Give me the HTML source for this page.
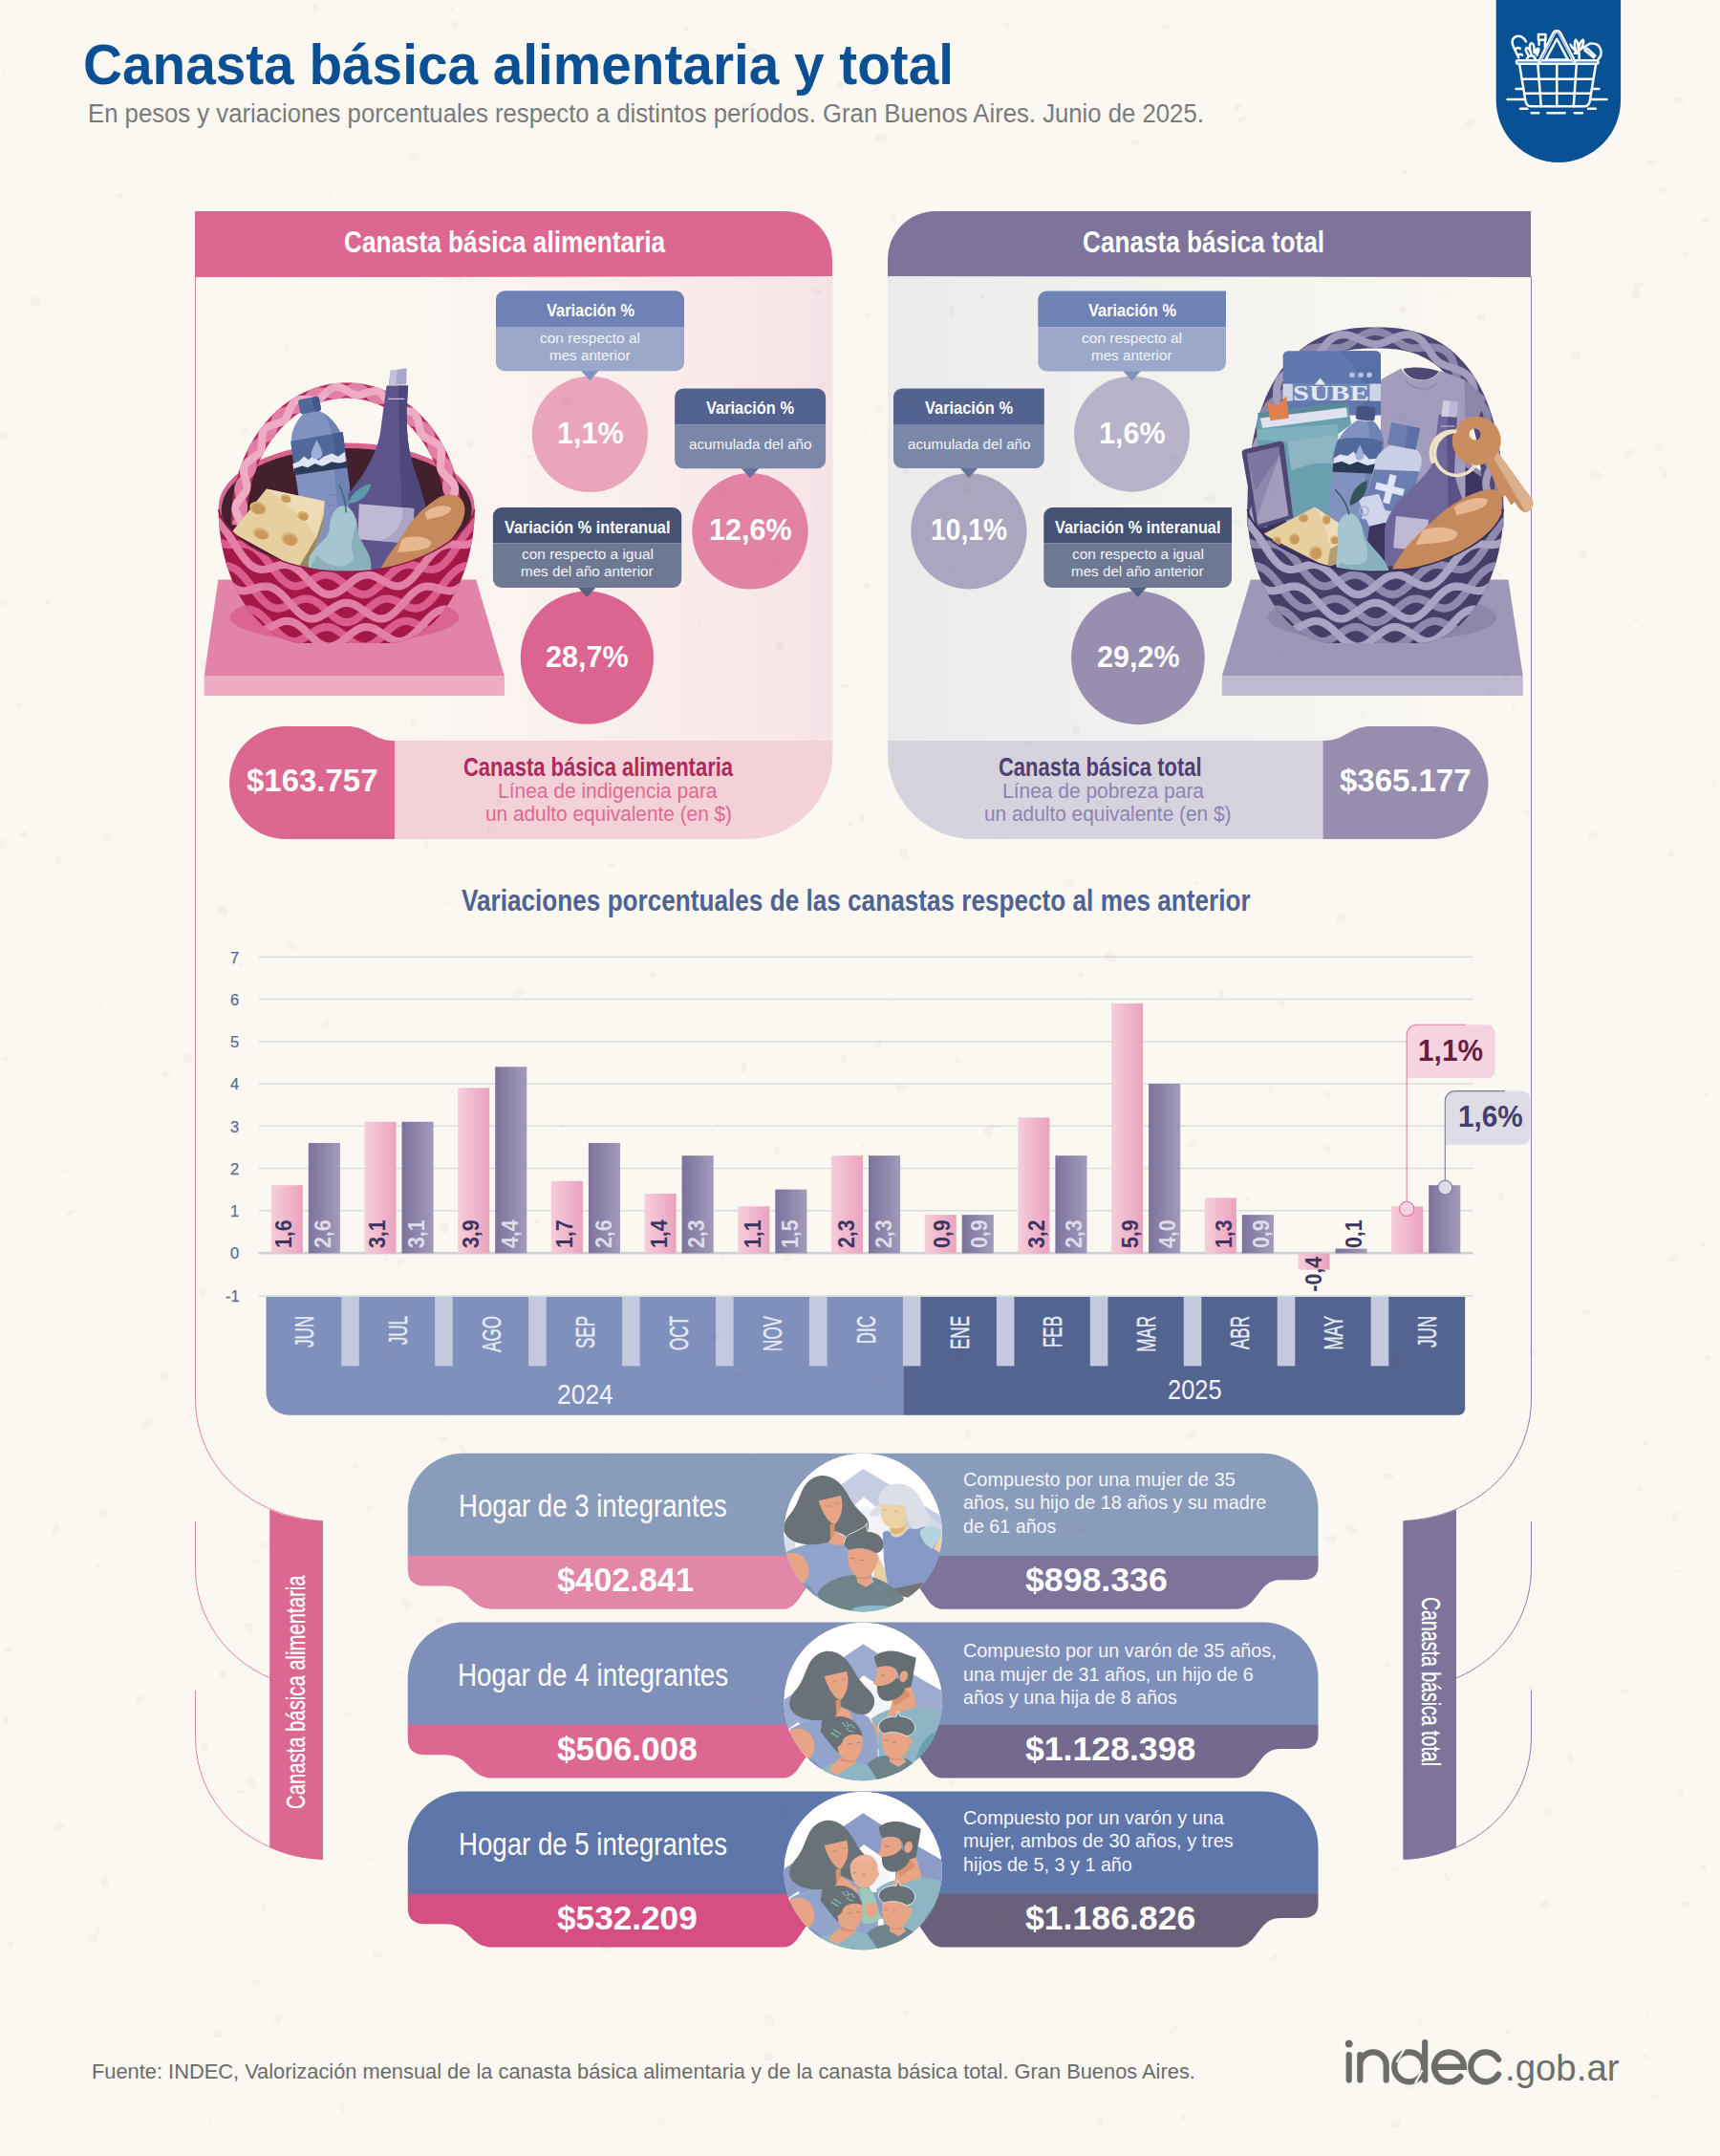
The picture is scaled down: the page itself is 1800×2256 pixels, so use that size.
<!DOCTYPE html>
<html lang="es"><head><meta charset="utf-8"><title>Canasta básica alimentaria y total</title>
<style>
html,body{margin:0;padding:0;}
body{width:1800px;height:2256px;position:relative;overflow:hidden;background:#fbf8f1;font-family:"Liberation Sans",sans-serif;}
#bg,#tex{position:absolute;left:0;top:0;}
.t{position:absolute;white-space:nowrap;line-height:1;transform-origin:0 0;margin:0;padding:0;}
</style></head><body>
<svg id="bg" width="1800" height="2256" viewBox="0 0 1800 2256">
<path d="M1565.7 0H1696.1V104.7a65.2 65.2 0 0 1-130.4 0Z" fill="#095195"/>
<g transform="translate(1560,0) scale(0.08347)" fill="none" stroke="#fff" stroke-width="30" stroke-linecap="round" stroke-linejoin="round">
<rect x="322" y="757" width="1026" height="42" rx="21"/>
<path d="M362 812L436 1262C444 1312 470 1332 505 1332H1175C1210 1332 1236 1312 1244 1262L1318 812"/>
<path d="M830 812V1332M592 812L632 1332M1076 812L1040 1332"/>
<path d="M397 990H1282M428 1170H1252"/>
<path d="M612 770L794 412Q804 394 830 394Q856 394 866 412L1050 770" stroke-width="46"/>
<path d="M622 770L800 420Q808 404 830 404Q852 404 860 420L1040 770" stroke="#095195" stroke-width="7"/>
<path d="M690 748L830 488L968 748Z"/>
<path d="M318 1115H392M1280 1115H1358M212 1246H418M1256 1246H1456M372 1363H460M1222 1363H1316M512 1418H602M712 1418H930M1052 1418H1150"/>
<path d="M350 722L278 570C232 452 392 400 442 522"/>
<path d="M318 610q30-20 50 0M345 690q30-20 52 0"/>
<path d="M598 432H688V500H598ZM606 500V560M682 500V600"/>
<path d="M470 690C440 640 430 610 450 600C480 600 500 640 510 680M500 650C480 580 490 545 515 540C545 550 550 600 545 655M560 665C570 620 590 600 600 610C612 630 595 660 580 690M455 742C470 690 540 680 560 740"/>
<path d="M1000 560C1020 600 1040 620 1068 640C1050 580 1050 530 1065 500C1090 520 1100 560 1098 610C1110 560 1130 515 1160 500C1175 540 1150 590 1110 640"/>
<path d="M1075 650L1245 545M1262 545C1400 540 1410 690 1345 745"/>
<path d="M1180 628L1292 722M1215 610L1310 700M1180 628Q1192 605 1215 610"/>
<path d="M1050 668H1110V745"/>
</g>
<defs>
<linearGradient id="gpk" x1="0" x2="1" y1="0" y2="0"><stop offset="0" stop-color="#f9e6ea" stop-opacity="0"/><stop offset="0.35" stop-color="#f9e6ea" stop-opacity="0.06"/><stop offset="0.62" stop-color="#f9e6ea" stop-opacity="0.45"/><stop offset="1" stop-color="#f7e3e7" stop-opacity="1"/></linearGradient>
<linearGradient id="gpu" x1="0" x2="1" y1="0" y2="0"><stop offset="0" stop-color="#ebebec" stop-opacity="1"/><stop offset="0.55" stop-color="#efeeed" stop-opacity="0.5"/><stop offset="1" stop-color="#f3f1ee" stop-opacity="0"/></linearGradient>
<linearGradient id="bpk" x1="0" x2="1" y1="0" y2="0"><stop offset="0" stop-color="#f6cedb"/><stop offset="1" stop-color="#eaa2bf"/></linearGradient>
<linearGradient id="bpu" x1="0" x2="1" y1="0" y2="0"><stop offset="0" stop-color="#7c729c"/><stop offset="1" stop-color="#a39bbb"/></linearGradient>
</defs>
<path d="M204.5 289V1463C204.5 1535 262.5 1587.5 337.5 1591.5" fill="none" stroke="#e27fa2" stroke-width="1"/>
<path d="M204.5 1592V1640C204.5 1712 262.5 1764.5 337.5 1768.5" fill="none" stroke="#e27fa2" stroke-width="1"/>
<path d="M204.5 1769V1817C204.5 1889 262.5 1941.5 337.5 1945.5" fill="none" stroke="#e27fa2" stroke-width="1"/>
<path d="M1602.5 289V1463C1602.5 1535 1544.5 1587.5 1469.5 1591.5" fill="none" stroke="#8a82a8" stroke-width="1"/>
<path d="M1602.5 1592V1640C1602.5 1712 1544.5 1764.5 1469.5 1768.5" fill="none" stroke="#8a82a8" stroke-width="1"/>
<path d="M1602.5 1769V1817C1602.5 1889 1544.5 1941.5 1469.5 1945.5" fill="none" stroke="#8a82a8" stroke-width="1"/>
<path d="M204 221H821a50 50 0 0 1 50 50V290H204Z" fill="#dc6892"/>
<rect x="204.5" y="289" width="667" height="487" fill="url(#gpk)"/>
<path d="M413 775H871.5V788a90 90 0 0 1-90 90H413Z" fill="#f3d1d9"/>
<path d="M299 760H362C388 760 388 775 413 775V878H299a59 59 0 0 1 0-118Z" fill="#dc6892"/>
<path d="M1602 221H979a50 50 0 0 0-50 50V290H1602Z" fill="#7e739a"/>
<path d="M929 289H1602.5V878H1019a90 90 0 0 1-90-90Z" fill="url(#gpu)"/>
<path d="M929 775H1384.5V878H1019a90 90 0 0 1-90-90Z" fill="#d6d3df"/>
<path d="M1384.5 775C1410 775 1410 760 1436 760H1498.5a59 59 0 0 1 0 118H1384.5Z" fill="#978eaf"/>
<circle cx="617.4" cy="454.4" r="60.6" fill="#e9a5bc"/>
<circle cx="785" cy="555.8" r="60.7" fill="#e283a6"/>
<circle cx="614.4" cy="688.2" r="69.6" fill="#dc6490"/>
<path d="M607.8 387.7H626.8L617.3 398.2Z" fill="#8292bf"/>
<path d="M528 304.3H707a9 9 0 0 1 9 9V342H519V313.3a9 9 0 0 1 9-9Z" fill="#6f82b5"/>
<path d="M519 342H716V379.2a9 9 0 0 1-9 9H528a9 9 0 0 1-9-9Z" fill="#9ba8c9"/>
<path d="M775.5 489.8H794.5L785 500.3Z" fill="#66739b"/>
<path d="M715.1 406.6H855.1a9 9 0 0 1 9 9V444.6H706.1V415.6a9 9 0 0 1 9-9Z" fill="#53638f"/>
<path d="M706.1 444.6H864.1V481.3a9 9 0 0 1-9 9H715.1a9 9 0 0 1-9-9Z" fill="#7b87a8"/>
<path d="M604.7 614.5H623.7L614.2 625Z" fill="#566083"/>
<path d="M524.9 531H704.2a9 9 0 0 1 9 9V568.6H515.9V540a9 9 0 0 1 9-9Z" fill="#465274"/>
<path d="M515.9 568.6H713.2V606a9 9 0 0 1-9 9H524.9a9 9 0 0 1-9-9Z" fill="#6e7893"/>
<circle cx="1184.6" cy="454.2" r="60.5" fill="#b8b2c9"/>
<circle cx="1013.9" cy="555.8" r="60.6" fill="#aba5c0"/>
<circle cx="1190.9" cy="688.4" r="69.8" fill="#978eb0"/>
<path d="M1175.1 387.9H1194.1L1184.6 398.4Z" fill="#8292bf"/>
<path d="M1095.3 304.6H1282.99a0.01 0.01 0 0 1 0.01 0.01V342.3H1086.3V313.6a9 9 0 0 1 9-9Z" fill="#6f82b5"/>
<path d="M1086.3 342.3H1283V379.4a9 9 0 0 1-9 9H1095.3a9 9 0 0 1-9-9Z" fill="#9ba8c9"/>
<path d="M1004.4 489.5H1023.4L1013.9 500Z" fill="#66739b"/>
<path d="M944 406.4H1092.79a0.01 0.01 0 0 1 0.01 0.01V444.8H935V415.4a9 9 0 0 1 9-9Z" fill="#53638f"/>
<path d="M935 444.8H1092.8V481a9 9 0 0 1-9 9H944a9 9 0 0 1-9-9Z" fill="#7b87a8"/>
<path d="M1181.2 614.5H1200.2L1190.7 625Z" fill="#566083"/>
<path d="M1101.3 531H1288.99a0.01 0.01 0 0 1 0.01 0.01V568.6H1092.3V540a9 9 0 0 1 9-9Z" fill="#465274"/>
<path d="M1092.3 568.6H1289V606a9 9 0 0 1-9 9H1101.3a9 9 0 0 1-9-9Z" fill="#6e7893"/>
<rect x="270.7" y="1355.2" width="1270.7" height="1.7" fill="#dbdcdb"/>
<rect x="270.7" y="1266.00" width="1270.7" height="1.5" fill="#dadcdf"/>
<rect x="270.7" y="1221.75" width="1270.7" height="1.5" fill="#dadcdf"/>
<rect x="270.7" y="1177.50" width="1270.7" height="1.5" fill="#dadcdf"/>
<rect x="270.7" y="1133.25" width="1270.7" height="1.5" fill="#dadcdf"/>
<rect x="270.7" y="1089.00" width="1270.7" height="1.5" fill="#dadcdf"/>
<rect x="270.7" y="1044.75" width="1270.7" height="1.5" fill="#dadcdf"/>
<rect x="270.7" y="1000.50" width="1270.7" height="1.5" fill="#dadcdf"/>
<rect x="270.7" y="1309.90" width="1270.7" height="2.5" fill="#cfd0d1"/>
<rect x="283.75" y="1240.20" width="33.1" height="71.20" fill="url(#bpk)"/>
<rect x="322.80" y="1195.95" width="33.1" height="115.45" fill="url(#bpu)"/>
<rect x="381.45" y="1173.83" width="33.1" height="137.58" fill="url(#bpk)"/>
<rect x="420.50" y="1173.83" width="33.1" height="137.58" fill="url(#bpu)"/>
<rect x="479.15" y="1138.42" width="33.1" height="172.98" fill="url(#bpk)"/>
<rect x="518.20" y="1116.30" width="33.1" height="195.10" fill="url(#bpu)"/>
<rect x="576.85" y="1235.78" width="33.1" height="75.62" fill="url(#bpk)"/>
<rect x="615.90" y="1195.95" width="33.1" height="115.45" fill="url(#bpu)"/>
<rect x="674.55" y="1249.05" width="33.1" height="62.35" fill="url(#bpk)"/>
<rect x="713.60" y="1209.22" width="33.1" height="102.18" fill="url(#bpu)"/>
<rect x="772.25" y="1262.33" width="33.1" height="49.08" fill="url(#bpk)"/>
<rect x="811.30" y="1244.62" width="33.1" height="66.78" fill="url(#bpu)"/>
<rect x="869.95" y="1209.22" width="33.1" height="102.18" fill="url(#bpk)"/>
<rect x="909.00" y="1209.22" width="33.1" height="102.18" fill="url(#bpu)"/>
<rect x="967.65" y="1271.17" width="33.1" height="40.23" fill="url(#bpk)"/>
<rect x="1006.70" y="1271.17" width="33.1" height="40.23" fill="url(#bpu)"/>
<rect x="1065.35" y="1169.40" width="33.1" height="142.00" fill="url(#bpk)"/>
<rect x="1104.40" y="1209.22" width="33.1" height="102.18" fill="url(#bpu)"/>
<rect x="1163.05" y="1049.92" width="33.1" height="261.48" fill="url(#bpk)"/>
<rect x="1202.10" y="1134.00" width="33.1" height="177.40" fill="url(#bpu)"/>
<rect x="1260.75" y="1253.47" width="33.1" height="57.93" fill="url(#bpk)"/>
<rect x="1299.80" y="1271.17" width="33.1" height="40.23" fill="url(#bpu)"/>
<rect x="1358.45" y="1311.60" width="33.1" height="17.10" fill="url(#bpk)"/>
<rect x="1397.50" y="1306.58" width="33.1" height="4.83" fill="url(#bpu)"/>
<rect x="1456.15" y="1262.33" width="33.1" height="49.08" fill="url(#bpk)"/>
<rect x="1495.20" y="1240.20" width="33.1" height="71.20" fill="url(#bpu)"/>
<path d="M278.5 1356.9H945.3V1480.8H302.5a24 24 0 0 1-24-24Z" fill="#7e90bb"/>
<path d="M945.3 1356.9H1533.2V1473.8a7 7 0 0 1-7 7H945.3Z" fill="#52648f"/>
<rect x="357.20" y="1356.9" width="18.6" height="72.5" fill="#c3cadf"/>
<rect x="455.15" y="1356.9" width="18.6" height="72.5" fill="#c3cadf"/>
<rect x="553.10" y="1356.9" width="18.6" height="72.5" fill="#c3cadf"/>
<rect x="651.05" y="1356.9" width="18.6" height="72.5" fill="#c3cadf"/>
<rect x="749.00" y="1356.9" width="18.6" height="72.5" fill="#c3cadf"/>
<rect x="846.95" y="1356.9" width="18.6" height="72.5" fill="#c3cadf"/>
<rect x="944.90" y="1356.9" width="18.6" height="72.5" fill="#c3cadf"/>
<rect x="1042.85" y="1356.9" width="18.6" height="72.5" fill="#c3cadf"/>
<rect x="1140.80" y="1356.9" width="18.6" height="72.5" fill="#c3cadf"/>
<rect x="1238.75" y="1356.9" width="18.6" height="72.5" fill="#c3cadf"/>
<rect x="1336.70" y="1356.9" width="18.6" height="72.5" fill="#c3cadf"/>
<rect x="1434.65" y="1356.9" width="18.6" height="72.5" fill="#c3cadf"/>
<path d="M1482.7 1072.3H1556.6a8 8 0 0 1 8 8V1120.1a8 8 0 0 1-8 8H1472.2V1082.8a10.5 10.5 0 0 1 10.5-10.5Z" fill="#f6d3e0"/>
<path d="M1472.2 1257V1082.8a10.5 10.5 0 0 1 10.5-10.5H1534" fill="none" stroke="#e47fa3" stroke-width="1.1"/>
<circle cx="1472.2" cy="1264.9" r="7.6" fill="#f6d3e0" stroke="#e0759b" stroke-width="1.1"/>
<path d="M1522.8 1141.6H1593.2a8 8 0 0 1 8 8V1189.7a8 8 0 0 1-8 8H1512.3V1152.1a10.5 10.5 0 0 1 10.5-10.5Z" fill="#dddce7"/>
<path d="M1512.3 1235V1152.1a10.5 10.5 0 0 1 10.5-10.5H1575" fill="none" stroke="#7e7a9c" stroke-width="1.1"/>
<circle cx="1512.4" cy="1242.7" r="7.4" fill="#dddce7" stroke="#7e7a9c" stroke-width="1.1"/>
<path d="M426.75 1628.3V1578.75a58 58 0 0 1 58-58H1321.5a58 58 0 0 1 58 58V1628.3Z" fill="#899cbb"/>
<path d="M426.75 1628.0H903.1V1683.75H516C490 1683.75 492 1659.5 466 1659.5H444.75Q426.75 1659.5 426.75 1642.5Z" fill="#e287a7"/>
<path d="M903.1 1628.0H1379.5V1639.25Q1379.5 1653.25 1362.5 1653.25H1340C1315 1653.25 1318 1683.75 1292 1683.75H903.1Z" fill="#7e739a"/>
<path d="M817 1684.75Q828 1683.75 834 1675.75L852 1649.75H954L972 1675.75Q978 1683.75 989 1684.75Z" fill="#fbf8f1"/>
<path d="M426.75 1805.1499999999999V1755.6a58 58 0 0 1 58-58H1321.5a58 58 0 0 1 58 58V1805.1499999999999Z" fill="#7e90ba"/>
<path d="M426.75 1804.85H903.1V1860.6H516C490 1860.6 492 1836.35 466 1836.35H444.75Q426.75 1836.35 426.75 1819.35Z" fill="#dc6892"/>
<path d="M903.1 1804.85H1379.5V1816.1Q1379.5 1830.1 1362.5 1830.1H1340C1315 1830.1 1318 1860.6 1292 1860.6H903.1Z" fill="#736a8d"/>
<path d="M817 1861.6Q828 1860.6 834 1852.6L852 1826.6H954L972 1852.6Q978 1860.6 989 1861.6Z" fill="#fbf8f1"/>
<path d="M426.75 1982.1499999999999V1932.6a58 58 0 0 1 58-58H1321.5a58 58 0 0 1 58 58V1982.1499999999999Z" fill="#5f76ab"/>
<path d="M426.75 1981.85H903.1V2037.6H516C490 2037.6 492 2013.35 466 2013.35H444.75Q426.75 2013.35 426.75 1996.35Z" fill="#d64f83"/>
<path d="M903.1 1981.85H1379.5V1993.1Q1379.5 2007.1 1362.5 2007.1H1340C1315 2007.1 1318 2037.6 1292 2037.6H903.1Z" fill="#69617c"/>
<path d="M817 2038.6Q828 2037.6 834 2029.6L852 2003.6H954L972 2029.6Q978 2037.6 989 2038.6Z" fill="#fbf8f1"/>
<path d="M282.2 1579.6C298 1586.5 316 1591 338 1591.6V1945.8C316 1945 298 1940.5 282.2 1933Z" fill="#dc6892"/>
<path d="M1524 1579.6C1508 1586.5 1490 1591 1468.3 1591.6V1945.8C1490 1945 1508 1940.5 1524 1933Z" fill="#7e739a"/>
<clipPath id="avc0"><circle cx="843" cy="847" r="750"/></clipPath>
<g transform="translate(810,1510) scale(0.110465)"><g clip-path="url(#avc0)">
<circle cx="843" cy="847" r="752" fill="#fff"/>
<path d="M640 392L845 245L1090 392L1600 700V1000H640Z" fill="#c5cde2"/>
<path d="M740 610L850 512L960 600L1100 720V1000H740Z" fill="#fff"/>
<path d="M800 660L880 590L1100 760V1000H800Z" fill="#f1f3f8"/>
<path d="M90 900L200 820V1100H90Z" fill="#d9deed"/>
<path d="M1380 640L1600 780V1000H1380Z" fill="#d1d8ea"/>
<path d="M1030 850C1060 820 1100 820 1110 870C1150 900 1200 900 1260 820L1400 790C1500 800 1560 900 1600 1000V1200L1400 1400L1080 1460L1040 1100Z" fill="#8499c6"/>
<path d="M1380 830C1450 760 1580 790 1600 860L1500 1000C1450 980 1390 920 1380 830Z" fill="#b7d3de"/>
<path d="M1510 1000L1600 850V1060Z" fill="#ecd3a5"/>
<path d="M1100 800L1260 760L1262 822C1200 905 1150 905 1108 872Z" fill="#ecd3a5"/>
<path d="M1100 810L1255 770L1230 830C1190 870 1140 860 1105 850Z" fill="#d9b57a"/>
<path d="M1005 580L1240 590C1250 700 1262 760 1232 790C1150 832 1060 800 1030 740C1010 700 1000 640 1005 580Z" fill="#ecd3a5"/>
<path d="M1000 575C960 470 1050 390 1170 385C1300 380 1400 500 1420 600C1440 650 1470 680 1492 702C1450 782 1380 822 1320 815C1280 790 1250 700 1240 592L1005 580C960 610 925 645 900 682C940 620 960 600 1000 575Z" fill="#dcdee8"/>
<path d="M1003 578C955 610 925 645 898 684C950 704 1000 692 1012 660Z" fill="#dcdee8"/>
<path d="M1030 640q18-14 36 0M1130 650q18-14 36 0" stroke="#b59a78" stroke-width="6" fill="none"/>
<g transform="translate(-55,-62)">
<path d="M150 1110C250 1040 400 1010 560 1000C640 1000 700 960 740 930C800 940 860 970 900 1000C960 1100 980 1250 990 1400L700 1660L420 1580L320 1380Z" fill="#92a3cc"/>
<path d="M320 1385C420 1400 470 1500 500 1640L380 1560Z" fill="#8093c0"/>
<path d="M150 1120C280 1060 380 1150 385 1270C385 1340 350 1380 320 1385C240 1300 180 1220 150 1120Z" fill="#e8a585"/>
<path d="M585 800L640 820L640 900C700 930 740 960 745 1010C700 1040 600 1030 555 1000Z" fill="#e8a585"/>
<path d="M500 370C620 360 700 450 760 560C800 640 860 700 920 760C970 820 960 900 900 950C840 990 760 960 720 930L620 890L575 1000C480 1030 300 1045 200 965C120 900 130 820 220 720C320 600 300 400 500 370Z" fill="#697277"/>
<path d="M478 607L690 560C716 660 700 760 632 832C570 822 500 700 478 607Z" fill="#e8a585"/>
<path d="M585 830L632 832L628 905L590 990Z" fill="#d8906d"/>
<path d="M555 665q20-18 40 0M640 640q20-18 40 0" stroke="#b07a66" stroke-width="6" fill="none"/>
</g>
<path d="M955 1100C1000 1060 1050 1150 1078 1345L940 1295Z" fill="#e8cfa6"/>
<path d="M410 1430C450 1340 600 1250 780 1250L790 1320L870 1365L940 1320L930 1270C1050 1300 1150 1380 1232 1470L1150 1640L500 1660Z" fill="#6f838a"/>
<path d="M1130 1380L1420 1320L1300 1470L1210 1450Z" fill="#747474"/>
<path d="M780 1255L905 1255L940 1320L870 1365L790 1320Z" fill="#e8a585"/><path d="M780 1255L905 1255L900 1285L790 1285Z" fill="#d8906d"/>
<path d="M700 1020C780 980 900 1000 962 1040C1002 1060 1002 1120 972 1142C960 1220 900 1270 830 1276C760 1270 710 1200 700 1100Z" fill="#e8a585"/>
<path d="M665 950C660 880 760 830 880 840C980 840 1040 900 1036 960C1040 1010 1000 1042 960 1042C900 1000 800 980 720 1012C690 1000 670 980 665 950Z" fill="#687176"/>
<path d="M665 950C662 905 700 860 760 845L860 790L880 760L878 830" fill="none" stroke="#fff" stroke-width="7"/>
<path d="M725 1095q18-14 34 0M815 1112q18-14 34 0" stroke="#9a6a58" stroke-width="6" fill="none"/>
<ellipse cx="950" cy="1585" rx="215" ry="48" fill="#8cb8c8"/>
</g></g>
<clipPath id="avc1"><circle cx="843" cy="847" r="750"/></clipPath>
<g transform="translate(810,1687) scale(0.110465)"><g clip-path="url(#avc1)">
<circle cx="843" cy="847" r="752" fill="#fff"/>
<path d="M90 830L260 720L640 440L845 300L1060 440L1600 750V1300H90Z" fill="#9dabd0"/>
<path d="M760 680L850 598L1000 700L1150 800V1050H760Z" fill="#fff"/>
<path d="M830 690L880 660L1100 800V1050H830Z" fill="#f4f5f9"/>
<path d="M1330 590L1600 740V640L1345 520Z" fill="#fff"/>
<path d="M130 1110L230 1040L250 1065L150 1135Z" fill="#fff"/>
<g transform="translate(0,0)">
<path d="M920 1010C1000 950 1060 930 1100 920L1080 990L1350 890C1450 900 1540 930 1620 960V1400L1300 1640L1000 1500L980 1100Z" fill="#8db5c4"/>
<path d="M1340 1420C1370 1260 1450 1150 1580 1110L1560 1350L1380 1520Z" fill="#6a9fb4"/>
<path d="M1120 840L1240 720L1300 700L1355 892L1080 992Z" fill="#e8a585"/>
<path d="M1120 840L1240 720L1295 790L1150 885Z" fill="#d8906d"/>
<path d="M980 520C1020 505 1100 500 1150 540C1175 580 1160 640 1120 685C1060 705 1000 700 975 700L938 672L962 640Z" fill="#e8a585"/>
<path d="M950 420C1000 370 1100 350 1200 380L1347 432L1300 705L1240 722L1180 640C1190 580 1160 540 1130 520C1080 500 1020 510 980 522C960 480 950 450 950 420Z" fill="#656e73"/>
<path d="M975 698C1040 700 1120 682 1160 620L1180 640L1240 722C1230 782 1160 832 1080 842C1020 842 990 800 980 760Z" fill="#656e73"/>
<ellipse cx="1228" cy="608" rx="38" ry="55" fill="#e8a585" transform="rotate(15 1228 608)"/>
<path d="M1010 600q22-8 40 2" stroke="#7b6a66" stroke-width="6" fill="none"/>
</g>
<g transform="translate(0,0)">
<path d="M150 1110C250 1040 400 1010 560 1000C640 1000 700 960 740 930C800 940 860 970 900 1000C960 1100 980 1250 990 1400L700 1660L420 1580L320 1380Z" fill="#92a3cc"/>
<path d="M320 1385C420 1400 470 1500 500 1640L380 1560Z" fill="#8093c0"/>
<path d="M150 1120C280 1060 380 1150 385 1270C385 1340 350 1380 320 1385C240 1300 180 1220 150 1120Z" fill="#e8a585"/>
<path d="M585 800L640 820L640 900C700 930 740 960 745 1010C700 1040 600 1030 555 1000Z" fill="#e8a585"/>
<path d="M500 370C620 360 700 450 760 560C800 640 860 700 920 760C970 820 960 900 900 950C840 990 760 960 720 930L620 890L575 1000C480 1030 300 1045 200 965C120 900 130 820 220 720C320 600 300 400 500 370Z" fill="#697277"/>
<path d="M478 607L690 560C716 660 700 760 632 832C570 822 500 700 478 607Z" fill="#e8a585"/>
<path d="M585 830L632 832L628 905L590 990Z" fill="#d8906d"/>
<path d="M555 665q20-18 40 0M640 640q20-18 40 0" stroke="#b07a66" stroke-width="6" fill="none"/>
</g>
<path d="M880 985C960 1060 1000 1180 985 1360L1000 1100Z" fill="#e8a585"/>
<path d="M450 1480C500 1450 560 1430 600 1430L600 1545L780 1420C900 1440 980 1500 1030 1570L700 1660L420 1600Z" fill="#8db5c4"/>
<path d="M620 1385L770 1400L782 1422L600 1545L520 1500C540 1450 580 1420 620 1385Z" fill="#e8a585"/>
<path d="M625 1385L770 1400L760 1425L640 1415Z" fill="#d8906d"/>
<path d="M600 1270C570 1240 560 1200 600 1200C640 1150 760 1140 835 1170C850 1250 830 1350 770 1400C700 1420 630 1380 610 1330Z" fill="#e8a585"/>
<path d="M440 1130C450 1030 560 970 660 990C760 1010 820 1090 838 1172C790 1150 720 1150 665 1190C645 1230 640 1262 602 1272L612 1335C560 1290 520 1230 440 1130Z" fill="#687176"/>
<circle cx="520" cy="1060" r="72" fill="#687176"/>
<path d="M540 1140l70 45M565 1112l70 45" stroke="#7fc4b0" stroke-width="12" fill="none"/>
<path d="M630 1085q15-15 25 0t25 0t25 0M660 1060q15-15 25 0t25 0t25 0t25 0M690 1110q15-15 25 0t25 0t25 0" stroke="#7fc4b0" stroke-width="9" fill="none" transform="rotate(28 700 1090)"/>
<path d="M700 1250q18-16 36 0M785 1240q18-16 36 0" stroke="#9a6a58" stroke-width="6" fill="none"/>
<path d="M880 1440C940 1380 1020 1350 1095 1360L1100 1420L1180 1465L1250 1420L1232 1380C1300 1400 1330 1440 1345 1475L1250 1640L1030 1660Z" fill="#6f838a"/>
<path d="M1095 1375L1215 1375L1250 1420L1180 1465L1100 1420Z" fill="#e8a585"/>
<path d="M1095 1375L1215 1375L1205 1400L1110 1400Z" fill="#d8906d"/>
<path d="M1025 1150C1100 1120 1200 1130 1250 1170L1290 1190C1320 1210 1310 1260 1280 1272C1270 1330 1220 1392 1150 1392C1080 1392 1030 1330 1025 1250Z" fill="#e8a585"/>
<path d="M990 1080C1000 1010 1100 980 1160 990L1172 938L1192 985C1280 990 1340 1040 1336 1100C1330 1150 1290 1172 1250 1172C1180 1130 1100 1130 1040 1152C1010 1130 990 1110 990 1080Z" fill="#687176" stroke="#fff" stroke-width="7"/>
<path d="M1045 1218q18-14 34 0M1125 1235q18-14 34 0" stroke="#9a6a58" stroke-width="6" fill="none"/>
</g></g>
<clipPath id="avc2"><circle cx="843" cy="847" r="750"/></clipPath>
<g transform="translate(810,1864) scale(0.110465)"><g clip-path="url(#avc2)">
<circle cx="843" cy="847" r="752" fill="#fff"/>
<path d="M90 830L260 720L640 440L845 300L1060 440L1600 750V1300H90Z" fill="#8b9cc8"/>
<path d="M760 680L850 598L1000 700L1150 800V1050H760Z" fill="#fff"/>
<path d="M830 690L880 660L1100 800V1050H830Z" fill="#f4f5f9"/>
<path d="M1330 590L1600 740V640L1345 520Z" fill="#fff"/>
<path d="M130 1110L230 1040L250 1065L150 1135Z" fill="#fff"/>
<g transform="translate(45,15)">
<path d="M920 1010C1000 950 1060 930 1100 920L1080 990L1350 890C1450 900 1540 930 1620 960V1400L1300 1640L1000 1500L980 1100Z" fill="#8db5c4"/>
<path d="M1340 1420C1370 1260 1450 1150 1580 1110L1560 1350L1380 1520Z" fill="#6a9fb4"/>
<path d="M1120 840L1240 720L1300 700L1355 892L1080 992Z" fill="#e8a585"/>
<path d="M1120 840L1240 720L1295 790L1150 885Z" fill="#d8906d"/>
<path d="M980 520C1020 505 1100 500 1150 540C1175 580 1160 640 1120 685C1060 705 1000 700 975 700L938 672L962 640Z" fill="#e8a585"/>
<path d="M950 420C1000 370 1100 350 1200 380L1347 432L1300 705L1240 722L1180 640C1190 580 1160 540 1130 520C1080 500 1020 510 980 522C960 480 950 450 950 420Z" fill="#656e73"/>
<path d="M975 698C1040 700 1120 682 1160 620L1180 640L1240 722C1230 782 1160 832 1080 842C1020 842 990 800 980 760Z" fill="#656e73"/>
<ellipse cx="1228" cy="608" rx="38" ry="55" fill="#e8a585" transform="rotate(15 1228 608)"/>
<path d="M1010 600q22-8 40 2" stroke="#7b6a66" stroke-width="6" fill="none"/>
</g>
<g transform="translate(0,0)">
<path d="M150 1110C250 1040 400 1010 560 1000C640 1000 700 960 740 930C800 940 860 970 900 1000C960 1100 980 1250 990 1400L700 1660L420 1580L320 1380Z" fill="#92a3cc"/>
<path d="M320 1385C420 1400 470 1500 500 1640L380 1560Z" fill="#8093c0"/>
<path d="M150 1120C280 1060 380 1150 385 1270C385 1340 350 1380 320 1385C240 1300 180 1220 150 1120Z" fill="#e8a585"/>
<path d="M585 800L640 820L640 900C700 930 740 960 745 1010C700 1040 600 1030 555 1000Z" fill="#e8a585"/>
<path d="M500 370C620 360 700 450 760 560C800 640 860 700 920 760C970 820 960 900 900 950C840 990 760 960 720 930L620 890L575 1000C480 1030 300 1045 200 965C120 900 130 820 220 720C320 600 300 400 500 370Z" fill="#697277"/>
<path d="M478 607L690 560C716 660 700 760 632 832C570 822 500 700 478 607Z" fill="#e8a585"/>
<path d="M585 830L632 832L628 905L590 990Z" fill="#d8906d"/>
<path d="M555 665q20-18 40 0M640 640q20-18 40 0" stroke="#b07a66" stroke-width="6" fill="none"/>
</g>
<path d="M800 1020C850 1005 920 1010 942 1060C980 1150 985 1250 1025 1290C960 1352 880 1362 830 1332C850 1200 830 1100 800 1020Z" fill="#9bcbb8"/>
<path d="M720 800C740 720 830 680 900 700C960 720 992 790 982 850C1002 862 1002 900 976 906C960 970 900 1012 840 1012C770 1000 720 920 720 800Z" fill="#eab08f"/>
<path d="M790 760l70-55M830 765l70-52M870 775l60-45" stroke="#f3d9c6" stroke-width="7" fill="none"/>
<ellipse cx="920" cy="1215" rx="58" ry="70" fill="#e8a585"/>
<path d="M700 990C730 960 770 990 800 1020L790 1060Z" fill="#e8a585"/>
<path d="M755 870q16-12 32 0M835 885q16-12 32 0" stroke="#9a6a58" stroke-width="6" fill="none"/>
<path d="M450 1480C500 1450 560 1430 600 1430L600 1545L780 1420C900 1440 980 1500 1030 1570L700 1660L420 1600Z" fill="#8db5c4"/>
<path d="M620 1385L770 1400L782 1422L600 1545L520 1500C540 1450 580 1420 620 1385Z" fill="#e8a585"/>
<path d="M625 1385L770 1400L760 1425L640 1415Z" fill="#d8906d"/>
<path d="M600 1270C570 1240 560 1200 600 1200C640 1150 760 1140 835 1170C850 1250 830 1350 770 1400C700 1420 630 1380 610 1330Z" fill="#e8a585"/>
<path d="M440 1130C450 1030 560 970 660 990C760 1010 820 1090 838 1172C790 1150 720 1150 665 1190C645 1230 640 1262 602 1272L612 1335C560 1290 520 1230 440 1130Z" fill="#687176"/>
<circle cx="520" cy="1060" r="72" fill="#687176"/>
<path d="M540 1140l70 45M565 1112l70 45" stroke="#7fc4b0" stroke-width="12" fill="none"/>
<path d="M630 1085q15-15 25 0t25 0t25 0M660 1060q15-15 25 0t25 0t25 0t25 0M690 1110q15-15 25 0t25 0t25 0" stroke="#7fc4b0" stroke-width="9" fill="none" transform="rotate(28 700 1090)"/>
<path d="M700 1250q18-16 36 0M785 1240q18-16 36 0" stroke="#9a6a58" stroke-width="6" fill="none"/>
<path d="M880 1440C940 1380 1020 1350 1095 1360L1100 1420L1180 1465L1250 1420L1232 1380C1300 1400 1330 1440 1345 1475L1250 1640L1030 1660Z" fill="#6f838a"/>
<path d="M1095 1375L1215 1375L1250 1420L1180 1465L1100 1420Z" fill="#e8a585"/>
<path d="M1095 1375L1215 1375L1205 1400L1110 1400Z" fill="#d8906d"/>
<path d="M1025 1150C1100 1120 1200 1130 1250 1170L1290 1190C1320 1210 1310 1260 1280 1272C1270 1330 1220 1392 1150 1392C1080 1392 1030 1330 1025 1250Z" fill="#e8a585"/>
<path d="M990 1080C1000 1010 1100 980 1160 990L1172 938L1192 985C1280 990 1340 1040 1336 1100C1330 1150 1290 1172 1250 1172C1180 1130 1100 1130 1040 1152C1010 1130 990 1110 990 1080Z" fill="#687176" stroke="#fff" stroke-width="7"/>
<path d="M1045 1218q18-14 34 0M1125 1235q18-14 34 0" stroke="#9a6a58" stroke-width="6" fill="none"/>
</g></g>
<path d="M228.4 606.4H498.2L527.9 707.6H213.6Z" fill="#e283a8"/>
<rect x="213.6" y="707.4" width="314.29999999999995" height="20.6" fill="#eeabc4"/>
<ellipse cx="360.5" cy="646" rx="120" ry="26" fill="#dc6490"/>
<ellipse cx="362.7" cy="531" rx="134" ry="67.5" fill="#d9638f"/>
<ellipse cx="362.7" cy="533.5" rx="131" ry="64.5" fill="#43202d"/>
<path d="M250.3 549.1 L250.2 547.6 L250.2 546.2 L250.2 544.7 L250.2 543.3 L250.2 541.8 L250.3 540.4 L250.3 538.9 L250.4 537.4 L250.4 536.0 L250.5 534.5 L250.6 533.1 L250.7 531.6 L250.9 530.2 L251.0 528.7 L251.2 527.3 L251.3 525.9 L251.5 524.4 L251.7 523.0 L251.9 521.5 L252.1 520.1 L252.3 518.7 L252.6 517.2 L252.8 515.8 L253.1 514.4 L253.3 513.0 L253.6 511.6 L253.9 510.2 L254.2 508.7 L254.6 507.3 L254.9 505.9 L255.3 504.6 L255.6 503.2 L256.0 501.8 L256.4 500.4 L256.8 499.0 L257.2 497.7 L257.6 496.3 L258.0 494.9 L258.5 493.6 L258.9 492.2 L259.4 490.9 L259.9 489.6 L260.4 488.2 L260.9 486.9 L261.4 485.6 L261.9 484.3 L262.5 483.0 L263.0 481.7 L263.6 480.4 L264.2 479.1 L264.8 477.9 L265.3 476.6 L266.0 475.3 L266.6 474.1 L267.2 472.8 L267.8 471.6 L268.5 470.4 L269.2 469.2 L269.8 468.0 L270.5 466.8 L271.2 465.6 L271.9 464.4 L272.6 463.2 L273.3 462.1 L274.1 460.9 L274.8 459.8 L275.6 458.6 L276.3 457.5 L277.1 456.4 L277.9 455.3 L278.7 454.2 L279.5 453.1 L280.3 452.1 L281.1 451.0 L282.0 449.9 L282.8 448.9 L283.7 447.9 L284.5 446.9 L285.4 445.8 L286.3 444.8 L287.1 443.9 L288.0 442.9 L288.9 441.9 L289.9 441.0 L290.8 440.0 L291.7 439.1 L292.6 438.2 L293.6 437.3 L294.5 436.4 L295.5 435.5 L296.5 434.7 L297.4 433.8 L298.4 433.0 L299.4 432.2 L300.4 431.3 L301.4 430.5 L302.4 429.8 L303.4 429.0 L304.4 428.2 L305.5 427.5 L306.5 426.7 L307.6 426.0 L308.6 425.3 L309.7 424.6 L310.7 423.9 L311.8 423.3 L312.9 422.6 L313.9 422.0 L315.0 421.4 L316.1 420.7 L317.2 420.2 L318.3 419.6 L319.4 419.0 L320.5 418.5 L321.6 417.9 L322.8 417.4 L323.9 416.9 L325.0 416.4 L326.2 415.9 L327.3 415.4 L328.4 415.0 L329.6 414.5 L330.7 414.1 L331.9 413.7 L333.0 413.3 L334.2 413.0 L335.4 412.6 L336.5 412.2 L337.7 411.9 L338.9 411.6 L340.0 411.3 L341.2 411.0 L342.4 410.7 L343.6 410.5 L344.8 410.2 L346.0 410.0 L347.1 409.8 L348.3 409.6 L349.5 409.4 L350.7 409.3 L351.9 409.1 L353.1 409.0 L354.3 408.9 L355.5 408.8 L356.7 408.7 L357.9 408.6 L359.1 408.6 L360.3 408.5 L361.5 408.5 L362.7 408.5 L363.9 408.5 L365.1 408.5 L366.3 408.6 L367.5 408.6 L368.7 408.7 L369.9 408.8 L371.1 408.9 L372.3 409.0 L373.5 409.1 L374.7 409.3 L375.9 409.4 L377.1 409.6 L378.3 409.8 L379.4 410.0 L380.6 410.2 L381.8 410.5 L383.0 410.7 L384.2 411.0 L385.4 411.3 L386.5 411.6 L387.7 411.9 L388.9 412.2 L390.0 412.6 L391.2 413.0 L392.4 413.3 L393.5 413.7 L394.7 414.1 L395.8 414.5 L397.0 415.0 L398.1 415.4 L399.2 415.9 L400.4 416.4 L401.5 416.9 L402.6 417.4 L403.8 417.9 L404.9 418.5 L406.0 419.0 L407.1 419.6 L408.2 420.2 L409.3 420.7 L410.4 421.4 L411.5 422.0 L412.5 422.6 L413.6 423.3 L414.7 423.9 L415.7 424.6 L416.8 425.3 L417.8 426.0 L418.9 426.7 L419.9 427.5 L421.0 428.2 L422.0 429.0 L423.0 429.8 L424.0 430.5 L425.0 431.3 L426.0 432.2 L427.0 433.0 L428.0 433.8 L428.9 434.7 L429.9 435.5 L430.9 436.4 L431.8 437.3 L432.8 438.2 L433.7 439.1 L434.6 440.0 L435.5 441.0 L436.5 441.9 L437.4 442.9 L438.3 443.9 L439.1 444.8 L440.0 445.8 L440.9 446.9 L441.7 447.9 L442.6 448.9 L443.4 449.9 L444.3 451.0 L445.1 452.1 L445.9 453.1 L446.7 454.2 L447.5 455.3 L448.3 456.4 L449.1 457.5 L449.8 458.6 L450.6 459.8 L451.3 460.9 L452.1 462.1 L452.8 463.2 L453.5 464.4 L454.2 465.6 L454.9 466.8 L455.6 468.0 L456.2 469.2 L456.9 470.4 L457.6 471.6 L458.2 472.8 L458.8 474.1 L459.4 475.3 L460.1 476.6 L460.6 477.9 L461.2 479.1 L461.8 480.4 L462.4 481.7 L462.9 483.0 L463.5 484.3 L464.0 485.6 L464.5 486.9 L465.0 488.2 L465.5 489.6 L466.0 490.9 L466.5 492.2 L466.9 493.6 L467.4 494.9 L467.8 496.3 L468.2 497.7 L468.6 499.0 L469.0 500.4 L469.4 501.8 L469.8 503.2 L470.1 504.6 L470.5 505.9 L470.8 507.3 L471.2 508.7 L471.5 510.2 L471.8 511.6 L472.1 513.0 L472.3 514.4 L472.6 515.8 L472.8 517.2 L473.1 518.7 L473.3 520.1 L473.5 521.5 L473.7 523.0 L473.9 524.4 L474.1 525.9 L474.2 527.3 L474.4 528.7 L474.5 530.2 L474.7 531.6 L474.8 533.1 L474.9 534.5 L475.0 536.0 L475.0 537.4 L475.1 538.9 L475.1 540.4 L475.2 541.8 L475.2 543.3 L475.2 544.7 L475.2 546.2 L475.2 547.6 L475.1 549.1" fill="none" stroke="#b82c5e" stroke-width="16.2"/>
<path d="M246.7 549.2 L247.3 547.7 L248.0 546.2 L248.8 544.7 L249.7 543.3 L250.7 541.8 L251.6 540.4 L252.5 539.0 L253.3 537.6 L253.9 536.2 L254.5 534.8 L254.8 533.4 L255.0 532.0 L255.0 530.6 L254.9 529.1 L254.5 527.7 L254.1 526.2 L253.5 524.7 L252.9 523.1 L252.2 521.6 L251.5 520.0 L250.8 518.4 L250.3 516.9 L249.8 515.3 L249.5 513.7 L249.4 512.2 L249.5 510.7 L249.7 509.2 L250.2 507.8 L250.8 506.5 L251.7 505.1 L252.6 503.9 L253.7 502.7 L254.9 501.5 L256.2 500.3 L257.4 499.2 L258.7 498.1 L259.8 497.0 L260.9 495.9 L261.9 494.7 L262.7 493.5 L263.4 492.3 L263.9 491.0 L264.3 489.7 L264.5 488.3 L264.6 486.9 L264.5 485.3 L264.4 483.8 L264.2 482.2 L263.9 480.6 L263.7 478.9 L263.5 477.3 L263.4 475.7 L263.4 474.1 L263.5 472.5 L263.7 471.1 L264.1 469.7 L264.7 468.4 L265.4 467.1 L266.3 466.0 L267.4 465.0 L268.6 464.0 L269.9 463.2 L271.2 462.4 L272.7 461.6 L274.1 460.9 L275.6 460.3 L277.0 459.6 L278.4 458.9 L279.7 458.2 L280.8 457.4 L281.9 456.6 L282.9 455.7 L283.7 454.7 L284.4 453.6 L285.0 452.4 L285.5 451.1 L285.9 449.8 L286.3 448.4 L286.6 446.9 L286.8 445.4 L287.1 443.8 L287.4 442.3 L287.7 440.8 L288.1 439.3 L288.6 437.9 L289.2 436.6 L289.9 435.4 L290.7 434.3 L291.6 433.3 L292.6 432.4 L293.8 431.7 L295.0 431.0 L296.3 430.5 L297.7 430.2 L299.2 429.9 L300.7 429.6 L302.2 429.5 L303.7 429.3 L305.2 429.2 L306.6 429.1 L308.0 428.9 L309.4 428.7 L310.6 428.4 L311.9 428.0 L313.0 427.5 L314.0 426.9 L315.0 426.2 L316.0 425.4 L316.8 424.5 L317.7 423.5 L318.4 422.4 L319.2 421.3 L320.0 420.1 L320.7 418.8 L321.5 417.6 L322.3 416.4 L323.1 415.2 L324.0 414.1 L325.0 413.1 L326.0 412.1 L327.0 411.3 L328.1 410.6 L329.3 410.1 L330.5 409.7 L331.7 409.4 L333.0 409.3 L334.4 409.3 L335.7 409.5 L337.1 409.7 L338.5 410.1 L339.8 410.5 L341.2 410.9 L342.5 411.4 L343.9 411.8 L345.2 412.3 L346.4 412.7 L347.7 413.0 L348.9 413.3 L350.1 413.4 L351.3 413.5 L352.4 413.4 L353.5 413.2 L354.7 412.9 L355.8 412.5 L356.9 412.0 L358.0 411.4 L359.2 410.7 L360.3 410.0 L361.5 409.3 L362.7 408.5 L363.9 407.8 L365.1 407.1 L366.4 406.4 L367.6 405.9 L368.9 405.4 L370.2 405.1 L371.5 404.8 L372.7 404.8 L374.0 404.9 L375.2 405.1 L376.4 405.5 L377.6 406.0 L378.8 406.6 L379.9 407.4 L381.0 408.2 L382.1 409.1 L383.1 410.1 L384.2 411.1 L385.1 412.1 L386.1 413.1 L387.1 414.1 L388.1 415.0 L389.0 415.8 L390.0 416.6 L391.1 417.2 L392.1 417.8 L393.2 418.2 L394.4 418.5 L395.5 418.7 L396.8 418.7 L398.1 418.7 L399.4 418.7 L400.8 418.5 L402.2 418.4 L403.6 418.2 L405.1 418.1 L406.5 417.9 L408.0 417.9 L409.4 417.9 L410.8 418.0 L412.2 418.2 L413.5 418.5 L414.7 419.0 L415.9 419.6 L416.9 420.4 L417.9 421.2 L418.8 422.3 L419.6 423.4 L420.4 424.6 L421.1 425.9 L421.7 427.2 L422.2 428.6 L422.8 430.1 L423.3 431.5 L423.8 432.8 L424.3 434.2 L424.9 435.4 L425.6 436.6 L426.3 437.7 L427.1 438.7 L428.0 439.6 L428.9 440.4 L430.0 441.0 L431.2 441.7 L432.5 442.2 L433.8 442.6 L435.2 443.1 L436.7 443.5 L438.2 443.9 L439.7 444.3 L441.2 444.8 L442.6 445.3 L444.0 446.0 L445.3 446.7 L446.5 447.5 L447.6 448.4 L448.5 449.4 L449.3 450.6 L449.9 451.8 L450.4 453.2 L450.8 454.6 L451.1 456.1 L451.2 457.7 L451.3 459.3 L451.4 460.9 L451.4 462.5 L451.4 464.1 L451.4 465.6 L451.6 467.1 L451.8 468.6 L452.1 469.9 L452.5 471.2 L453.1 472.4 L453.8 473.6 L454.7 474.6 L455.7 475.6 L456.9 476.6 L458.1 477.5 L459.4 478.4 L460.8 479.3 L462.1 480.3 L463.5 481.2 L464.8 482.2 L466.0 483.2 L467.1 484.3 L468.1 485.5 L468.9 486.8 L469.5 488.1 L470.0 489.5 L470.2 490.9 L470.3 492.4 L470.2 494.0 L470.0 495.6 L469.7 497.2 L469.3 498.8 L468.8 500.5 L468.3 502.1 L467.9 503.7 L467.5 505.2 L467.3 506.7 L467.1 508.2 L467.1 509.7 L467.3 511.1 L467.6 512.4 L468.1 513.8 L468.8 515.1 L469.6 516.4 L470.6 517.6 L471.6 518.9 L472.7 520.2 L473.8 521.5 L474.9 522.8 L475.9 524.2 L476.9 525.5 L477.6 526.9 L478.3 528.4 L478.7 529.8 L478.9 531.3 L479.0 532.8 L478.8 534.3 L478.4 535.8 L477.9 537.3 L477.2 538.8 L476.4 540.3 L475.6 541.8 L474.7 543.3 L473.8 544.7 L473.0 546.2 L472.2 547.6 L471.6 549.0" fill="none" stroke="#e27fa6" stroke-width="8.3"/>
<path d="M253.8 549.0 L253.2 547.6 L252.4 546.2 L251.6 544.7 L250.7 543.3 L249.8 541.8 L249.0 540.3 L248.2 538.8 L247.5 537.3 L247.0 535.8 L246.6 534.3 L246.4 532.8 L246.5 531.3 L246.7 529.8 L247.1 528.4 L247.8 526.9 L248.5 525.5 L249.5 524.2 L250.5 522.8 L251.6 521.5 L252.7 520.2 L253.8 518.9 L254.8 517.6 L255.8 516.4 L256.6 515.1 L257.3 513.8 L257.8 512.4 L258.1 511.1 L258.3 509.7 L258.3 508.2 L258.1 506.7 L257.9 505.2 L257.5 503.7 L257.1 502.1 L256.6 500.5 L256.1 498.8 L255.7 497.2 L255.4 495.6 L255.2 494.0 L255.1 492.4 L255.2 490.9 L255.4 489.5 L255.9 488.1 L256.5 486.8 L257.3 485.5 L258.3 484.3 L259.4 483.2 L260.6 482.2 L261.9 481.2 L263.3 480.3 L264.6 479.3 L266.0 478.4 L267.3 477.5 L268.5 476.6 L269.7 475.6 L270.7 474.6 L271.6 473.6 L272.3 472.4 L272.9 471.2 L273.3 469.9 L273.6 468.6 L273.8 467.1 L274.0 465.6 L274.0 464.1 L274.0 462.5 L274.0 460.9 L274.1 459.3 L274.2 457.7 L274.3 456.1 L274.6 454.6 L275.0 453.2 L275.5 451.8 L276.1 450.6 L276.9 449.4 L277.8 448.4 L278.9 447.5 L280.1 446.7 L281.4 446.0 L282.8 445.3 L284.2 444.8 L285.7 444.3 L287.2 443.9 L288.7 443.5 L290.2 443.1 L291.6 442.6 L292.9 442.2 L294.2 441.7 L295.4 441.0 L296.5 440.4 L297.4 439.6 L298.3 438.7 L299.1 437.7 L299.8 436.6 L300.5 435.4 L301.1 434.2 L301.6 432.8 L302.1 431.5 L302.6 430.1 L303.2 428.6 L303.7 427.2 L304.3 425.9 L305.0 424.6 L305.8 423.4 L306.6 422.3 L307.5 421.2 L308.5 420.4 L309.5 419.6 L310.7 419.0 L311.9 418.5 L313.2 418.2 L314.6 418.0 L316.0 417.9 L317.4 417.9 L318.9 417.9 L320.3 418.1 L321.8 418.2 L323.2 418.4 L324.6 418.5 L326.0 418.7 L327.3 418.7 L328.6 418.7 L329.9 418.7 L331.0 418.5 L332.2 418.2 L333.3 417.8 L334.3 417.2 L335.4 416.6 L336.4 415.8 L337.3 415.0 L338.3 414.1 L339.3 413.1 L340.3 412.1 L341.2 411.1 L342.3 410.1 L343.3 409.1 L344.4 408.2 L345.5 407.4 L346.6 406.6 L347.8 406.0 L349.0 405.5 L350.2 405.1 L351.4 404.9 L352.7 404.8 L353.9 404.8 L355.2 405.1 L356.5 405.4 L357.8 405.9 L359.0 406.4 L360.3 407.1 L361.5 407.8 L362.7 408.5 L363.9 409.3 L365.1 410.0 L366.2 410.7 L367.4 411.4 L368.5 412.0 L369.6 412.5 L370.7 412.9 L371.9 413.2 L373.0 413.4 L374.1 413.5 L375.3 413.4 L376.5 413.3 L377.7 413.0 L379.0 412.7 L380.2 412.3 L381.5 411.8 L382.9 411.4 L384.2 410.9 L385.6 410.5 L386.9 410.1 L388.3 409.7 L389.7 409.5 L391.0 409.3 L392.4 409.3 L393.7 409.4 L394.9 409.7 L396.1 410.1 L397.3 410.6 L398.4 411.3 L399.4 412.1 L400.4 413.1 L401.4 414.1 L402.3 415.2 L403.1 416.4 L403.9 417.6 L404.7 418.8 L405.4 420.1 L406.2 421.3 L407.0 422.4 L407.7 423.5 L408.6 424.5 L409.4 425.4 L410.4 426.2 L411.4 426.9 L412.4 427.5 L413.5 428.0 L414.8 428.4 L416.0 428.7 L417.4 428.9 L418.8 429.1 L420.2 429.2 L421.7 429.3 L423.2 429.5 L424.7 429.6 L426.2 429.9 L427.7 430.2 L429.1 430.5 L430.4 431.0 L431.6 431.7 L432.8 432.4 L433.8 433.3 L434.7 434.3 L435.5 435.4 L436.2 436.6 L436.8 437.9 L437.3 439.3 L437.7 440.8 L438.0 442.3 L438.3 443.8 L438.6 445.4 L438.8 446.9 L439.1 448.4 L439.5 449.8 L439.9 451.1 L440.4 452.4 L441.0 453.6 L441.7 454.7 L442.5 455.7 L443.5 456.6 L444.6 457.4 L445.7 458.2 L447.0 458.9 L448.4 459.6 L449.8 460.3 L451.3 460.9 L452.7 461.6 L454.2 462.4 L455.5 463.2 L456.8 464.0 L458.0 465.0 L459.1 466.0 L460.0 467.1 L460.7 468.4 L461.3 469.7 L461.7 471.1 L461.9 472.5 L462.0 474.1 L462.0 475.7 L461.9 477.3 L461.7 478.9 L461.5 480.6 L461.2 482.2 L461.0 483.8 L460.9 485.3 L460.8 486.9 L460.9 488.3 L461.1 489.7 L461.5 491.0 L462.0 492.3 L462.7 493.5 L463.5 494.7 L464.5 495.9 L465.6 497.0 L466.7 498.1 L468.0 499.2 L469.2 500.3 L470.5 501.5 L471.7 502.7 L472.8 503.9 L473.7 505.1 L474.6 506.5 L475.2 507.8 L475.7 509.2 L475.9 510.7 L476.0 512.2 L475.9 513.7 L475.6 515.3 L475.1 516.9 L474.6 518.4 L473.9 520.0 L473.2 521.6 L472.5 523.1 L471.9 524.7 L471.3 526.2 L470.9 527.7 L470.5 529.1 L470.4 530.6 L470.4 532.0 L470.6 533.4 L470.9 534.8 L471.5 536.2 L472.1 537.6 L472.9 539.0 L473.8 540.4 L474.7 541.8 L475.7 543.3 L476.6 544.7 L477.4 546.2 L478.1 547.7 L478.7 549.2" fill="none" stroke="#eeabc4" stroke-width="8.3"/>
<g transform="translate(205,370) scale(0.19186)">
<path d="M588 325L672 312C745 345 795 420 803 480L838 720V1120H610L520 500C515 430 545 370 588 325Z" fill="#8192c0"/>
<path d="M690 322C745 350 795 420 803 480L838 720V1120H790L745 470C740 410 720 360 690 322Z" fill="#6f82b6"/>
<path d="M517 478L801 428L826 612L542 660Z" fill="#52679a"/>
<path d="M745 438L801 428L826 612L770 622Z" fill="#465b8e"/>
<path d="M528 602L562 588L590 560L615 580L640 556L668 584L700 560L742 545L775 562L812 536L820 590L535 640Z" fill="#dfe5f3"/>
<path d="M533 628L580 612L610 622L650 600L690 615L740 590L790 600L822 585L827 622L545 662Z" fill="#2c3a5a"/>
<path d="M658 470C680 510 690 530 690 548A32 32 0 0 1 628 552C628 530 645 505 658 470Z" fill="#9fb0d8"/>
<g transform="rotate(-11 620 280)"><rect x="562" y="242" width="116" height="80" rx="16" fill="#52679a"/><rect x="640" y="242" width="38" height="80" rx="14" fill="#42578a"/></g>
<path d="M705 770C740 775 790 765 830 750" stroke="#7385b8" stroke-width="6" fill="none"/><path d="M715 825C750 828 795 818 832 805" stroke="#7385b8" stroke-width="6" fill="none"/>
<path d="M1062 92L1150 80L1148 168L1052 172Z" fill="#a8a6c9"/><path d="M1062 92L1098 87L1092 170L1052 172Z" fill="#c3c1db"/>
<path d="M1040 175H1158L1150 300C1148 450 1160 560 1215 700L1252 830V1200H860L830 765C930 650 1000 520 1010 400Z" fill="#5d548b"/>
<path d="M1105 175H1158L1150 300C1148 450 1160 560 1215 700L1252 830V1200H1120C1140 900 1105 600 1105 175Z" fill="#4d477b"/>
<path d="M1052 247H1135" stroke="#c3c1db" stroke-width="7" stroke-linecap="round"/>
<path d="M890 820L1190 845L1185 1037L884 1012Z" fill="#bfb9d3"/><path d="M1130 840L1190 845L1185 1037L1010 1022C1090 990 1130 930 1130 840Z" fill="#aaa5c7"/>
<path d="M195 975L385 738L702 805L695 935L612 1165L540 1165Z" fill="#e8cfa0"/>
<path d="M385 738L702 805L660 1000C590 900 480 800 385 738Z" fill="#eedcb9"/>
<path d="M660 1000L702 870L695 935L612 1165L560 1165Z" fill="#9a8661"/>
<ellipse cx="338" cy="842" rx="46" ry="34" fill="#d8b274" transform="rotate(18 338 842)"/>
<ellipse cx="342" cy="846" rx="37" ry="27" fill="#c9995c" transform="rotate(18 338 842)"/>
<ellipse cx="490" cy="790" rx="30" ry="22" fill="#d8b274" transform="rotate(18 490 790)"/>
<ellipse cx="494" cy="794" rx="24" ry="17" fill="#c9995c" transform="rotate(18 490 790)"/>
<ellipse cx="585" cy="885" rx="32" ry="25" fill="#d8b274" transform="rotate(18 585 885)"/>
<ellipse cx="589" cy="889" rx="26" ry="20" fill="#c9995c" transform="rotate(18 585 885)"/>
<ellipse cx="355" cy="982" rx="46" ry="30" fill="#d8b274" transform="rotate(18 355 982)"/>
<ellipse cx="359" cy="986" rx="37" ry="23" fill="#c9995c" transform="rotate(18 355 982)"/>
<ellipse cx="512" cy="1012" rx="46" ry="36" fill="#d8b274" transform="rotate(18 512 1012)"/>
<ellipse cx="516" cy="1016" rx="37" ry="28" fill="#c9995c" transform="rotate(18 512 1012)"/>
<ellipse cx="245" cy="1035" rx="28" ry="18" fill="#d8b274" transform="rotate(18 245 1035)"/>
<ellipse cx="249" cy="1039" rx="22" ry="14" fill="#c9995c" transform="rotate(18 245 1035)"/>
<path d="M795 830C755 838 728 900 728 960C728 1015 615 1060 615 1145V1215H955V1150C955 1080 882 1020 882 960C882 900 852 838 812 830Z" fill="#a5c6d0"/>
<path d="M870 900C882 930 850 1000 850 1040C850 1090 880 1120 830 1150C780 1175 700 1150 665 1100C640 1130 620 1160 615 1215H955V1150C955 1080 882 1020 882 960C882 940 878 920 870 900Z" fill="#8ab0be"/>
<path d="M820 868C815 800 800 750 780 715" stroke="#3f6e6a" stroke-width="8" fill="none"/>
<path d="M830 818C848 762 900 722 955 710C942 772 900 812 830 818Z" fill="#5b9bab"/>
<path d="M1010 1168C1060 1080 1100 1040 1140 970C1180 900 1250 830 1330 782C1400 748 1472 780 1467 860C1460 940 1400 1010 1330 1080C1270 1140 1200 1185 1130 1215Z" fill="#c6895c"/>
<path d="M1248 870C1290 830 1360 815 1392 842C1395 880 1330 890 1262 905Z" fill="#e7b791"/>
<path d="M1125 1010C1180 990 1260 995 1285 1030C1282 1075 1200 1075 1100 1085Z" fill="#e7b791"/>
</g>
<clipPath id="cpb"><path d="M228.7 533C228.7 609 270.7 673 318.7 673H406.7C454.7 673 496.7 609 496.7 533C490.7 563 432.7 598.3 362.7 598.3C292.7 598.3 234.7 563 228.7 533Z"/></clipPath>
<path d="M228.7 533C228.7 609 270.7 673 318.7 673H406.7C454.7 673 496.7 609 496.7 533C490.7 563 432.7 598.3 362.7 598.3C292.7 598.3 234.7 563 228.7 533Z" fill="#a31847"/>
<g clip-path="url(#cpb)" fill="none" stroke-width="8.2" stroke-linecap="round">
<path d="M224.7 563.1 L226.7 564.9 L228.7 566.4 L230.7 567.7 L232.7 568.6 L234.7 569.3 L236.7 569.8 L238.7 570.0 L240.7 570.1 L242.7 570.1 L244.7 570.0 L246.7 569.8 L248.7 569.6 L250.7 569.5 L252.7 569.4 L254.7 569.5 L256.7 569.7 L258.7 570.1 L260.7 570.7 L262.7 571.5 L264.7 572.6 L266.7 573.8 L268.7 575.4 L270.7 577.1 L272.7 579.1 L274.7 581.3 L276.7 583.6 L278.7 586.0 L280.7 588.6 L282.7 591.2 L284.7 593.8 L286.7 596.4 L288.7 599.0 L290.7 601.4 L292.7 603.7 L294.7 605.8 L296.7 607.7 L298.7 609.3 L300.7 610.7 L302.7 611.8 L304.7 612.6 L306.7 613.1 L308.7 613.4 L310.7 613.3 L312.7 613.0 L314.7 612.5 L316.7 611.8 L318.7 610.9 L320.7 609.9 L322.7 608.8 L324.7 607.6 L326.7 606.5 L328.7 605.4 L330.7 604.3 L332.7 603.4 L334.7 602.6 L336.7 602.0 L338.7 601.6 L340.7 601.5 L342.7 601.5 L344.7 601.9 L346.7 602.4 L348.7 603.2 L350.7 604.2 L352.7 605.3 L354.7 606.7 L356.7 608.1 L358.7 609.7 L360.7 611.4 L362.7 613.0 L364.7 614.6 L366.7 616.2 L368.7 617.6 L370.7 618.9 L372.7 620.0 L374.7 620.9 L376.7 621.6 L378.7 622.0 L380.7 622.1 L382.7 621.9 L384.7 621.5 L386.7 620.7 L388.7 619.7 L390.7 618.4 L392.7 616.9 L394.7 615.2 L396.7 613.4 L398.7 611.4 L400.7 609.3 L402.7 607.1 L404.7 605.0 L406.7 602.9 L408.7 600.9 L410.7 599.0 L412.7 597.2 L414.7 595.6 L416.7 594.3 L418.7 593.1 L420.7 592.2 L422.7 591.5 L424.7 591.1 L426.7 590.9 L428.7 590.9 L430.7 591.1 L432.7 591.4 L434.7 591.9 L436.7 592.5 L438.7 593.2 L440.7 593.8 L442.7 594.5 L444.7 595.0 L446.7 595.5 L448.7 595.8 L450.7 596.0 L452.7 595.9 L454.7 595.6 L456.7 595.0 L458.7 594.1 L460.7 592.9 L462.7 591.5 L464.7 589.8 L466.7 587.8 L468.7 585.5 L470.7 583.0 L472.7 580.3 L474.7 577.5 L476.7 574.5 L478.7 571.4 L480.7 568.3 L482.7 565.2 L484.7 562.1 L486.7 559.1 L488.7 556.2 L490.7 553.5 L492.7 550.9 L494.7 548.6 L496.7 546.4 L498.7 544.5 L500.7 542.9" stroke="#d95c8c"/>
<path d="M224.7 542.9 L226.7 544.5 L228.7 546.4 L230.7 548.6 L232.7 550.9 L234.7 553.5 L236.7 556.2 L238.7 559.1 L240.7 562.1 L242.7 565.2 L244.7 568.3 L246.7 571.4 L248.7 574.5 L250.7 577.5 L252.7 580.3 L254.7 583.0 L256.7 585.5 L258.7 587.8 L260.7 589.8 L262.7 591.5 L264.7 592.9 L266.7 594.1 L268.7 595.0 L270.7 595.6 L272.7 595.9 L274.7 596.0 L276.7 595.8 L278.7 595.5 L280.7 595.0 L282.7 594.5 L284.7 593.8 L286.7 593.2 L288.7 592.5 L290.7 591.9 L292.7 591.4 L294.7 591.1 L296.7 590.9 L298.7 590.9 L300.7 591.1 L302.7 591.5 L304.7 592.2 L306.7 593.1 L308.7 594.3 L310.7 595.6 L312.7 597.2 L314.7 599.0 L316.7 600.9 L318.7 602.9 L320.7 605.0 L322.7 607.1 L324.7 609.3 L326.7 611.4 L328.7 613.4 L330.7 615.2 L332.7 616.9 L334.7 618.4 L336.7 619.7 L338.7 620.7 L340.7 621.5 L342.7 621.9 L344.7 622.1 L346.7 622.0 L348.7 621.6 L350.7 620.9 L352.7 620.0 L354.7 618.9 L356.7 617.6 L358.7 616.2 L360.7 614.6 L362.7 613.0 L364.7 611.4 L366.7 609.7 L368.7 608.1 L370.7 606.7 L372.7 605.3 L374.7 604.2 L376.7 603.2 L378.7 602.4 L380.7 601.9 L382.7 601.5 L384.7 601.5 L386.7 601.6 L388.7 602.0 L390.7 602.6 L392.7 603.4 L394.7 604.3 L396.7 605.4 L398.7 606.5 L400.7 607.6 L402.7 608.8 L404.7 609.9 L406.7 610.9 L408.7 611.8 L410.7 612.5 L412.7 613.0 L414.7 613.3 L416.7 613.4 L418.7 613.1 L420.7 612.6 L422.7 611.8 L424.7 610.7 L426.7 609.3 L428.7 607.7 L430.7 605.8 L432.7 603.7 L434.7 601.4 L436.7 599.0 L438.7 596.4 L440.7 593.8 L442.7 591.2 L444.7 588.6 L446.7 586.0 L448.7 583.6 L450.7 581.3 L452.7 579.1 L454.7 577.1 L456.7 575.4 L458.7 573.8 L460.7 572.6 L462.7 571.5 L464.7 570.7 L466.7 570.1 L468.7 569.7 L470.7 569.5 L472.7 569.4 L474.7 569.5 L476.7 569.6 L478.7 569.8 L480.7 570.0 L482.7 570.1 L484.7 570.1 L486.7 570.0 L488.7 569.8 L490.7 569.3 L492.7 568.6 L494.7 567.7 L496.7 566.4 L498.7 564.9 L500.7 563.1" stroke="#e27fa6"/>
<path d="M224.7 592.7 L226.7 592.5 L228.7 592.3 L230.7 592.1 L232.7 592.0 L234.7 592.0 L236.7 592.1 L238.7 592.4 L240.7 592.9 L242.7 593.7 L244.7 594.6 L246.7 595.8 L248.7 597.3 L250.7 599.0 L252.7 600.9 L254.7 603.0 L256.7 605.3 L258.7 607.8 L260.7 610.3 L262.7 613.0 L264.7 615.6 L266.7 618.3 L268.7 620.9 L270.7 623.4 L272.7 625.7 L274.7 627.9 L276.7 629.9 L278.7 631.7 L280.7 633.2 L282.7 634.4 L284.7 635.4 L286.7 636.1 L288.7 636.4 L290.7 636.6 L292.7 636.4 L294.7 636.0 L296.7 635.5 L298.7 634.7 L300.7 633.8 L302.7 632.9 L304.7 631.8 L306.7 630.8 L308.7 629.8 L310.7 628.9 L312.7 628.0 L314.7 627.4 L316.7 626.9 L318.7 626.6 L320.7 626.5 L322.7 626.7 L324.7 627.1 L326.7 627.7 L328.7 628.6 L330.7 629.7 L332.7 631.0 L334.7 632.5 L336.7 634.1 L338.7 635.9 L340.7 637.7 L342.7 639.5 L344.7 641.4 L346.7 643.2 L348.7 644.9 L350.7 646.4 L352.7 647.8 L354.7 649.0 L356.7 649.9 L358.7 650.6 L360.7 651.1 L362.7 651.2 L364.7 651.1 L366.7 650.6 L368.7 649.9 L370.7 649.0 L372.7 647.8 L374.7 646.4 L376.7 644.9 L378.7 643.2 L380.7 641.4 L382.7 639.5 L384.7 637.7 L386.7 635.9 L388.7 634.1 L390.7 632.5 L392.7 631.0 L394.7 629.7 L396.7 628.6 L398.7 627.7 L400.7 627.1 L402.7 626.7 L404.7 626.5 L406.7 626.6 L408.7 626.9 L410.7 627.4 L412.7 628.0 L414.7 628.9 L416.7 629.8 L418.7 630.8 L420.7 631.8 L422.7 632.9 L424.7 633.8 L426.7 634.7 L428.7 635.5 L430.7 636.0 L432.7 636.4 L434.7 636.6 L436.7 636.4 L438.7 636.1 L440.7 635.4 L442.7 634.4 L444.7 633.2 L446.7 631.7 L448.7 629.9 L450.7 627.9 L452.7 625.7 L454.7 623.4 L456.7 620.9 L458.7 618.3 L460.7 615.6 L462.7 613.0 L464.7 610.3 L466.7 607.8 L468.7 605.3 L470.7 603.0 L472.7 600.9 L474.7 599.0 L476.7 597.3 L478.7 595.8 L480.7 594.6 L482.7 593.7 L484.7 592.9 L486.7 592.4 L488.7 592.1 L490.7 592.0 L492.7 592.0 L494.7 592.1 L496.7 592.3 L498.7 592.5 L500.7 592.7" stroke="#d95c8c"/>
<path d="M224.7 590.3 L226.7 593.3 L228.7 596.4 L230.7 599.3 L232.7 602.2 L234.7 604.9 L236.7 607.4 L238.7 609.6 L240.7 611.7 L242.7 613.5 L244.7 615.0 L246.7 616.2 L248.7 617.1 L250.7 617.8 L252.7 618.2 L254.7 618.3 L256.7 618.2 L258.7 618.0 L260.7 617.6 L262.7 617.0 L264.7 616.4 L266.7 615.8 L268.7 615.2 L270.7 614.6 L272.7 614.1 L274.7 613.8 L276.7 613.6 L278.7 613.6 L280.7 613.8 L282.7 614.3 L284.7 615.0 L286.7 615.9 L288.7 617.1 L290.7 618.5 L292.7 620.1 L294.7 621.9 L296.7 623.9 L298.7 626.0 L300.7 628.2 L302.7 630.4 L304.7 632.7 L306.7 634.9 L308.7 637.0 L310.7 639.1 L312.7 641.0 L314.7 642.6 L316.7 644.1 L318.7 645.4 L320.7 646.3 L322.7 647.0 L324.7 647.4 L326.7 647.5 L328.7 647.4 L330.7 647.0 L332.7 646.3 L334.7 645.4 L336.7 644.3 L338.7 643.1 L340.7 641.8 L342.7 640.4 L344.7 638.9 L346.7 637.5 L348.7 636.1 L350.7 634.8 L352.7 633.7 L354.7 632.7 L356.7 631.9 L358.7 631.3 L360.7 630.9 L362.7 630.8 L364.7 630.9 L366.7 631.3 L368.7 631.9 L370.7 632.7 L372.7 633.7 L374.7 634.8 L376.7 636.1 L378.7 637.5 L380.7 638.9 L382.7 640.4 L384.7 641.8 L386.7 643.1 L388.7 644.3 L390.7 645.4 L392.7 646.3 L394.7 647.0 L396.7 647.4 L398.7 647.5 L400.7 647.4 L402.7 647.0 L404.7 646.3 L406.7 645.4 L408.7 644.1 L410.7 642.6 L412.7 641.0 L414.7 639.1 L416.7 637.0 L418.7 634.9 L420.7 632.7 L422.7 630.4 L424.7 628.2 L426.7 626.0 L428.7 623.9 L430.7 621.9 L432.7 620.1 L434.7 618.5 L436.7 617.1 L438.7 615.9 L440.7 615.0 L442.7 614.3 L444.7 613.8 L446.7 613.6 L448.7 613.6 L450.7 613.8 L452.7 614.1 L454.7 614.6 L456.7 615.2 L458.7 615.8 L460.7 616.4 L462.7 617.0 L464.7 617.6 L466.7 618.0 L468.7 618.2 L470.7 618.3 L472.7 618.2 L474.7 617.8 L476.7 617.1 L478.7 616.2 L480.7 615.0 L482.7 613.5 L484.7 611.7 L486.7 609.6 L488.7 607.4 L490.7 604.9 L492.7 602.2 L494.7 599.3 L496.7 596.4 L498.7 593.3 L500.7 590.3" stroke="#e27fa6"/>
<path d="M224.7 640.9 L226.7 642.0 L228.7 642.9 L230.7 643.4 L232.7 643.7 L234.7 643.8 L236.7 643.6 L238.7 643.2 L240.7 642.7 L242.7 642.1 L244.7 641.4 L246.7 640.6 L248.7 639.9 L250.7 639.2 L252.7 638.6 L254.7 638.1 L256.7 637.8 L258.7 637.6 L260.7 637.7 L262.7 638.0 L264.7 638.6 L266.7 639.4 L268.7 640.4 L270.7 641.7 L272.7 643.2 L274.7 644.9 L276.7 646.8 L278.7 648.9 L280.7 651.0 L282.7 653.2 L284.7 655.4 L286.7 657.7 L288.7 659.8 L290.7 661.9 L292.7 663.8 L294.7 665.6 L296.7 667.1 L298.7 668.4 L300.7 669.5 L302.7 670.3 L304.7 670.8 L306.7 671.0 L308.7 671.0 L310.7 670.7 L312.7 670.2 L314.7 669.4 L316.7 668.4 L318.7 667.3 L320.7 666.1 L322.7 664.8 L324.7 663.4 L326.7 662.1 L328.7 660.8 L330.7 659.6 L332.7 658.5 L334.7 657.6 L336.7 656.9 L338.7 656.4 L340.7 656.1 L342.7 656.0 L344.7 656.3 L346.7 656.7 L348.7 657.4 L350.7 658.3 L352.7 659.5 L354.7 660.8 L356.7 662.2 L358.7 663.7 L360.7 665.4 L362.7 667.0 L364.7 668.6 L366.7 670.2 L368.7 671.7 L370.7 673.0 L372.7 674.2 L374.7 675.1 L376.7 675.8 L378.7 676.3 L380.7 676.5 L382.7 676.4 L384.7 676.1 L386.7 675.4 L388.7 674.5 L390.7 673.4 L392.7 672.1 L394.7 670.5 L396.7 668.8 L398.7 667.0 L400.7 665.1 L402.7 663.1 L404.7 661.2 L406.7 659.3 L408.7 657.5 L410.7 655.9 L412.7 654.3 L414.7 653.0 L416.7 651.9 L418.7 651.0 L420.7 650.4 L422.7 650.0 L424.7 649.9 L426.7 650.0 L428.7 650.3 L430.7 650.9 L432.7 651.6 L434.7 652.4 L436.7 653.4 L438.7 654.4 L440.7 655.4 L442.7 656.5 L444.7 657.5 L446.7 658.3 L448.7 659.1 L450.7 659.6 L452.7 660.0 L454.7 660.1 L456.7 660.0 L458.7 659.6 L460.7 658.9 L462.7 658.0 L464.7 656.8 L466.7 655.3 L468.7 653.6 L470.7 651.6 L472.7 649.5 L474.7 647.2 L476.7 644.7 L478.7 642.3 L480.7 639.7 L482.7 637.2 L484.7 634.7 L486.7 632.3 L488.7 630.1 L490.7 628.0 L492.7 626.1 L494.7 624.4 L496.7 622.9 L498.7 621.7 L500.7 620.7" stroke="#d95c8c"/>
<path d="M224.7 620.7 L226.7 621.7 L228.7 622.9 L230.7 624.4 L232.7 626.1 L234.7 628.0 L236.7 630.1 L238.7 632.3 L240.7 634.7 L242.7 637.2 L244.7 639.7 L246.7 642.3 L248.7 644.7 L250.7 647.2 L252.7 649.5 L254.7 651.6 L256.7 653.6 L258.7 655.3 L260.7 656.8 L262.7 658.0 L264.7 658.9 L266.7 659.6 L268.7 660.0 L270.7 660.1 L272.7 660.0 L274.7 659.6 L276.7 659.1 L278.7 658.3 L280.7 657.5 L282.7 656.5 L284.7 655.4 L286.7 654.4 L288.7 653.4 L290.7 652.4 L292.7 651.6 L294.7 650.9 L296.7 650.3 L298.7 650.0 L300.7 649.9 L302.7 650.0 L304.7 650.4 L306.7 651.0 L308.7 651.9 L310.7 653.0 L312.7 654.3 L314.7 655.9 L316.7 657.5 L318.7 659.3 L320.7 661.2 L322.7 663.1 L324.7 665.1 L326.7 667.0 L328.7 668.8 L330.7 670.5 L332.7 672.1 L334.7 673.4 L336.7 674.5 L338.7 675.4 L340.7 676.1 L342.7 676.4 L344.7 676.5 L346.7 676.3 L348.7 675.8 L350.7 675.1 L352.7 674.2 L354.7 673.0 L356.7 671.7 L358.7 670.2 L360.7 668.6 L362.7 667.0 L364.7 665.4 L366.7 663.7 L368.7 662.2 L370.7 660.8 L372.7 659.5 L374.7 658.3 L376.7 657.4 L378.7 656.7 L380.7 656.3 L382.7 656.0 L384.7 656.1 L386.7 656.4 L388.7 656.9 L390.7 657.6 L392.7 658.5 L394.7 659.6 L396.7 660.8 L398.7 662.1 L400.7 663.4 L402.7 664.8 L404.7 666.1 L406.7 667.3 L408.7 668.4 L410.7 669.4 L412.7 670.2 L414.7 670.7 L416.7 671.0 L418.7 671.0 L420.7 670.8 L422.7 670.3 L424.7 669.5 L426.7 668.4 L428.7 667.1 L430.7 665.6 L432.7 663.8 L434.7 661.9 L436.7 659.8 L438.7 657.7 L440.7 655.4 L442.7 653.2 L444.7 651.0 L446.7 648.9 L448.7 646.8 L450.7 644.9 L452.7 643.2 L454.7 641.7 L456.7 640.4 L458.7 639.4 L460.7 638.6 L462.7 638.0 L464.7 637.7 L466.7 637.6 L468.7 637.8 L470.7 638.1 L472.7 638.6 L474.7 639.2 L476.7 639.9 L478.7 640.6 L480.7 641.4 L482.7 642.1 L484.7 642.7 L486.7 643.2 L488.7 643.6 L490.7 643.8 L492.7 643.7 L494.7 643.4 L496.7 642.9 L498.7 642.0 L500.7 640.9" stroke="#e27fa6"/>
<path d="M224.7 669.4 L226.7 668.4 L228.7 667.4 L230.7 666.5 L232.7 665.6 L234.7 664.9 L236.7 664.3 L238.7 663.9 L240.7 663.8 L242.7 663.8 L244.7 664.1 L246.7 664.7 L248.7 665.5 L250.7 666.6 L252.7 667.9 L254.7 669.4 L256.7 671.1 L258.7 672.9 L260.7 674.9 L262.7 677.0 L264.7 679.1 L266.7 681.2 L268.7 683.2 L270.7 685.2 L272.7 687.1 L274.7 688.8 L276.7 690.3 L278.7 691.6 L280.7 692.6 L282.7 693.4 L284.7 693.9 L286.7 694.1 L288.7 694.1 L290.7 693.8 L292.7 693.3 L294.7 692.5 L296.7 691.6 L298.7 690.5 L300.7 689.2 L302.7 687.9 L304.7 686.6 L306.7 685.2 L308.7 683.9 L310.7 682.7 L312.7 681.5 L314.7 680.6 L316.7 679.8 L318.7 679.3 L320.7 679.0 L322.7 678.9 L324.7 679.1 L326.7 679.5 L328.7 680.2 L330.7 681.2 L332.7 682.3 L334.7 683.6 L336.7 685.1 L338.7 686.7 L340.7 688.4 L342.7 690.1 L344.7 691.8 L346.7 693.5 L348.7 695.1 L350.7 696.6 L352.7 697.9 L354.7 699.1 L356.7 700.0 L358.7 700.7 L360.7 701.1 L362.7 701.2 L364.7 701.1 L366.7 700.7 L368.7 700.0 L370.7 699.1 L372.7 697.9 L374.7 696.6 L376.7 695.1 L378.7 693.5 L380.7 691.8 L382.7 690.1 L384.7 688.4 L386.7 686.7 L388.7 685.1 L390.7 683.6 L392.7 682.3 L394.7 681.2 L396.7 680.2 L398.7 679.5 L400.7 679.1 L402.7 678.9 L404.7 679.0 L406.7 679.3 L408.7 679.8 L410.7 680.6 L412.7 681.5 L414.7 682.7 L416.7 683.9 L418.7 685.2 L420.7 686.6 L422.7 687.9 L424.7 689.2 L426.7 690.5 L428.7 691.6 L430.7 692.5 L432.7 693.3 L434.7 693.8 L436.7 694.1 L438.7 694.1 L440.7 693.9 L442.7 693.4 L444.7 692.6 L446.7 691.6 L448.7 690.3 L450.7 688.8 L452.7 687.1 L454.7 685.2 L456.7 683.2 L458.7 681.2 L460.7 679.1 L462.7 677.0 L464.7 674.9 L466.7 672.9 L468.7 671.1 L470.7 669.4 L472.7 667.9 L474.7 666.6 L476.7 665.5 L478.7 664.7 L480.7 664.1 L482.7 663.8 L484.7 663.8 L486.7 663.9 L488.7 664.3 L490.7 664.9 L492.7 665.6 L494.7 666.5 L496.7 667.4 L498.7 668.4 L500.7 669.4" stroke="#d95c8c"/>
<path d="M224.7 666.9 L226.7 669.2 L228.7 671.5 L230.7 673.7 L232.7 675.8 L234.7 677.8 L236.7 679.6 L238.7 681.2 L240.7 682.5 L242.7 683.6 L244.7 684.5 L246.7 685.0 L248.7 685.3 L250.7 685.3 L252.7 685.1 L254.7 684.6 L256.7 684.0 L258.7 683.1 L260.7 682.1 L262.7 681.0 L264.7 679.9 L266.7 678.7 L268.7 677.6 L270.7 676.5 L272.7 675.5 L274.7 674.6 L276.7 674.0 L278.7 673.5 L280.7 673.3 L282.7 673.3 L284.7 673.5 L286.7 674.0 L288.7 674.8 L290.7 675.7 L292.7 677.0 L294.7 678.4 L296.7 680.0 L298.7 681.7 L300.7 683.5 L302.7 685.5 L304.7 687.4 L306.7 689.3 L308.7 691.1 L310.7 692.9 L312.7 694.5 L314.7 695.9 L316.7 697.1 L318.7 698.1 L320.7 698.8 L322.7 699.2 L324.7 699.4 L326.7 699.3 L328.7 699.0 L330.7 698.4 L332.7 697.6 L334.7 696.5 L336.7 695.3 L338.7 693.9 L340.7 692.5 L342.7 690.9 L344.7 689.4 L346.7 687.9 L348.7 686.4 L350.7 685.0 L352.7 683.8 L354.7 682.8 L356.7 681.9 L358.7 681.3 L360.7 680.9 L362.7 680.8 L364.7 680.9 L366.7 681.3 L368.7 681.9 L370.7 682.8 L372.7 683.8 L374.7 685.0 L376.7 686.4 L378.7 687.9 L380.7 689.4 L382.7 690.9 L384.7 692.5 L386.7 693.9 L388.7 695.3 L390.7 696.5 L392.7 697.6 L394.7 698.4 L396.7 699.0 L398.7 699.3 L400.7 699.4 L402.7 699.2 L404.7 698.8 L406.7 698.1 L408.7 697.1 L410.7 695.9 L412.7 694.5 L414.7 692.9 L416.7 691.1 L418.7 689.3 L420.7 687.4 L422.7 685.5 L424.7 683.5 L426.7 681.7 L428.7 680.0 L430.7 678.4 L432.7 677.0 L434.7 675.7 L436.7 674.8 L438.7 674.0 L440.7 673.5 L442.7 673.3 L444.7 673.3 L446.7 673.5 L448.7 674.0 L450.7 674.6 L452.7 675.5 L454.7 676.5 L456.7 677.6 L458.7 678.7 L460.7 679.9 L462.7 681.0 L464.7 682.1 L466.7 683.1 L468.7 684.0 L470.7 684.6 L472.7 685.1 L474.7 685.3 L476.7 685.3 L478.7 685.0 L480.7 684.5 L482.7 683.6 L484.7 682.5 L486.7 681.2 L488.7 679.6 L490.7 677.8 L492.7 675.8 L494.7 673.7 L496.7 671.5 L498.7 669.2 L500.7 666.9" stroke="#e27fa6"/>
</g>
<path d="M228.7 533C234.7 563 292.7 598.3 362.7 598.3C432.7 598.3 490.7 563 496.7 533" fill="none" stroke="#8d1b48" stroke-width="1.6"/>
<path d="M1308.8 606.4H1578.5L1593.8 707.6H1278.8Z" fill="#9e97b8"/>
<rect x="1278.8" y="707.4" width="315.0" height="20.6" fill="#bfbad0"/>
<ellipse cx="1446.3" cy="646" rx="120" ry="26" fill="#8d87aa"/>
<ellipse cx="1439.4" cy="531" rx="134" ry="67.5" fill="#8f88ae"/>
<ellipse cx="1439.4" cy="533.5" rx="131" ry="64.5" fill="#3d3560"/>
<path d="M1316.4 551.3 L1316.4 547.9 L1316.4 544.2 L1316.4 538.7 L1316.4 534.3 L1316.4 530.8 L1316.5 527.5 L1316.5 524.5 L1316.6 521.6 L1316.6 518.8 L1316.7 516.1 L1316.8 513.5 L1316.9 510.9 L1317.0 508.4 L1317.1 506.0 L1317.2 503.6 L1317.4 501.2 L1317.5 498.9 L1317.7 496.7 L1317.9 494.4 L1318.1 492.2 L1318.3 490.0 L1318.5 487.8 L1318.7 485.7 L1318.9 483.6 L1319.2 481.5 L1319.4 479.5 L1319.7 477.4 L1319.9 475.4 L1320.2 473.4 L1320.5 471.5 L1320.8 469.5 L1321.2 467.6 L1321.5 465.7 L1321.8 463.8 L1322.2 461.9 L1322.5 460.1 L1322.9 458.2 L1323.3 456.4 L1323.7 454.6 L1324.1 452.8 L1324.5 451.0 L1325.0 449.3 L1325.4 447.6 L1325.8 445.8 L1326.3 444.1 L1326.8 442.5 L1327.3 440.8 L1327.8 439.1 L1328.3 437.5 L1328.8 435.9 L1329.3 434.3 L1329.8 432.7 L1330.4 431.1 L1330.9 429.6 L1331.5 428.0 L1332.1 426.5 L1332.7 425.0 L1333.3 423.5 L1333.9 422.0 L1334.5 420.5 L1335.1 419.1 L1335.8 417.6 L1336.4 416.2 L1337.1 414.8 L1337.8 413.4 L1338.5 412.0 L1339.2 410.7 L1339.9 409.3 L1340.6 408.0 L1341.3 406.7 L1342.0 405.4 L1342.8 404.1 L1343.5 402.9 L1344.3 401.6 L1345.1 400.4 L1345.9 399.2 L1346.7 397.9 L1347.5 396.8 L1348.3 395.6 L1349.1 394.4 L1349.9 393.3 L1350.8 392.2 L1351.7 391.0 L1352.5 389.9 L1353.4 388.9 L1354.3 387.8 L1355.2 386.7 L1356.1 385.7 L1357.0 384.7 L1357.9 383.7 L1358.9 382.7 L1359.8 381.7 L1360.8 380.8 L1361.8 379.8 L1362.7 378.9 L1363.7 378.0 L1364.7 377.1 L1365.7 376.2 L1366.8 375.4 L1367.8 374.5 L1368.8 373.7 L1369.9 372.9 L1370.9 372.1 L1372.0 371.3 L1373.1 370.6 L1374.2 369.8 L1375.3 369.1 L1376.4 368.4 L1377.5 367.7 L1378.7 367.0 L1379.8 366.3 L1381.0 365.7 L1382.1 365.1 L1383.3 364.5 L1384.5 363.9 L1385.7 363.3 L1386.9 362.7 L1388.1 362.2 L1389.4 361.6 L1390.6 361.1 L1391.9 360.6 L1393.2 360.1 L1394.4 359.7 L1395.7 359.2 L1397.1 358.8 L1398.4 358.4 L1399.7 358.0 L1401.1 357.6 L1402.5 357.2 L1403.9 356.9 L1405.3 356.6 L1406.7 356.2 L1408.1 356.0 L1409.6 355.7 L1411.1 355.4 L1412.6 355.2 L1414.1 354.9 L1415.7 354.7 L1417.3 354.5 L1418.9 354.3 L1420.5 354.2 L1422.2 354.0 L1424.0 353.9 L1425.8 353.8 L1427.6 353.7 L1429.5 353.6 L1431.6 353.6 L1433.7 353.5 L1436.1 353.5 L1439.4 353.5 L1442.7 353.5 L1445.1 353.5 L1447.2 353.6 L1449.3 353.6 L1451.2 353.7 L1453.0 353.8 L1454.8 353.9 L1456.6 354.0 L1458.3 354.2 L1459.9 354.3 L1461.5 354.5 L1463.1 354.7 L1464.7 354.9 L1466.2 355.2 L1467.7 355.4 L1469.2 355.7 L1470.7 356.0 L1472.1 356.2 L1473.5 356.6 L1474.9 356.9 L1476.3 357.2 L1477.7 357.6 L1479.1 358.0 L1480.4 358.4 L1481.7 358.8 L1483.1 359.2 L1484.4 359.7 L1485.6 360.1 L1486.9 360.6 L1488.2 361.1 L1489.4 361.6 L1490.7 362.2 L1491.9 362.7 L1493.1 363.3 L1494.3 363.9 L1495.5 364.5 L1496.7 365.1 L1497.8 365.7 L1499.0 366.3 L1500.1 367.0 L1501.3 367.7 L1502.4 368.4 L1503.5 369.1 L1504.6 369.8 L1505.7 370.6 L1506.8 371.3 L1507.9 372.1 L1508.9 372.9 L1510.0 373.7 L1511.0 374.5 L1512.0 375.4 L1513.1 376.2 L1514.1 377.1 L1515.1 378.0 L1516.1 378.9 L1517.0 379.8 L1518.0 380.8 L1519.0 381.7 L1519.9 382.7 L1520.9 383.7 L1521.8 384.7 L1522.7 385.7 L1523.6 386.7 L1524.5 387.8 L1525.4 388.9 L1526.3 389.9 L1527.1 391.0 L1528.0 392.2 L1528.9 393.3 L1529.7 394.4 L1530.5 395.6 L1531.3 396.8 L1532.1 397.9 L1532.9 399.2 L1533.7 400.4 L1534.5 401.6 L1535.3 402.9 L1536.0 404.1 L1536.8 405.4 L1537.5 406.7 L1538.2 408.0 L1538.9 409.3 L1539.6 410.7 L1540.3 412.0 L1541.0 413.4 L1541.7 414.8 L1542.4 416.2 L1543.0 417.6 L1543.7 419.1 L1544.3 420.5 L1544.9 422.0 L1545.5 423.5 L1546.1 425.0 L1546.7 426.5 L1547.3 428.0 L1547.9 429.6 L1548.4 431.1 L1549.0 432.7 L1549.5 434.3 L1550.0 435.9 L1550.5 437.5 L1551.0 439.1 L1551.5 440.8 L1552.0 442.5 L1552.5 444.1 L1553.0 445.8 L1553.4 447.6 L1553.8 449.3 L1554.3 451.0 L1554.7 452.8 L1555.1 454.6 L1555.5 456.4 L1555.9 458.2 L1556.3 460.1 L1556.6 461.9 L1557.0 463.8 L1557.3 465.7 L1557.6 467.6 L1558.0 469.5 L1558.3 471.5 L1558.6 473.4 L1558.9 475.4 L1559.1 477.4 L1559.4 479.5 L1559.6 481.5 L1559.9 483.6 L1560.1 485.7 L1560.3 487.8 L1560.5 490.0 L1560.7 492.2 L1560.9 494.4 L1561.1 496.7 L1561.3 498.9 L1561.4 501.2 L1561.6 503.6 L1561.7 506.0 L1561.8 508.4 L1561.9 510.9 L1562.0 513.5 L1562.1 516.1 L1562.2 518.8 L1562.2 521.6 L1562.3 524.5 L1562.3 527.5 L1562.4 530.8 L1562.4 534.3 L1562.4 538.7 L1562.4 544.2 L1562.4 547.9 L1562.4 551.3" fill="none" stroke="#504874" stroke-width="22.0"/>
<path d="M1321.7 551.2 L1322.6 547.9 L1323.0 544.2 L1322.4 538.7 L1321.0 534.3 L1319.4 530.8 L1317.8 527.5 L1316.1 524.5 L1314.6 521.5 L1313.2 518.7 L1312.1 516.0 L1311.2 513.3 L1310.7 510.7 L1310.5 508.1 L1310.5 505.7 L1310.9 503.2 L1311.5 500.9 L1312.3 498.6 L1313.4 496.3 L1314.6 494.1 L1315.9 492.0 L1317.3 489.9 L1318.7 487.9 L1320.1 485.9 L1321.4 483.9 L1322.7 482.0 L1323.9 480.0 L1324.9 478.1 L1325.8 476.2 L1326.5 474.4 L1327.0 472.5 L1327.4 470.6 L1327.5 468.7 L1327.6 466.8 L1327.4 464.8 L1327.2 462.9 L1326.8 460.9 L1326.4 458.9 L1325.8 456.9 L1325.3 455.0 L1324.7 453.0 L1324.1 451.0 L1323.6 449.0 L1323.1 447.0 L1322.7 445.0 L1322.4 443.1 L1322.2 441.1 L1322.1 439.3 L1322.1 437.4 L1322.3 435.6 L1322.6 433.9 L1323.0 432.2 L1323.6 430.6 L1324.4 429.0 L1325.2 427.5 L1326.2 426.0 L1327.3 424.6 L1328.5 423.3 L1329.7 422.0 L1331.1 420.8 L1332.4 419.6 L1333.9 418.5 L1335.3 417.4 L1336.7 416.4 L1338.2 415.3 L1339.6 414.3 L1341.0 413.3 L1342.3 412.3 L1343.6 411.3 L1344.9 410.4 L1346.0 409.3 L1347.1 408.3 L1348.1 407.3 L1349.0 406.2 L1349.9 405.1 L1350.6 403.9 L1351.3 402.7 L1352.0 401.5 L1352.5 400.2 L1353.0 398.9 L1353.4 397.6 L1353.8 396.2 L1354.2 394.7 L1354.5 393.3 L1354.8 391.8 L1355.1 390.3 L1355.4 388.8 L1355.8 387.2 L1356.1 385.7 L1356.4 384.2 L1356.8 382.6 L1357.2 381.1 L1357.7 379.7 L1358.3 378.2 L1358.8 376.8 L1359.5 375.4 L1360.2 374.1 L1361.0 372.9 L1361.8 371.7 L1362.7 370.5 L1363.7 369.5 L1364.8 368.5 L1365.9 367.7 L1367.1 366.9 L1368.3 366.1 L1369.6 365.5 L1370.9 365.0 L1372.3 364.5 L1373.7 364.1 L1375.2 363.8 L1376.6 363.6 L1378.1 363.5 L1379.7 363.4 L1381.2 363.3 L1382.7 363.3 L1384.3 363.4 L1385.8 363.5 L1387.3 363.6 L1388.8 363.7 L1390.3 363.9 L1391.8 364.0 L1393.2 364.1 L1394.7 364.2 L1396.1 364.3 L1397.5 364.3 L1398.8 364.3 L1400.2 364.3 L1401.5 364.1 L1402.8 363.9 L1404.1 363.6 L1405.4 363.3 L1406.7 362.8 L1408.0 362.3 L1409.3 361.7 L1410.6 361.0 L1411.9 360.3 L1413.3 359.4 L1414.6 358.5 L1416.1 357.5 L1417.5 356.5 L1419.0 355.5 L1420.6 354.4 L1422.2 353.3 L1423.9 352.2 L1425.6 351.2 L1427.4 350.2 L1429.4 349.2 L1431.4 348.4 L1433.6 347.7 L1436.1 347.2 L1439.4 346.9 L1442.7 347.2 L1445.2 347.7 L1447.4 348.4 L1449.4 349.2 L1451.4 350.2 L1453.2 351.2 L1454.9 352.2 L1456.6 353.3 L1458.2 354.4 L1459.8 355.5 L1461.3 356.5 L1462.7 357.5 L1464.2 358.5 L1465.5 359.4 L1466.9 360.3 L1468.2 361.0 L1469.5 361.7 L1470.8 362.3 L1472.1 362.8 L1473.4 363.3 L1474.7 363.6 L1476.0 363.9 L1477.3 364.1 L1478.6 364.3 L1480.0 364.3 L1481.3 364.3 L1482.7 364.3 L1484.1 364.2 L1485.6 364.1 L1487.0 364.0 L1488.5 363.9 L1490.0 363.7 L1491.5 363.6 L1493.0 363.5 L1494.5 363.4 L1496.1 363.3 L1497.6 363.3 L1499.1 363.4 L1500.7 363.5 L1502.2 363.6 L1503.6 363.8 L1505.1 364.1 L1506.5 364.5 L1507.9 365.0 L1509.2 365.5 L1510.5 366.1 L1511.7 366.9 L1512.9 367.7 L1514.0 368.5 L1515.1 369.5 L1516.1 370.5 L1517.0 371.7 L1517.8 372.9 L1518.6 374.1 L1519.3 375.4 L1520.0 376.8 L1520.5 378.2 L1521.1 379.7 L1521.6 381.1 L1522.0 382.6 L1522.4 384.2 L1522.7 385.7 L1523.0 387.2 L1523.4 388.8 L1523.7 390.3 L1524.0 391.8 L1524.3 393.3 L1524.6 394.7 L1525.0 396.2 L1525.4 397.6 L1525.8 398.9 L1526.3 400.2 L1526.8 401.5 L1527.5 402.7 L1528.2 403.9 L1528.9 405.1 L1529.8 406.2 L1530.7 407.3 L1531.7 408.3 L1532.8 409.3 L1533.9 410.4 L1535.2 411.3 L1536.5 412.3 L1537.8 413.3 L1539.2 414.3 L1540.6 415.3 L1542.1 416.4 L1543.5 417.4 L1544.9 418.5 L1546.4 419.6 L1547.7 420.8 L1549.1 422.0 L1550.3 423.3 L1551.5 424.6 L1552.6 426.0 L1553.6 427.5 L1554.4 429.0 L1555.2 430.6 L1555.8 432.2 L1556.2 433.9 L1556.5 435.6 L1556.7 437.4 L1556.7 439.3 L1556.6 441.1 L1556.4 443.1 L1556.1 445.0 L1555.7 447.0 L1555.2 449.0 L1554.7 451.0 L1554.1 453.0 L1553.5 455.0 L1553.0 456.9 L1552.4 458.9 L1552.0 460.9 L1551.6 462.9 L1551.4 464.8 L1551.2 466.8 L1551.3 468.7 L1551.4 470.6 L1551.8 472.5 L1552.3 474.4 L1553.0 476.2 L1553.9 478.1 L1554.9 480.0 L1556.1 482.0 L1557.4 483.9 L1558.7 485.9 L1560.1 487.9 L1561.5 489.9 L1562.9 492.0 L1564.2 494.1 L1565.4 496.3 L1566.5 498.6 L1567.3 500.9 L1567.9 503.2 L1568.3 505.7 L1568.3 508.1 L1568.1 510.7 L1567.6 513.3 L1566.7 516.0 L1565.6 518.7 L1564.2 521.5 L1562.7 524.5 L1561.0 527.5 L1559.4 530.8 L1557.8 534.3 L1556.4 538.7 L1555.8 544.2 L1556.2 547.9 L1557.1 551.2" fill="none" stroke="#8d86ab" stroke-width="7.9"/>
<path d="M1311.2 551.3 L1310.2 548.0 L1309.8 544.2 L1310.4 538.7 L1311.8 534.3 L1313.4 530.7 L1315.2 527.5 L1316.9 524.5 L1318.5 521.6 L1320.0 518.9 L1321.3 516.2 L1322.3 513.7 L1323.0 511.2 L1323.5 508.7 L1323.7 506.3 L1323.6 504.0 L1323.3 501.6 L1322.7 499.3 L1322.0 497.0 L1321.2 494.7 L1320.2 492.4 L1319.2 490.1 L1318.2 487.8 L1317.3 485.6 L1316.4 483.3 L1315.6 481.1 L1314.9 478.9 L1314.4 476.7 L1314.1 474.6 L1314.0 472.5 L1314.1 470.5 L1314.3 468.5 L1314.8 466.5 L1315.4 464.6 L1316.2 462.8 L1317.2 461.0 L1318.3 459.2 L1319.5 457.5 L1320.8 455.9 L1322.1 454.2 L1323.5 452.7 L1324.9 451.1 L1326.3 449.6 L1327.7 448.2 L1329.0 446.7 L1330.2 445.2 L1331.4 443.8 L1332.5 442.3 L1333.4 440.9 L1334.2 439.4 L1335.0 437.9 L1335.6 436.4 L1336.0 434.8 L1336.4 433.2 L1336.7 431.6 L1336.8 430.0 L1336.9 428.3 L1336.9 426.6 L1336.8 424.9 L1336.7 423.2 L1336.6 421.4 L1336.4 419.6 L1336.3 417.9 L1336.1 416.1 L1336.0 414.3 L1335.9 412.5 L1335.9 410.8 L1336.0 409.0 L1336.1 407.3 L1336.3 405.7 L1336.6 404.1 L1337.0 402.5 L1337.5 401.0 L1338.0 399.5 L1338.7 398.1 L1339.5 396.8 L1340.4 395.6 L1341.4 394.4 L1342.4 393.3 L1343.6 392.3 L1344.8 391.3 L1346.1 390.4 L1347.4 389.6 L1348.8 388.8 L1350.2 388.1 L1351.7 387.4 L1353.1 386.8 L1354.6 386.3 L1356.1 385.7 L1357.6 385.2 L1359.1 384.7 L1360.5 384.3 L1361.9 383.8 L1363.3 383.4 L1364.7 382.9 L1366.0 382.4 L1367.3 381.9 L1368.5 381.4 L1369.6 380.8 L1370.8 380.2 L1371.8 379.6 L1372.9 378.9 L1373.9 378.2 L1374.8 377.4 L1375.7 376.5 L1376.6 375.6 L1377.4 374.7 L1378.3 373.7 L1379.1 372.6 L1379.9 371.6 L1380.7 370.4 L1381.4 369.2 L1382.2 368.0 L1383.0 366.8 L1383.9 365.6 L1384.7 364.3 L1385.6 363.1 L1386.5 361.8 L1387.4 360.6 L1388.4 359.4 L1389.5 358.2 L1390.5 357.1 L1391.6 356.0 L1392.8 355.0 L1394.0 354.1 L1395.3 353.3 L1396.6 352.5 L1398.0 351.9 L1399.4 351.3 L1400.8 350.8 L1402.3 350.5 L1403.8 350.3 L1405.4 350.2 L1407.0 350.2 L1408.6 350.3 L1410.3 350.6 L1411.9 350.9 L1413.6 351.4 L1415.3 351.9 L1417.0 352.5 L1418.8 353.2 L1420.5 354.0 L1422.3 354.8 L1424.1 355.6 L1425.9 356.4 L1427.8 357.3 L1429.7 358.1 L1431.7 358.8 L1433.8 359.4 L1436.2 359.9 L1439.4 360.1 L1442.6 359.9 L1445.0 359.4 L1447.1 358.8 L1449.1 358.1 L1451.0 357.3 L1452.9 356.4 L1454.7 355.6 L1456.5 354.8 L1458.3 354.0 L1460.0 353.2 L1461.8 352.5 L1463.5 351.9 L1465.2 351.4 L1466.9 350.9 L1468.5 350.6 L1470.2 350.3 L1471.8 350.2 L1473.4 350.2 L1475.0 350.3 L1476.5 350.5 L1478.0 350.8 L1479.4 351.3 L1480.8 351.9 L1482.2 352.5 L1483.5 353.3 L1484.8 354.1 L1486.0 355.0 L1487.2 356.0 L1488.3 357.1 L1489.3 358.2 L1490.4 359.4 L1491.4 360.6 L1492.3 361.8 L1493.2 363.1 L1494.1 364.3 L1494.9 365.6 L1495.8 366.8 L1496.6 368.0 L1497.4 369.2 L1498.1 370.4 L1498.9 371.6 L1499.7 372.6 L1500.5 373.7 L1501.4 374.7 L1502.2 375.6 L1503.1 376.5 L1504.0 377.4 L1504.9 378.2 L1505.9 378.9 L1507.0 379.6 L1508.0 380.2 L1509.2 380.8 L1510.3 381.4 L1511.5 381.9 L1512.8 382.4 L1514.1 382.9 L1515.5 383.4 L1516.9 383.8 L1518.3 384.3 L1519.7 384.7 L1521.2 385.2 L1522.7 385.7 L1524.2 386.3 L1525.7 386.8 L1527.1 387.4 L1528.6 388.1 L1530.0 388.8 L1531.4 389.6 L1532.7 390.4 L1534.0 391.3 L1535.2 392.3 L1536.4 393.3 L1537.4 394.4 L1538.4 395.6 L1539.3 396.8 L1540.1 398.1 L1540.8 399.5 L1541.3 401.0 L1541.8 402.5 L1542.2 404.1 L1542.5 405.7 L1542.7 407.3 L1542.8 409.0 L1542.9 410.8 L1542.9 412.5 L1542.8 414.3 L1542.7 416.1 L1542.5 417.9 L1542.4 419.6 L1542.2 421.4 L1542.1 423.2 L1542.0 424.9 L1541.9 426.6 L1541.9 428.3 L1542.0 430.0 L1542.1 431.6 L1542.4 433.2 L1542.8 434.8 L1543.2 436.4 L1543.8 437.9 L1544.6 439.4 L1545.4 440.9 L1546.3 442.3 L1547.4 443.8 L1548.6 445.2 L1549.8 446.7 L1551.1 448.2 L1552.5 449.6 L1553.9 451.1 L1555.3 452.7 L1556.7 454.2 L1558.0 455.9 L1559.3 457.5 L1560.5 459.2 L1561.6 461.0 L1562.6 462.8 L1563.4 464.6 L1564.0 466.5 L1564.5 468.5 L1564.7 470.5 L1564.8 472.5 L1564.7 474.6 L1564.4 476.7 L1563.9 478.9 L1563.2 481.1 L1562.4 483.3 L1561.5 485.6 L1560.6 487.8 L1559.6 490.1 L1558.6 492.4 L1557.6 494.7 L1556.8 497.0 L1556.1 499.3 L1555.5 501.6 L1555.2 504.0 L1555.1 506.3 L1555.3 508.7 L1555.8 511.2 L1556.5 513.7 L1557.5 516.2 L1558.8 518.9 L1560.3 521.6 L1561.9 524.5 L1563.6 527.5 L1565.4 530.7 L1567.0 534.3 L1568.4 538.7 L1569.0 544.2 L1568.6 548.0 L1567.6 551.3" fill="none" stroke="#a39cbd" stroke-width="7.9"/>
<g transform="translate(1270,330) scale(0.2035)">
<path d="M860 330L965 272C1000 352 1130 352 1165 285L1290 330L1400 425L1345 570L1295 530V950H860Z" fill="#a39cbd"/>
<path d="M1290 330L1400 425L1345 570L1295 530Z" fill="#8d86ab"/>
<path d="M975 276C1010 348 1122 348 1160 287C1100 268 1030 262 975 276Z" fill="#504874"/>
<path d="M985 330C1030 392 1110 392 1150 345" fill="none" stroke="#8d86ab" stroke-width="6"/>
<rect x="357" y="183" width="503" height="330" rx="26" fill="#5f78ae"/>
<path d="M640 183H834a26 26 0 0 1 26 26V513H760C800 400 760 260 640 183Z" fill="#5670a6"/>
<rect x="357" y="352" width="503" height="88" fill="#7189ba"/><rect x="357" y="352" width="50" height="88" fill="#cdd5e8"/><rect x="803" y="352" width="57" height="88" fill="#cdd5e8"/>
<circle cx="712" cy="306" r="14" fill="#b5c0dc"/>
<circle cx="757" cy="306" r="14" fill="#b5c0dc"/>
<circle cx="801" cy="306" r="14" fill="#b5c0dc"/>
<path d="M520 356L548 322L576 356Z" fill="#e3e8f3"/>
<text x="408" y="436" font-family="Liberation Serif, serif" font-weight="700" font-size="112" fill="#e3e8f3" textLength="392" lengthAdjust="spacingAndGlyphs">SUBE</text>
<path d="M222 548L232 500L690 448L708 560L640 610V1180H420L222 650Z" fill="#6a9fb0"/>
<path d="M225 502L690 448L697 472L236 528Z" fill="#5a8a96"/>
<path d="M240 528L682 474L690 522L252 580Z" fill="#dfe1ee"/>
<path d="M225 585L640 560V610L380 650L225 640Z" fill="#7fb0bd"/>
<path d="M380 650L640 610V770C560 745 480 765 400 800Z" fill="#8db5c2"/>
<path d="M275 445L330 462L375 414L388 528L292 542Z" fill="#e0804f"/>
<path d="M163 688L340 648a18 18 0 0 1 22 14L410 1042L216 1102L146 710a18 18 0 0 1 17-22Z" fill="#504874"/>
<path d="M172 712L335 675L385 1030L228 1075Z" fill="#8f88ae"/>
<path d="M172 712L335 675L340 720L215 900Z" fill="#7d759f"/>
<path d="M340 720L385 1030L228 1075L222 1040Z" fill="#a39cbd"/>
<path d="M738 540L824 546C872 600 882 640 872 700L812 1000L792 1150H580L612 800C600 700 640 600 738 540Z" fill="#8192c0"/>
<path d="M790 545L824 546C872 600 882 640 872 700L812 1000L792 1150H740L790 760C800 680 810 600 790 545Z" fill="#6f82b6"/>
<path d="M640 640C700 625 800 622 872 650L840 800L615 790C612 740 620 690 640 640Z" fill="#52679a"/>
<path d="M618 735L650 715L690 722L720 700L745 735L775 712L800 740L845 735L838 790L615 775Z" fill="#dfe5f3"/>
<path d="M615 762L660 750L700 768L740 752L790 772L842 760L832 815L612 805Z" fill="#2c3a5a"/>
<path d="M752 665C770 700 775 715 772 730A22 22 0 0 1 730 728C732 705 742 690 752 665Z" fill="#9fb0d8"/>
<g transform="rotate(6 782 505)"><rect x="733" y="468" width="98" height="72" rx="16" fill="#46557f"/></g>
<path d="M905 668L1045 692C1080 722 1072 772 1060 792L985 1085L760 1045L830 765C830 722 870 692 905 668Z" fill="#c9cfe6"/>
<path d="M826 792L1058 802L1002 1020L772 985Z" fill="#6b7db1"/>
<g transform="rotate(14 905 893)"><rect x="888" y="818" width="36" height="150" fill="#dfe5f3"/><rect x="832" y="875" width="148" height="36" fill="#dfe5f3"/></g>
<path d="M915 550L1062 580L1040 690L893 662Z" fill="#6b7db1"/><path d="M1000 567L1062 580L1040 690L985 680Z" fill="#5d6fa4"/>
<path d="M742 940L850 918L905 1060L800 1085Z" fill="#cfd5ea"/><circle cx="775" cy="1005" r="22" fill="none" stroke="#a9b3d6" stroke-width="8"/>
<path d="M1158 510L1252 520L1238 800C1250 900 1292 950 1292 1000V1290H880V1100C900 950 1100 850 1130 750Z" fill="#6f6699"/>
<path d="M1205 515L1252 520L1238 800C1250 900 1292 950 1292 1000V1290H1180C1230 1000 1190 800 1205 515Z" fill="#5b5187"/>
<path d="M1182 438L1258 445L1250 525L1172 518Z" fill="#bdb8d3"/><path d="M1182 438L1215 441L1207 521L1172 518Z" fill="#d2cfe2"/>
<path d="M1168 570H1240" stroke="#bdb8d3" stroke-width="6"/>
<path d="M938 1032L1105 1050L1095 1215L925 1195Z" fill="#bfb9d3"/>
<circle cx="1250" cy="710" r="113" fill="none" stroke="#efe3c5" stroke-width="18"/>
<path d="M1395 735L1460 700L1640 950C1650 985 1630 1010 1598 1012C1570 1000 1560 975 1548 960L1530 975L1500 925L1480 940Z" fill="#c98d5f"/>
<path d="M1430 718L1460 700L1640 950C1650 985 1630 1010 1605 1012Z" fill="#ddb08c"/>
<path d="M1352 520a125 125 0 1 0 1 0ZM1345 582a30 30 0 1 1-1 0Z" fill="#c98d5f" fill-rule="evenodd"/>
<path d="M1130 760A113 113 0 0 1 1250 597" fill="none" stroke="#efe3c5" stroke-width="18"/>
<path d="M255 1125L520 985L737 1130L655 1268L585 1295Z" fill="#e8cfa0"/>
<path d="M520 985L737 1130L600 1200C590 1120 560 1040 520 985Z" fill="#eedcb9"/>
<path d="M600 1200L737 1130L655 1268L585 1295Z" fill="#b79e72"/>
<ellipse cx="462" cy="1042" rx="26" ry="22" fill="#d8b274"/>
<ellipse cx="465" cy="1045" rx="20" ry="17" fill="#c9995c"/>
<ellipse cx="580" cy="1050" rx="22" ry="26" fill="#d8b274"/>
<ellipse cx="583" cy="1053" rx="17" ry="20" fill="#c9995c"/>
<ellipse cx="415" cy="1150" rx="28" ry="30" fill="#d8b274"/>
<ellipse cx="418" cy="1153" rx="22" ry="23" fill="#c9995c"/>
<ellipse cx="325" cy="1160" rx="22" ry="24" fill="#d8b274"/>
<ellipse cx="328" cy="1163" rx="17" ry="19" fill="#c9995c"/>
<ellipse cx="525" cy="1222" rx="34" ry="36" fill="#d8b274"/>
<ellipse cx="528" cy="1225" rx="27" ry="28" fill="#c9995c"/>
<ellipse cx="622" cy="1155" rx="22" ry="22" fill="#d8b274"/>
<ellipse cx="625" cy="1158" rx="17" ry="17" fill="#c9995c"/>
<path d="M690 1018C650 1028 630 1090 640 1140C650 1200 615 1260 640 1330H905C892 1240 800 1200 772 1120C760 1060 730 1008 690 1018Z" fill="#a5c6d0"/>
<path d="M760 1090C770 1150 800 1200 790 1250C770 1290 700 1290 650 1270C640 1290 638 1310 640 1330H905C892 1240 800 1200 772 1120Z" fill="#8ab0be"/>
<path d="M697 1025C690 980 660 930 625 895" stroke="#35545c" stroke-width="7" fill="none"/>
<path d="M700 978C705 905 745 862 790 850C792 912 760 962 700 978Z" fill="#35545c"/>
<path d="M918 1305C980 1180 1080 1100 1180 1010C1280 930 1400 880 1452 900C1500 930 1492 1000 1452 1080C1400 1170 1300 1255 1150 1300Z" fill="#c6895c"/>
<path d="M1235 985C1290 945 1380 925 1410 950C1405 1000 1330 1005 1250 1030Z" fill="#e7b791"/>
<path d="M1075 1105C1140 1080 1230 1085 1255 1120C1250 1170 1170 1165 1040 1180Z" fill="#e7b791"/>
</g>
<clipPath id="cub"><path d="M1305.4 533C1305.4 609 1347.4 673 1395.4 673H1483.4C1531.4 673 1573.4 609 1573.4 533C1567.4 563 1509.4 598.3 1439.4 598.3C1369.4 598.3 1311.4 563 1305.4 533Z"/></clipPath>
<path d="M1305.4 533C1305.4 609 1347.4 673 1395.4 673H1483.4C1531.4 673 1573.4 609 1573.4 533C1567.4 563 1509.4 598.3 1439.4 598.3C1369.4 598.3 1311.4 563 1305.4 533Z" fill="#463d68"/>
<g clip-path="url(#cub)" fill="none" stroke-width="8.2" stroke-linecap="round">
<path d="M1301.4 563.1 L1303.4 564.9 L1305.4 566.4 L1307.4 567.7 L1309.4 568.6 L1311.4 569.3 L1313.4 569.8 L1315.4 570.0 L1317.4 570.1 L1319.4 570.1 L1321.4 570.0 L1323.4 569.8 L1325.4 569.6 L1327.4 569.5 L1329.4 569.4 L1331.4 569.5 L1333.4 569.7 L1335.4 570.1 L1337.4 570.7 L1339.4 571.5 L1341.4 572.6 L1343.4 573.8 L1345.4 575.4 L1347.4 577.1 L1349.4 579.1 L1351.4 581.3 L1353.4 583.6 L1355.4 586.0 L1357.4 588.6 L1359.4 591.2 L1361.4 593.8 L1363.4 596.4 L1365.4 599.0 L1367.4 601.4 L1369.4 603.7 L1371.4 605.8 L1373.4 607.7 L1375.4 609.3 L1377.4 610.7 L1379.4 611.8 L1381.4 612.6 L1383.4 613.1 L1385.4 613.4 L1387.4 613.3 L1389.4 613.0 L1391.4 612.5 L1393.4 611.8 L1395.4 610.9 L1397.4 609.9 L1399.4 608.8 L1401.4 607.6 L1403.4 606.5 L1405.4 605.4 L1407.4 604.3 L1409.4 603.4 L1411.4 602.6 L1413.4 602.0 L1415.4 601.6 L1417.4 601.5 L1419.4 601.5 L1421.4 601.9 L1423.4 602.4 L1425.4 603.2 L1427.4 604.2 L1429.4 605.3 L1431.4 606.7 L1433.4 608.1 L1435.4 609.7 L1437.4 611.4 L1439.4 613.0 L1441.4 614.6 L1443.4 616.2 L1445.4 617.6 L1447.4 618.9 L1449.4 620.0 L1451.4 620.9 L1453.4 621.6 L1455.4 622.0 L1457.4 622.1 L1459.4 621.9 L1461.4 621.5 L1463.4 620.7 L1465.4 619.7 L1467.4 618.4 L1469.4 616.9 L1471.4 615.2 L1473.4 613.4 L1475.4 611.4 L1477.4 609.3 L1479.4 607.1 L1481.4 605.0 L1483.4 602.9 L1485.4 600.9 L1487.4 599.0 L1489.4 597.2 L1491.4 595.6 L1493.4 594.3 L1495.4 593.1 L1497.4 592.2 L1499.4 591.5 L1501.4 591.1 L1503.4 590.9 L1505.4 590.9 L1507.4 591.1 L1509.4 591.4 L1511.4 591.9 L1513.4 592.5 L1515.4 593.2 L1517.4 593.8 L1519.4 594.5 L1521.4 595.0 L1523.4 595.5 L1525.4 595.8 L1527.4 596.0 L1529.4 595.9 L1531.4 595.6 L1533.4 595.0 L1535.4 594.1 L1537.4 592.9 L1539.4 591.5 L1541.4 589.8 L1543.4 587.8 L1545.4 585.5 L1547.4 583.0 L1549.4 580.3 L1551.4 577.5 L1553.4 574.5 L1555.4 571.4 L1557.4 568.3 L1559.4 565.2 L1561.4 562.1 L1563.4 559.1 L1565.4 556.2 L1567.4 553.5 L1569.4 550.9 L1571.4 548.6 L1573.4 546.4 L1575.4 544.5 L1577.4 542.9" stroke="#8f88ae"/>
<path d="M1301.4 542.9 L1303.4 544.5 L1305.4 546.4 L1307.4 548.6 L1309.4 550.9 L1311.4 553.5 L1313.4 556.2 L1315.4 559.1 L1317.4 562.1 L1319.4 565.2 L1321.4 568.3 L1323.4 571.4 L1325.4 574.5 L1327.4 577.5 L1329.4 580.3 L1331.4 583.0 L1333.4 585.5 L1335.4 587.8 L1337.4 589.8 L1339.4 591.5 L1341.4 592.9 L1343.4 594.1 L1345.4 595.0 L1347.4 595.6 L1349.4 595.9 L1351.4 596.0 L1353.4 595.8 L1355.4 595.5 L1357.4 595.0 L1359.4 594.5 L1361.4 593.8 L1363.4 593.2 L1365.4 592.5 L1367.4 591.9 L1369.4 591.4 L1371.4 591.1 L1373.4 590.9 L1375.4 590.9 L1377.4 591.1 L1379.4 591.5 L1381.4 592.2 L1383.4 593.1 L1385.4 594.3 L1387.4 595.6 L1389.4 597.2 L1391.4 599.0 L1393.4 600.9 L1395.4 602.9 L1397.4 605.0 L1399.4 607.1 L1401.4 609.3 L1403.4 611.4 L1405.4 613.4 L1407.4 615.2 L1409.4 616.9 L1411.4 618.4 L1413.4 619.7 L1415.4 620.7 L1417.4 621.5 L1419.4 621.9 L1421.4 622.1 L1423.4 622.0 L1425.4 621.6 L1427.4 620.9 L1429.4 620.0 L1431.4 618.9 L1433.4 617.6 L1435.4 616.2 L1437.4 614.6 L1439.4 613.0 L1441.4 611.4 L1443.4 609.7 L1445.4 608.1 L1447.4 606.7 L1449.4 605.3 L1451.4 604.2 L1453.4 603.2 L1455.4 602.4 L1457.4 601.9 L1459.4 601.5 L1461.4 601.5 L1463.4 601.6 L1465.4 602.0 L1467.4 602.6 L1469.4 603.4 L1471.4 604.3 L1473.4 605.4 L1475.4 606.5 L1477.4 607.6 L1479.4 608.8 L1481.4 609.9 L1483.4 610.9 L1485.4 611.8 L1487.4 612.5 L1489.4 613.0 L1491.4 613.3 L1493.4 613.4 L1495.4 613.1 L1497.4 612.6 L1499.4 611.8 L1501.4 610.7 L1503.4 609.3 L1505.4 607.7 L1507.4 605.8 L1509.4 603.7 L1511.4 601.4 L1513.4 599.0 L1515.4 596.4 L1517.4 593.8 L1519.4 591.2 L1521.4 588.6 L1523.4 586.0 L1525.4 583.6 L1527.4 581.3 L1529.4 579.1 L1531.4 577.1 L1533.4 575.4 L1535.4 573.8 L1537.4 572.6 L1539.4 571.5 L1541.4 570.7 L1543.4 570.1 L1545.4 569.7 L1547.4 569.5 L1549.4 569.4 L1551.4 569.5 L1553.4 569.6 L1555.4 569.8 L1557.4 570.0 L1559.4 570.1 L1561.4 570.1 L1563.4 570.0 L1565.4 569.8 L1567.4 569.3 L1569.4 568.6 L1571.4 567.7 L1573.4 566.4 L1575.4 564.9 L1577.4 563.1" stroke="#aaa4c4"/>
<path d="M1301.4 592.7 L1303.4 592.5 L1305.4 592.3 L1307.4 592.1 L1309.4 592.0 L1311.4 592.0 L1313.4 592.1 L1315.4 592.4 L1317.4 592.9 L1319.4 593.7 L1321.4 594.6 L1323.4 595.8 L1325.4 597.3 L1327.4 599.0 L1329.4 600.9 L1331.4 603.0 L1333.4 605.3 L1335.4 607.8 L1337.4 610.3 L1339.4 613.0 L1341.4 615.6 L1343.4 618.3 L1345.4 620.9 L1347.4 623.4 L1349.4 625.7 L1351.4 627.9 L1353.4 629.9 L1355.4 631.7 L1357.4 633.2 L1359.4 634.4 L1361.4 635.4 L1363.4 636.1 L1365.4 636.4 L1367.4 636.6 L1369.4 636.4 L1371.4 636.0 L1373.4 635.5 L1375.4 634.7 L1377.4 633.8 L1379.4 632.9 L1381.4 631.8 L1383.4 630.8 L1385.4 629.8 L1387.4 628.9 L1389.4 628.0 L1391.4 627.4 L1393.4 626.9 L1395.4 626.6 L1397.4 626.5 L1399.4 626.7 L1401.4 627.1 L1403.4 627.7 L1405.4 628.6 L1407.4 629.7 L1409.4 631.0 L1411.4 632.5 L1413.4 634.1 L1415.4 635.9 L1417.4 637.7 L1419.4 639.5 L1421.4 641.4 L1423.4 643.2 L1425.4 644.9 L1427.4 646.4 L1429.4 647.8 L1431.4 649.0 L1433.4 649.9 L1435.4 650.6 L1437.4 651.1 L1439.4 651.2 L1441.4 651.1 L1443.4 650.6 L1445.4 649.9 L1447.4 649.0 L1449.4 647.8 L1451.4 646.4 L1453.4 644.9 L1455.4 643.2 L1457.4 641.4 L1459.4 639.5 L1461.4 637.7 L1463.4 635.9 L1465.4 634.1 L1467.4 632.5 L1469.4 631.0 L1471.4 629.7 L1473.4 628.6 L1475.4 627.7 L1477.4 627.1 L1479.4 626.7 L1481.4 626.5 L1483.4 626.6 L1485.4 626.9 L1487.4 627.4 L1489.4 628.0 L1491.4 628.9 L1493.4 629.8 L1495.4 630.8 L1497.4 631.8 L1499.4 632.9 L1501.4 633.8 L1503.4 634.7 L1505.4 635.5 L1507.4 636.0 L1509.4 636.4 L1511.4 636.6 L1513.4 636.4 L1515.4 636.1 L1517.4 635.4 L1519.4 634.4 L1521.4 633.2 L1523.4 631.7 L1525.4 629.9 L1527.4 627.9 L1529.4 625.7 L1531.4 623.4 L1533.4 620.9 L1535.4 618.3 L1537.4 615.6 L1539.4 613.0 L1541.4 610.3 L1543.4 607.8 L1545.4 605.3 L1547.4 603.0 L1549.4 600.9 L1551.4 599.0 L1553.4 597.3 L1555.4 595.8 L1557.4 594.6 L1559.4 593.7 L1561.4 592.9 L1563.4 592.4 L1565.4 592.1 L1567.4 592.0 L1569.4 592.0 L1571.4 592.1 L1573.4 592.3 L1575.4 592.5 L1577.4 592.7" stroke="#8f88ae"/>
<path d="M1301.4 590.3 L1303.4 593.3 L1305.4 596.4 L1307.4 599.3 L1309.4 602.2 L1311.4 604.9 L1313.4 607.4 L1315.4 609.6 L1317.4 611.7 L1319.4 613.5 L1321.4 615.0 L1323.4 616.2 L1325.4 617.1 L1327.4 617.8 L1329.4 618.2 L1331.4 618.3 L1333.4 618.2 L1335.4 618.0 L1337.4 617.6 L1339.4 617.0 L1341.4 616.4 L1343.4 615.8 L1345.4 615.2 L1347.4 614.6 L1349.4 614.1 L1351.4 613.8 L1353.4 613.6 L1355.4 613.6 L1357.4 613.8 L1359.4 614.3 L1361.4 615.0 L1363.4 615.9 L1365.4 617.1 L1367.4 618.5 L1369.4 620.1 L1371.4 621.9 L1373.4 623.9 L1375.4 626.0 L1377.4 628.2 L1379.4 630.4 L1381.4 632.7 L1383.4 634.9 L1385.4 637.0 L1387.4 639.1 L1389.4 641.0 L1391.4 642.6 L1393.4 644.1 L1395.4 645.4 L1397.4 646.3 L1399.4 647.0 L1401.4 647.4 L1403.4 647.5 L1405.4 647.4 L1407.4 647.0 L1409.4 646.3 L1411.4 645.4 L1413.4 644.3 L1415.4 643.1 L1417.4 641.8 L1419.4 640.4 L1421.4 638.9 L1423.4 637.5 L1425.4 636.1 L1427.4 634.8 L1429.4 633.7 L1431.4 632.7 L1433.4 631.9 L1435.4 631.3 L1437.4 630.9 L1439.4 630.8 L1441.4 630.9 L1443.4 631.3 L1445.4 631.9 L1447.4 632.7 L1449.4 633.7 L1451.4 634.8 L1453.4 636.1 L1455.4 637.5 L1457.4 638.9 L1459.4 640.4 L1461.4 641.8 L1463.4 643.1 L1465.4 644.3 L1467.4 645.4 L1469.4 646.3 L1471.4 647.0 L1473.4 647.4 L1475.4 647.5 L1477.4 647.4 L1479.4 647.0 L1481.4 646.3 L1483.4 645.4 L1485.4 644.1 L1487.4 642.6 L1489.4 641.0 L1491.4 639.1 L1493.4 637.0 L1495.4 634.9 L1497.4 632.7 L1499.4 630.4 L1501.4 628.2 L1503.4 626.0 L1505.4 623.9 L1507.4 621.9 L1509.4 620.1 L1511.4 618.5 L1513.4 617.1 L1515.4 615.9 L1517.4 615.0 L1519.4 614.3 L1521.4 613.8 L1523.4 613.6 L1525.4 613.6 L1527.4 613.8 L1529.4 614.1 L1531.4 614.6 L1533.4 615.2 L1535.4 615.8 L1537.4 616.4 L1539.4 617.0 L1541.4 617.6 L1543.4 618.0 L1545.4 618.2 L1547.4 618.3 L1549.4 618.2 L1551.4 617.8 L1553.4 617.1 L1555.4 616.2 L1557.4 615.0 L1559.4 613.5 L1561.4 611.7 L1563.4 609.6 L1565.4 607.4 L1567.4 604.9 L1569.4 602.2 L1571.4 599.3 L1573.4 596.4 L1575.4 593.3 L1577.4 590.3" stroke="#aaa4c4"/>
<path d="M1301.4 640.9 L1303.4 642.0 L1305.4 642.9 L1307.4 643.4 L1309.4 643.7 L1311.4 643.8 L1313.4 643.6 L1315.4 643.2 L1317.4 642.7 L1319.4 642.1 L1321.4 641.4 L1323.4 640.6 L1325.4 639.9 L1327.4 639.2 L1329.4 638.6 L1331.4 638.1 L1333.4 637.8 L1335.4 637.6 L1337.4 637.7 L1339.4 638.0 L1341.4 638.6 L1343.4 639.4 L1345.4 640.4 L1347.4 641.7 L1349.4 643.2 L1351.4 644.9 L1353.4 646.8 L1355.4 648.9 L1357.4 651.0 L1359.4 653.2 L1361.4 655.4 L1363.4 657.7 L1365.4 659.8 L1367.4 661.9 L1369.4 663.8 L1371.4 665.6 L1373.4 667.1 L1375.4 668.4 L1377.4 669.5 L1379.4 670.3 L1381.4 670.8 L1383.4 671.0 L1385.4 671.0 L1387.4 670.7 L1389.4 670.2 L1391.4 669.4 L1393.4 668.4 L1395.4 667.3 L1397.4 666.1 L1399.4 664.8 L1401.4 663.4 L1403.4 662.1 L1405.4 660.8 L1407.4 659.6 L1409.4 658.5 L1411.4 657.6 L1413.4 656.9 L1415.4 656.4 L1417.4 656.1 L1419.4 656.0 L1421.4 656.3 L1423.4 656.7 L1425.4 657.4 L1427.4 658.3 L1429.4 659.5 L1431.4 660.8 L1433.4 662.2 L1435.4 663.7 L1437.4 665.4 L1439.4 667.0 L1441.4 668.6 L1443.4 670.2 L1445.4 671.7 L1447.4 673.0 L1449.4 674.2 L1451.4 675.1 L1453.4 675.8 L1455.4 676.3 L1457.4 676.5 L1459.4 676.4 L1461.4 676.1 L1463.4 675.4 L1465.4 674.5 L1467.4 673.4 L1469.4 672.1 L1471.4 670.5 L1473.4 668.8 L1475.4 667.0 L1477.4 665.1 L1479.4 663.1 L1481.4 661.2 L1483.4 659.3 L1485.4 657.5 L1487.4 655.9 L1489.4 654.3 L1491.4 653.0 L1493.4 651.9 L1495.4 651.0 L1497.4 650.4 L1499.4 650.0 L1501.4 649.9 L1503.4 650.0 L1505.4 650.3 L1507.4 650.9 L1509.4 651.6 L1511.4 652.4 L1513.4 653.4 L1515.4 654.4 L1517.4 655.4 L1519.4 656.5 L1521.4 657.5 L1523.4 658.3 L1525.4 659.1 L1527.4 659.6 L1529.4 660.0 L1531.4 660.1 L1533.4 660.0 L1535.4 659.6 L1537.4 658.9 L1539.4 658.0 L1541.4 656.8 L1543.4 655.3 L1545.4 653.6 L1547.4 651.6 L1549.4 649.5 L1551.4 647.2 L1553.4 644.7 L1555.4 642.3 L1557.4 639.7 L1559.4 637.2 L1561.4 634.7 L1563.4 632.3 L1565.4 630.1 L1567.4 628.0 L1569.4 626.1 L1571.4 624.4 L1573.4 622.9 L1575.4 621.7 L1577.4 620.7" stroke="#8f88ae"/>
<path d="M1301.4 620.7 L1303.4 621.7 L1305.4 622.9 L1307.4 624.4 L1309.4 626.1 L1311.4 628.0 L1313.4 630.1 L1315.4 632.3 L1317.4 634.7 L1319.4 637.2 L1321.4 639.7 L1323.4 642.3 L1325.4 644.7 L1327.4 647.2 L1329.4 649.5 L1331.4 651.6 L1333.4 653.6 L1335.4 655.3 L1337.4 656.8 L1339.4 658.0 L1341.4 658.9 L1343.4 659.6 L1345.4 660.0 L1347.4 660.1 L1349.4 660.0 L1351.4 659.6 L1353.4 659.1 L1355.4 658.3 L1357.4 657.5 L1359.4 656.5 L1361.4 655.4 L1363.4 654.4 L1365.4 653.4 L1367.4 652.4 L1369.4 651.6 L1371.4 650.9 L1373.4 650.3 L1375.4 650.0 L1377.4 649.9 L1379.4 650.0 L1381.4 650.4 L1383.4 651.0 L1385.4 651.9 L1387.4 653.0 L1389.4 654.3 L1391.4 655.9 L1393.4 657.5 L1395.4 659.3 L1397.4 661.2 L1399.4 663.1 L1401.4 665.1 L1403.4 667.0 L1405.4 668.8 L1407.4 670.5 L1409.4 672.1 L1411.4 673.4 L1413.4 674.5 L1415.4 675.4 L1417.4 676.1 L1419.4 676.4 L1421.4 676.5 L1423.4 676.3 L1425.4 675.8 L1427.4 675.1 L1429.4 674.2 L1431.4 673.0 L1433.4 671.7 L1435.4 670.2 L1437.4 668.6 L1439.4 667.0 L1441.4 665.4 L1443.4 663.7 L1445.4 662.2 L1447.4 660.8 L1449.4 659.5 L1451.4 658.3 L1453.4 657.4 L1455.4 656.7 L1457.4 656.3 L1459.4 656.0 L1461.4 656.1 L1463.4 656.4 L1465.4 656.9 L1467.4 657.6 L1469.4 658.5 L1471.4 659.6 L1473.4 660.8 L1475.4 662.1 L1477.4 663.4 L1479.4 664.8 L1481.4 666.1 L1483.4 667.3 L1485.4 668.4 L1487.4 669.4 L1489.4 670.2 L1491.4 670.7 L1493.4 671.0 L1495.4 671.0 L1497.4 670.8 L1499.4 670.3 L1501.4 669.5 L1503.4 668.4 L1505.4 667.1 L1507.4 665.6 L1509.4 663.8 L1511.4 661.9 L1513.4 659.8 L1515.4 657.7 L1517.4 655.4 L1519.4 653.2 L1521.4 651.0 L1523.4 648.9 L1525.4 646.8 L1527.4 644.9 L1529.4 643.2 L1531.4 641.7 L1533.4 640.4 L1535.4 639.4 L1537.4 638.6 L1539.4 638.0 L1541.4 637.7 L1543.4 637.6 L1545.4 637.8 L1547.4 638.1 L1549.4 638.6 L1551.4 639.2 L1553.4 639.9 L1555.4 640.6 L1557.4 641.4 L1559.4 642.1 L1561.4 642.7 L1563.4 643.2 L1565.4 643.6 L1567.4 643.8 L1569.4 643.7 L1571.4 643.4 L1573.4 642.9 L1575.4 642.0 L1577.4 640.9" stroke="#aaa4c4"/>
<path d="M1301.4 669.4 L1303.4 668.4 L1305.4 667.4 L1307.4 666.5 L1309.4 665.6 L1311.4 664.9 L1313.4 664.3 L1315.4 663.9 L1317.4 663.8 L1319.4 663.8 L1321.4 664.1 L1323.4 664.7 L1325.4 665.5 L1327.4 666.6 L1329.4 667.9 L1331.4 669.4 L1333.4 671.1 L1335.4 672.9 L1337.4 674.9 L1339.4 677.0 L1341.4 679.1 L1343.4 681.2 L1345.4 683.2 L1347.4 685.2 L1349.4 687.1 L1351.4 688.8 L1353.4 690.3 L1355.4 691.6 L1357.4 692.6 L1359.4 693.4 L1361.4 693.9 L1363.4 694.1 L1365.4 694.1 L1367.4 693.8 L1369.4 693.3 L1371.4 692.5 L1373.4 691.6 L1375.4 690.5 L1377.4 689.2 L1379.4 687.9 L1381.4 686.6 L1383.4 685.2 L1385.4 683.9 L1387.4 682.7 L1389.4 681.5 L1391.4 680.6 L1393.4 679.8 L1395.4 679.3 L1397.4 679.0 L1399.4 678.9 L1401.4 679.1 L1403.4 679.5 L1405.4 680.2 L1407.4 681.2 L1409.4 682.3 L1411.4 683.6 L1413.4 685.1 L1415.4 686.7 L1417.4 688.4 L1419.4 690.1 L1421.4 691.8 L1423.4 693.5 L1425.4 695.1 L1427.4 696.6 L1429.4 697.9 L1431.4 699.1 L1433.4 700.0 L1435.4 700.7 L1437.4 701.1 L1439.4 701.2 L1441.4 701.1 L1443.4 700.7 L1445.4 700.0 L1447.4 699.1 L1449.4 697.9 L1451.4 696.6 L1453.4 695.1 L1455.4 693.5 L1457.4 691.8 L1459.4 690.1 L1461.4 688.4 L1463.4 686.7 L1465.4 685.1 L1467.4 683.6 L1469.4 682.3 L1471.4 681.2 L1473.4 680.2 L1475.4 679.5 L1477.4 679.1 L1479.4 678.9 L1481.4 679.0 L1483.4 679.3 L1485.4 679.8 L1487.4 680.6 L1489.4 681.5 L1491.4 682.7 L1493.4 683.9 L1495.4 685.2 L1497.4 686.6 L1499.4 687.9 L1501.4 689.2 L1503.4 690.5 L1505.4 691.6 L1507.4 692.5 L1509.4 693.3 L1511.4 693.8 L1513.4 694.1 L1515.4 694.1 L1517.4 693.9 L1519.4 693.4 L1521.4 692.6 L1523.4 691.6 L1525.4 690.3 L1527.4 688.8 L1529.4 687.1 L1531.4 685.2 L1533.4 683.2 L1535.4 681.2 L1537.4 679.1 L1539.4 677.0 L1541.4 674.9 L1543.4 672.9 L1545.4 671.1 L1547.4 669.4 L1549.4 667.9 L1551.4 666.6 L1553.4 665.5 L1555.4 664.7 L1557.4 664.1 L1559.4 663.8 L1561.4 663.8 L1563.4 663.9 L1565.4 664.3 L1567.4 664.9 L1569.4 665.6 L1571.4 666.5 L1573.4 667.4 L1575.4 668.4 L1577.4 669.4" stroke="#8f88ae"/>
<path d="M1301.4 666.9 L1303.4 669.2 L1305.4 671.5 L1307.4 673.7 L1309.4 675.8 L1311.4 677.8 L1313.4 679.6 L1315.4 681.2 L1317.4 682.5 L1319.4 683.6 L1321.4 684.5 L1323.4 685.0 L1325.4 685.3 L1327.4 685.3 L1329.4 685.1 L1331.4 684.6 L1333.4 684.0 L1335.4 683.1 L1337.4 682.1 L1339.4 681.0 L1341.4 679.9 L1343.4 678.7 L1345.4 677.6 L1347.4 676.5 L1349.4 675.5 L1351.4 674.6 L1353.4 674.0 L1355.4 673.5 L1357.4 673.3 L1359.4 673.3 L1361.4 673.5 L1363.4 674.0 L1365.4 674.8 L1367.4 675.7 L1369.4 677.0 L1371.4 678.4 L1373.4 680.0 L1375.4 681.7 L1377.4 683.5 L1379.4 685.5 L1381.4 687.4 L1383.4 689.3 L1385.4 691.1 L1387.4 692.9 L1389.4 694.5 L1391.4 695.9 L1393.4 697.1 L1395.4 698.1 L1397.4 698.8 L1399.4 699.2 L1401.4 699.4 L1403.4 699.3 L1405.4 699.0 L1407.4 698.4 L1409.4 697.6 L1411.4 696.5 L1413.4 695.3 L1415.4 693.9 L1417.4 692.5 L1419.4 690.9 L1421.4 689.4 L1423.4 687.9 L1425.4 686.4 L1427.4 685.0 L1429.4 683.8 L1431.4 682.8 L1433.4 681.9 L1435.4 681.3 L1437.4 680.9 L1439.4 680.8 L1441.4 680.9 L1443.4 681.3 L1445.4 681.9 L1447.4 682.8 L1449.4 683.8 L1451.4 685.0 L1453.4 686.4 L1455.4 687.9 L1457.4 689.4 L1459.4 690.9 L1461.4 692.5 L1463.4 693.9 L1465.4 695.3 L1467.4 696.5 L1469.4 697.6 L1471.4 698.4 L1473.4 699.0 L1475.4 699.3 L1477.4 699.4 L1479.4 699.2 L1481.4 698.8 L1483.4 698.1 L1485.4 697.1 L1487.4 695.9 L1489.4 694.5 L1491.4 692.9 L1493.4 691.1 L1495.4 689.3 L1497.4 687.4 L1499.4 685.5 L1501.4 683.5 L1503.4 681.7 L1505.4 680.0 L1507.4 678.4 L1509.4 677.0 L1511.4 675.7 L1513.4 674.8 L1515.4 674.0 L1517.4 673.5 L1519.4 673.3 L1521.4 673.3 L1523.4 673.5 L1525.4 674.0 L1527.4 674.6 L1529.4 675.5 L1531.4 676.5 L1533.4 677.6 L1535.4 678.7 L1537.4 679.9 L1539.4 681.0 L1541.4 682.1 L1543.4 683.1 L1545.4 684.0 L1547.4 684.6 L1549.4 685.1 L1551.4 685.3 L1553.4 685.3 L1555.4 685.0 L1557.4 684.5 L1559.4 683.6 L1561.4 682.5 L1563.4 681.2 L1565.4 679.6 L1567.4 677.8 L1569.4 675.8 L1571.4 673.7 L1573.4 671.5 L1575.4 669.2 L1577.4 666.9" stroke="#aaa4c4"/>
</g>
<path d="M1305.4 533C1311.4 563 1369.4 598.3 1439.4 598.3C1509.4 598.3 1567.4 563 1573.4 533" fill="none" stroke="#352d55" stroke-width="1.6"/>
<g fill="none" stroke="#6c6c6b" stroke-width="6.2" stroke-linecap="round">
<path d="M1411.7 2150.2V2176.4"/>
<path d="M1423.3 2176.4V2150M1423.3 2161a13.7 13.7 0 0 1 27.4 0V2176.4"/>
<circle cx="1474.7" cy="2162.8" r="15.5"/><path d="M1491.2 2137.2V2176.4"/>
<path d="M1501 2162.8H1532A15.5 15.5 0 1 0 1528.4 2172.8"/>
<path d="M1568.1 2155A15.5 15.5 0 1 0 1568.1 2170.6"/>
</g>
<circle cx="1411.7" cy="2138.6" r="3.9" fill="#6c6c6b"/>
<path d="M1470.5 2143L1461.5 2158M1488.5 2166L1481 2180" stroke="#fbf8f1" stroke-width="2.2" fill="none"/>
</svg>
<div class="t" style="left:87.0px;top:38.0px;font-size:60px;color:#0b4f94;font-weight:700;transform:scaleX(0.9453);">Canasta básica alimentaria y total</div>
<div class="t" style="left:92.3px;top:106.4px;font-size:27px;color:#7a7a7a;transform:scaleX(0.9524);">En pesos y variaciones porcentuales respecto a distintos períodos. Gran Buenos Aires. Junio de 2025.</div>
<div class="t" style="left:359.5px;top:238.3px;font-size:31px;color:#fff;font-weight:700;transform:scaleX(0.8442);">Canasta básica alimentaria</div>
<div class="t" style="left:1132.5px;top:238.3px;font-size:31px;color:#fff;font-weight:700;transform:scaleX(0.8440);">Canasta básica total</div>
<div class="t" style="left:257.5px;top:799.2px;font-size:34px;color:#fff;font-weight:700;transform:scaleX(0.9697);">$163.757</div>
<div class="t" style="left:1402.0px;top:799.2px;font-size:34px;color:#fff;font-weight:700;transform:scaleX(0.9697);">$365.177</div>
<div class="t" style="left:485.0px;top:789.3px;font-size:28px;color:#ad2a5c;font-weight:700;transform:scaleX(0.7844);">Canasta básica alimentaria</div>
<div class="t" style="left:520.7px;top:817.8px;font-size:21.5px;color:#de6a93;transform:scaleX(0.9746);">Línea de indigencia para</div>
<div class="t" style="left:508.0px;top:842.3px;font-size:21.5px;color:#de6a93;transform:scaleX(0.9680);">un adulto equivalente (en $)</div>
<div class="t" style="left:1045.0px;top:789.3px;font-size:28px;color:#4b4272;font-weight:700;transform:scaleX(0.7849);">Canasta básica total</div>
<div class="t" style="left:1049.0px;top:817.8px;font-size:21.5px;color:#8c84ae;transform:scaleX(0.9753);">Línea de pobreza para</div>
<div class="t" style="left:1030.0px;top:842.3px;font-size:21.5px;color:#8c84ae;transform:scaleX(0.9699);">un adulto equivalente (en $)</div>
<div class="t" style="left:582.6px;top:437.7px;font-size:31px;color:#fff;font-weight:700;transform:scaleX(0.9850);">1,1%</div>
<div class="t" style="left:741.7px;top:539.1px;font-size:31px;color:#fff;font-weight:700;transform:scaleX(0.9850);">12,6%</div>
<div class="t" style="left:571.1px;top:671.5px;font-size:31px;color:#fff;font-weight:700;transform:scaleX(0.9850);">28,7%</div>
<div class="t" style="left:571.5px;top:316.8px;font-size:17.5px;color:#fff;font-weight:700;transform:scaleX(0.9365);">Variación %</div>
<div class="t" style="left:565.0px;top:345.7px;font-size:15.5px;color:#f3f4f8;transform:scaleX(0.9990);">con respecto al</div>
<div class="t" style="left:575.2px;top:363.6px;font-size:15.5px;color:#f3f4f8;transform:scaleX(0.9810);">mes anterior</div>
<div class="t" style="left:739.1px;top:419.3px;font-size:17.5px;color:#fff;font-weight:700;transform:scaleX(0.9365);">Variación %</div>
<div class="t" style="left:720.9px;top:457.1px;font-size:15.5px;color:#f3f4f8;transform:scaleX(0.9811);">acumulada del año</div>
<div class="t" style="left:527.8px;top:543.5px;font-size:17.5px;color:#fff;font-weight:700;transform:scaleX(0.9287);">Variación % interanual</div>
<div class="t" style="left:545.5px;top:572.3px;font-size:15.5px;color:#f3f4f8;transform:scaleX(0.9948);">con respecto a igual</div>
<div class="t" style="left:545.3px;top:590.2px;font-size:15.5px;color:#f3f4f8;transform:scaleX(0.9803);">mes del año anterior</div>
<div class="t" style="left:1149.8px;top:437.5px;font-size:31px;color:#fff;font-weight:700;transform:scaleX(0.9850);">1,6%</div>
<div class="t" style="left:973.9px;top:539.1px;font-size:31px;color:#fff;font-weight:700;transform:scaleX(0.9102);">10,1%</div>
<div class="t" style="left:1147.6px;top:671.7px;font-size:31px;color:#fff;font-weight:700;transform:scaleX(0.9850);">29,2%</div>
<div class="t" style="left:1138.7px;top:317.1px;font-size:17.5px;color:#fff;font-weight:700;transform:scaleX(0.9365);">Variación %</div>
<div class="t" style="left:1132.2px;top:346.0px;font-size:15.5px;color:#f3f4f8;transform:scaleX(0.9990);">con respecto al</div>
<div class="t" style="left:1142.4px;top:363.9px;font-size:15.5px;color:#f3f4f8;transform:scaleX(0.9810);">mes anterior</div>
<div class="t" style="left:967.9px;top:419.3px;font-size:17.5px;color:#fff;font-weight:700;transform:scaleX(0.9365);">Variación %</div>
<div class="t" style="left:949.6px;top:457.3px;font-size:15.5px;color:#f3f4f8;transform:scaleX(0.9811);">acumulada del año</div>
<div class="t" style="left:1104.0px;top:543.5px;font-size:17.5px;color:#fff;font-weight:700;transform:scaleX(0.9287);">Variación % interanual</div>
<div class="t" style="left:1121.7px;top:572.3px;font-size:15.5px;color:#f3f4f8;transform:scaleX(0.9948);">con respecto a igual</div>
<div class="t" style="left:1121.4px;top:590.2px;font-size:15.5px;color:#f3f4f8;transform:scaleX(0.9803);">mes del año anterior</div>
<div class="t" style="left:482.5px;top:926.9px;font-size:30.5px;color:#4f6393;font-weight:700;transform:scaleX(0.8574);">Variaciones porcentuales de las canastas respecto al mes anterior</div>
<div class="t" style="left:235.9px;top:1348.5px;font-size:15.6px;color:#626e8c;transform:scaleX(1.0600);-webkit-text-stroke:0.25px #626e8c;">-1</div>
<div class="t" style="left:241.4px;top:1260.0px;font-size:15.6px;color:#626e8c;transform:scaleX(1.0600);-webkit-text-stroke:0.25px #626e8c;">1</div>
<div class="t" style="left:241.4px;top:1215.8px;font-size:15.6px;color:#626e8c;transform:scaleX(1.0600);-webkit-text-stroke:0.25px #626e8c;">2</div>
<div class="t" style="left:241.4px;top:1171.5px;font-size:15.6px;color:#626e8c;transform:scaleX(1.0600);-webkit-text-stroke:0.25px #626e8c;">3</div>
<div class="t" style="left:241.4px;top:1127.3px;font-size:15.6px;color:#626e8c;transform:scaleX(1.0600);-webkit-text-stroke:0.25px #626e8c;">4</div>
<div class="t" style="left:241.4px;top:1083.0px;font-size:15.6px;color:#626e8c;transform:scaleX(1.0600);-webkit-text-stroke:0.25px #626e8c;">5</div>
<div class="t" style="left:241.4px;top:1038.8px;font-size:15.6px;color:#626e8c;transform:scaleX(1.0600);-webkit-text-stroke:0.25px #626e8c;">6</div>
<div class="t" style="left:241.4px;top:994.5px;font-size:15.6px;color:#626e8c;transform:scaleX(1.0600);-webkit-text-stroke:0.25px #626e8c;">7</div>
<div class="t" style="left:241.4px;top:1304.3px;font-size:15.6px;color:#626e8c;transform:scaleX(1.0600);-webkit-text-stroke:0.25px #626e8c;">0</div>
<div class="t" style="left:306.1px;top:1305.8px;font-size:24.5px;color:#3b3561;font-weight:700;transform:rotate(-90deg) translate(0.0px,-20.7px) scaleX(0.8700);">1,6</div>
<div class="t" style="left:347.0px;top:1305.8px;font-size:24.5px;color:#dedde9;font-weight:700;transform:rotate(-90deg) translate(0.0px,-20.7px) scaleX(0.8700);">2,6</div>
<div class="t" style="left:404.2px;top:1305.8px;font-size:24.5px;color:#3b3561;font-weight:700;transform:rotate(-90deg) translate(0.0px,-20.7px) scaleX(0.8700);">3,1</div>
<div class="t" style="left:444.9px;top:1305.8px;font-size:24.5px;color:#dedde9;font-weight:700;transform:rotate(-90deg) translate(0.0px,-20.7px) scaleX(0.8700);">3,1</div>
<div class="t" style="left:502.3px;top:1305.8px;font-size:24.5px;color:#3b3561;font-weight:700;transform:rotate(-90deg) translate(0.0px,-20.7px) scaleX(0.8700);">3,9</div>
<div class="t" style="left:542.7px;top:1305.8px;font-size:24.5px;color:#dedde9;font-weight:700;transform:rotate(-90deg) translate(0.0px,-20.7px) scaleX(0.8700);">4,4</div>
<div class="t" style="left:600.4px;top:1305.8px;font-size:24.5px;color:#3b3561;font-weight:700;transform:rotate(-90deg) translate(0.0px,-20.7px) scaleX(0.8700);">1,7</div>
<div class="t" style="left:640.5px;top:1305.8px;font-size:24.5px;color:#dedde9;font-weight:700;transform:rotate(-90deg) translate(0.0px,-20.7px) scaleX(0.8700);">2,6</div>
<div class="t" style="left:698.5px;top:1305.8px;font-size:24.5px;color:#3b3561;font-weight:700;transform:rotate(-90deg) translate(0.0px,-20.7px) scaleX(0.8700);">1,4</div>
<div class="t" style="left:738.4px;top:1305.8px;font-size:24.5px;color:#dedde9;font-weight:700;transform:rotate(-90deg) translate(0.0px,-20.7px) scaleX(0.8700);">2,3</div>
<div class="t" style="left:796.6px;top:1305.8px;font-size:24.5px;color:#3b3561;font-weight:700;transform:rotate(-90deg) translate(0.0px,-20.7px) scaleX(0.8700);">1,1</div>
<div class="t" style="left:836.2px;top:1305.8px;font-size:24.5px;color:#dedde9;font-weight:700;transform:rotate(-90deg) translate(0.0px,-20.7px) scaleX(0.8700);">1,5</div>
<div class="t" style="left:894.7px;top:1305.8px;font-size:24.5px;color:#3b3561;font-weight:700;transform:rotate(-90deg) translate(0.0px,-20.7px) scaleX(0.8700);">2,3</div>
<div class="t" style="left:934.1px;top:1305.8px;font-size:24.5px;color:#dedde9;font-weight:700;transform:rotate(-90deg) translate(0.0px,-20.7px) scaleX(0.8700);">2,3</div>
<div class="t" style="left:995.2px;top:1305.8px;font-size:24.5px;color:#3b3561;font-weight:700;transform:rotate(-90deg) translate(0.0px,-20.7px) scaleX(0.8700);">0,9</div>
<div class="t" style="left:1034.2px;top:1305.8px;font-size:24.5px;color:#dedde9;font-weight:700;transform:rotate(-90deg) translate(0.0px,-20.7px) scaleX(0.8700);">0,9</div>
<div class="t" style="left:1093.6px;top:1305.8px;font-size:24.5px;color:#3b3561;font-weight:700;transform:rotate(-90deg) translate(0.0px,-20.7px) scaleX(0.8700);">3,2</div>
<div class="t" style="left:1132.5px;top:1305.8px;font-size:24.5px;color:#dedde9;font-weight:700;transform:rotate(-90deg) translate(0.0px,-20.7px) scaleX(0.8700);">2,3</div>
<div class="t" style="left:1192.0px;top:1305.8px;font-size:24.5px;color:#3b3561;font-weight:700;transform:rotate(-90deg) translate(0.0px,-20.7px) scaleX(0.8700);">5,9</div>
<div class="t" style="left:1230.8px;top:1305.8px;font-size:24.5px;color:#dedde9;font-weight:700;transform:rotate(-90deg) translate(0.0px,-20.7px) scaleX(0.8700);">4,0</div>
<div class="t" style="left:1290.4px;top:1305.8px;font-size:24.5px;color:#3b3561;font-weight:700;transform:rotate(-90deg) translate(0.0px,-20.7px) scaleX(0.8700);">1,3</div>
<div class="t" style="left:1329.1px;top:1305.8px;font-size:24.5px;color:#dedde9;font-weight:700;transform:rotate(-90deg) translate(0.0px,-20.7px) scaleX(0.8700);">0,9</div>
<div class="t" style="left:1384.4px;top:1314.6px;font-size:24.5px;color:#3b3561;font-weight:700;transform:rotate(-90deg) translate(-36.7px,-20.7px) scaleX(0.8700);">-0,4</div>
<div class="t" style="left:1426.0px;top:1306.4px;font-size:24.5px;color:#3b3561;font-weight:700;transform:rotate(-90deg) translate(0.0px,-20.7px) scaleX(0.8700);">0,1</div>
<div class="t" style="left:329.3px;top:1376.6px;font-size:27px;color:#e7ebf4;-webkit-text-stroke:0.45px #e7ebf4;transform:rotate(-90deg) translate(-33.1px,-22.9px) scaleX(0.6300);">JUN</div>
<div class="t" style="left:427.2px;top:1376.6px;font-size:27px;color:#e7ebf4;-webkit-text-stroke:0.45px #e7ebf4;transform:rotate(-90deg) translate(-30.2px,-22.9px) scaleX(0.6300);">JUL</div>
<div class="t" style="left:525.1px;top:1376.6px;font-size:27px;color:#e7ebf4;-webkit-text-stroke:0.45px #e7ebf4;transform:rotate(-90deg) translate(-37.8px,-22.9px) scaleX(0.6300);">AGO</div>
<div class="t" style="left:622.9px;top:1376.6px;font-size:27px;color:#e7ebf4;-webkit-text-stroke:0.45px #e7ebf4;transform:rotate(-90deg) translate(-34.0px,-22.9px) scaleX(0.6300);">SEP</div>
<div class="t" style="left:720.8px;top:1376.6px;font-size:27px;color:#e7ebf4;-webkit-text-stroke:0.45px #e7ebf4;transform:rotate(-90deg) translate(-35.9px,-22.9px) scaleX(0.6300);">OCT</div>
<div class="t" style="left:818.7px;top:1376.6px;font-size:27px;color:#e7ebf4;-webkit-text-stroke:0.45px #e7ebf4;transform:rotate(-90deg) translate(-36.9px,-22.9px) scaleX(0.6300);">NOV</div>
<div class="t" style="left:916.6px;top:1376.6px;font-size:27px;color:#e7ebf4;-webkit-text-stroke:0.45px #e7ebf4;transform:rotate(-90deg) translate(-29.3px,-22.9px) scaleX(0.6300);">DIC</div>
<div class="t" style="left:1014.5px;top:1376.6px;font-size:27px;color:#e7ebf4;-webkit-text-stroke:0.45px #e7ebf4;transform:rotate(-90deg) translate(-35.0px,-22.9px) scaleX(0.6300);">ENE</div>
<div class="t" style="left:1112.3px;top:1376.6px;font-size:27px;color:#e7ebf4;-webkit-text-stroke:0.45px #e7ebf4;transform:rotate(-90deg) translate(-33.1px,-22.9px) scaleX(0.6300);">FEB</div>
<div class="t" style="left:1210.2px;top:1376.6px;font-size:27px;color:#e7ebf4;-webkit-text-stroke:0.45px #e7ebf4;transform:rotate(-90deg) translate(-37.8px,-22.9px) scaleX(0.6300);">MAR</div>
<div class="t" style="left:1308.1px;top:1376.6px;font-size:27px;color:#e7ebf4;-webkit-text-stroke:0.45px #e7ebf4;transform:rotate(-90deg) translate(-35.0px,-22.9px) scaleX(0.6300);">ABR</div>
<div class="t" style="left:1406.0px;top:1376.6px;font-size:27px;color:#e7ebf4;-webkit-text-stroke:0.45px #e7ebf4;transform:rotate(-90deg) translate(-35.6px,-22.9px) scaleX(0.6300);">MAY</div>
<div class="t" style="left:1503.9px;top:1376.6px;font-size:27px;color:#e7ebf4;-webkit-text-stroke:0.45px #e7ebf4;transform:rotate(-90deg) translate(-33.1px,-22.9px) scaleX(0.6300);">JUN</div>
<div class="t" style="left:582.5px;top:1443.5px;font-size:30px;color:#f1f3f9;transform:scaleX(0.8811);">2024</div>
<div class="t" style="left:1222.2px;top:1439.4px;font-size:30px;color:#f1f3f9;transform:scaleX(0.8467);">2025</div>
<div class="t" style="left:1483.5px;top:1084.0px;font-size:31px;color:#6a1c3f;font-weight:700;transform:scaleX(0.9624);">1,1%</div>
<div class="t" style="left:1525.7px;top:1152.8px;font-size:31px;color:#463f6d;font-weight:700;transform:scaleX(0.9582);">1,6%</div>
<div class="t" style="left:480.0px;top:1559.4px;font-size:33px;color:#fff;transform:scaleX(0.8363);">Hogar de 3 integrantes</div>
<div class="t" style="left:582.5px;top:1636.2px;font-size:35.5px;color:#fff;font-weight:700;transform:scaleX(0.9659);">$402.841</div>
<div class="t" style="left:1072.5px;top:1636.2px;font-size:35.5px;color:#fff;font-weight:700;transform:scaleX(1.0047);">$898.336</div>
<div class="t" style="left:1007.6px;top:1538.7px;font-size:19.8px;color:#f4f6fa;transform:scaleX(1.0037);">Compuesto por una mujer de 35</div>
<div class="t" style="left:1007.6px;top:1563.2px;font-size:19.8px;color:#f4f6fa;transform:scaleX(0.9982);">años, su hijo de 18 años y su madre</div>
<div class="t" style="left:1007.6px;top:1587.7px;font-size:19.8px;color:#f4f6fa;transform:scaleX(0.9951);">de 61 años</div>
<div class="t" style="left:478.8px;top:1736.3px;font-size:33px;color:#fff;transform:scaleX(0.8438);">Hogar de 4 integrantes</div>
<div class="t" style="left:582.5px;top:1813.0px;font-size:35.5px;color:#fff;font-weight:700;transform:scaleX(0.9912);">$506.008</div>
<div class="t" style="left:1072.5px;top:1813.0px;font-size:35.5px;color:#fff;font-weight:700;transform:scaleX(1.0033);">$1.128.398</div>
<div class="t" style="left:1007.6px;top:1718.2px;font-size:19.8px;color:#f4f6fa;transform:scaleX(1.0034);">Compuesto por un varón de 35 años,</div>
<div class="t" style="left:1007.6px;top:1742.7px;font-size:19.8px;color:#f4f6fa;transform:scaleX(0.9971);">una mujer de 31 años, un hijo de 6</div>
<div class="t" style="left:1007.6px;top:1767.2px;font-size:19.8px;color:#f4f6fa;transform:scaleX(0.9927);">años y una hija de 8 años</div>
<div class="t" style="left:480.0px;top:1913.3px;font-size:33px;color:#fff;transform:scaleX(0.8371);">Hogar de 5 integrantes</div>
<div class="t" style="left:582.5px;top:1990.0px;font-size:35.5px;color:#fff;font-weight:700;transform:scaleX(0.9912);">$532.209</div>
<div class="t" style="left:1072.5px;top:1990.0px;font-size:35.5px;color:#fff;font-weight:700;transform:scaleX(1.0033);">$1.186.826</div>
<div class="t" style="left:1007.6px;top:1892.5px;font-size:19.8px;color:#f4f6fa;transform:scaleX(1.0043);">Compuesto por un varón y una</div>
<div class="t" style="left:1007.6px;top:1917.0px;font-size:19.8px;color:#f4f6fa;transform:scaleX(1.0045);">mujer, ambos de 30 años, y tres</div>
<div class="t" style="left:1007.6px;top:1941.5px;font-size:19.8px;color:#f4f6fa;transform:scaleX(0.9988);">hijos de 5, 3 y 1 año</div>
<div class="t" style="left:319.3px;top:1893.2px;font-size:28.5px;color:#fff;-webkit-text-stroke:0.3px #fff;transform:rotate(-90deg) translate(0.0px,-24.1px) scaleX(0.7110);">Canasta básica alimentaria</div>
<div class="t" style="left:1487.9px;top:1671.0px;font-size:28.5px;color:#fff;-webkit-text-stroke:0.3px #fff;transform:rotate(90deg) translate(0.0px,-24.1px) scaleX(0.6855);">Canasta básica total</div>
<div class="t" style="left:95.5px;top:2156.5px;font-size:21.8px;color:#6b6b6b;transform:scaleX(1.0016);">Fuente: INDEC, Valorización mensual de la canasta básica alimentaria y de la canasta básica total. Gran Buenos Aires.</div>
<div class="t" style="left:1575.2px;top:2143.7px;font-size:39px;color:#6e6e6d;transform:scaleX(0.9843);">.gob.ar</div>
<svg id="tex" width="1800" height="2256" viewBox="0 0 1800 2256"><g fill="#6b5f45" opacity="0.045"><ellipse cx="583" cy="340" rx="4.8" ry="1.9" transform="rotate(96 583 340)"/><ellipse cx="658" cy="131" rx="4.0" ry="1.5" transform="rotate(78 658 131)"/><ellipse cx="126" cy="205" rx="3.6" ry="2.9" transform="rotate(22 126 205)"/><ellipse cx="402" cy="1415" rx="6.2" ry="4.2" transform="rotate(71 402 1415)"/><ellipse cx="1757" cy="105" rx="5.8" ry="2.9" transform="rotate(26 1757 105)"/><ellipse cx="212" cy="696" rx="5.6" ry="2.5" transform="rotate(105 212 696)"/><ellipse cx="1150" cy="840" rx="4.2" ry="1.6" transform="rotate(11 1150 840)"/><ellipse cx="371" cy="1535" rx="3.6" ry="1.9" transform="rotate(105 371 1535)"/><ellipse cx="816" cy="676" rx="5.5" ry="4.0" transform="rotate(44 816 676)"/><ellipse cx="1034" cy="1185" rx="5.9" ry="4.4" transform="rotate(52 1034 1185)"/><ellipse cx="1764" cy="266" rx="3.6" ry="2.8" transform="rotate(27 1764 266)"/><ellipse cx="880" cy="88" rx="4.8" ry="3.7" transform="rotate(103 880 88)"/><ellipse cx="1576" cy="708" rx="5.0" ry="3.4" transform="rotate(104 1576 708)"/><ellipse cx="821" cy="1895" rx="6.2" ry="3.8" transform="rotate(120 821 1895)"/><ellipse cx="109" cy="1583" rx="4.7" ry="4.2" transform="rotate(148 109 1583)"/><ellipse cx="512" cy="870" rx="4.8" ry="1.8" transform="rotate(83 512 870)"/><ellipse cx="302" cy="264" rx="1.8" ry="1.4" transform="rotate(23 302 264)"/><ellipse cx="446" cy="882" rx="5.9" ry="2.3" transform="rotate(81 446 882)"/><ellipse cx="989" cy="1993" rx="5.6" ry="4.6" transform="rotate(50 989 1993)"/><ellipse cx="748" cy="809" rx="5.9" ry="5.2" transform="rotate(27 748 809)"/><ellipse cx="317" cy="523" rx="2.7" ry="1.6" transform="rotate(106 317 523)"/><ellipse cx="473" cy="9" rx="3.6" ry="2.0" transform="rotate(102 473 9)"/><ellipse cx="1716" cy="1558" rx="4.1" ry="2.8" transform="rotate(122 1716 1558)"/><ellipse cx="97" cy="2029" rx="5.4" ry="4.5" transform="rotate(144 97 2029)"/><ellipse cx="706" cy="900" rx="2.0" ry="1.4" transform="rotate(11 706 900)"/><ellipse cx="121" cy="471" rx="2.3" ry="1.2" transform="rotate(9 121 471)"/><ellipse cx="0" cy="341" rx="2.0" ry="1.1" transform="rotate(5 0 341)"/><ellipse cx="1574" cy="1385" rx="2.2" ry="1.1" transform="rotate(63 1574 1385)"/><ellipse cx="655" cy="277" rx="5.7" ry="5.1" transform="rotate(84 655 277)"/><ellipse cx="871" cy="194" rx="2.0" ry="1.1" transform="rotate(48 871 194)"/><ellipse cx="1492" cy="364" rx="1.6" ry="1.4" transform="rotate(95 1492 364)"/><ellipse cx="264" cy="1225" rx="1.6" ry="1.0" transform="rotate(176 264 1225)"/><ellipse cx="1554" cy="1571" rx="2.8" ry="1.5" transform="rotate(30 1554 1571)"/><ellipse cx="1389" cy="1202" rx="5.4" ry="2.9" transform="rotate(40 1389 1202)"/><ellipse cx="1461" cy="2222" rx="5.8" ry="4.6" transform="rotate(147 1461 2222)"/><ellipse cx="1332" cy="512" rx="4.1" ry="2.2" transform="rotate(5 1332 512)"/><ellipse cx="50" cy="630" rx="2.8" ry="2.0" transform="rotate(172 50 630)"/><ellipse cx="805" cy="2114" rx="6.4" ry="5.6" transform="rotate(66 805 2114)"/><ellipse cx="397" cy="512" rx="2.5" ry="1.1" transform="rotate(112 397 512)"/><ellipse cx="1621" cy="1896" rx="3.9" ry="2.8" transform="rotate(144 1621 1896)"/><ellipse cx="153" cy="1490" rx="6.0" ry="4.7" transform="rotate(135 153 1490)"/><ellipse cx="860" cy="403" rx="5.4" ry="2.9" transform="rotate(144 860 403)"/><ellipse cx="1749" cy="893" rx="3.5" ry="3.1" transform="rotate(130 1749 893)"/><ellipse cx="306" cy="287" rx="2.3" ry="1.9" transform="rotate(145 306 287)"/><ellipse cx="263" cy="1865" rx="6.4" ry="4.6" transform="rotate(63 263 1865)"/><ellipse cx="988" cy="295" rx="1.6" ry="1.4" transform="rotate(117 988 295)"/><ellipse cx="948" cy="2106" rx="3.7" ry="3.0" transform="rotate(149 948 2106)"/><ellipse cx="380" cy="568" rx="3.0" ry="1.4" transform="rotate(106 380 568)"/><ellipse cx="467" cy="945" rx="2.2" ry="1.8" transform="rotate(64 467 945)"/><ellipse cx="825" cy="1316" rx="6.0" ry="3.5" transform="rotate(165 825 1316)"/><ellipse cx="903" cy="1200" rx="4.1" ry="1.5" transform="rotate(79 903 1200)"/><ellipse cx="330" cy="9" rx="5.5" ry="2.4" transform="rotate(85 330 9)"/><ellipse cx="1305" cy="1255" rx="3.1" ry="2.0" transform="rotate(100 1305 1255)"/><ellipse cx="1412" cy="239" rx="4.3" ry="2.1" transform="rotate(50 1412 239)"/><ellipse cx="1390" cy="1145" rx="4.3" ry="3.3" transform="rotate(164 1390 1145)"/><ellipse cx="798" cy="1382" rx="4.0" ry="2.5" transform="rotate(125 798 1382)"/><ellipse cx="814" cy="1203" rx="3.9" ry="3.4" transform="rotate(126 814 1203)"/><ellipse cx="1578" cy="2126" rx="2.8" ry="1.8" transform="rotate(170 1578 2126)"/><ellipse cx="1512" cy="309" rx="2.1" ry="1.3" transform="rotate(13 1512 309)"/><ellipse cx="433" cy="165" rx="4.8" ry="3.8" transform="rotate(161 433 165)"/><ellipse cx="278" cy="1616" rx="4.8" ry="2.1" transform="rotate(159 278 1616)"/><ellipse cx="1742" cy="495" rx="6.3" ry="3.6" transform="rotate(88 1742 495)"/><ellipse cx="1782" cy="1878" rx="2.3" ry="1.4" transform="rotate(93 1782 1878)"/><ellipse cx="610" cy="442" rx="3.1" ry="2.3" transform="rotate(4 610 442)"/><ellipse cx="997" cy="994" rx="1.6" ry="0.8" transform="rotate(112 997 994)"/><ellipse cx="922" cy="145" rx="6.4" ry="5.0" transform="rotate(175 922 145)"/><ellipse cx="189" cy="599" rx="1.7" ry="1.3" transform="rotate(49 189 599)"/><ellipse cx="233" cy="953" rx="6.1" ry="4.8" transform="rotate(47 233 953)"/><ellipse cx="269" cy="2074" rx="4.4" ry="3.2" transform="rotate(16 269 2074)"/><ellipse cx="104" cy="1553" rx="3.6" ry="1.4" transform="rotate(169 104 1553)"/><ellipse cx="1142" cy="1808" rx="1.9" ry="1.6" transform="rotate(12 1142 1808)"/><ellipse cx="1553" cy="1024" rx="3.2" ry="2.1" transform="rotate(167 1553 1024)"/><ellipse cx="482" cy="292" rx="4.1" ry="2.0" transform="rotate(20 482 292)"/><ellipse cx="291" cy="114" rx="2.5" ry="1.3" transform="rotate(55 291 114)"/><ellipse cx="1367" cy="654" rx="4.0" ry="1.8" transform="rotate(62 1367 654)"/><ellipse cx="33" cy="565" rx="1.6" ry="1.2" transform="rotate(99 33 565)"/><ellipse cx="341" cy="1071" rx="6.2" ry="2.5" transform="rotate(147 341 1071)"/><ellipse cx="778" cy="1117" rx="5.7" ry="3.2" transform="rotate(91 778 1117)"/><ellipse cx="1238" cy="2216" rx="3.2" ry="2.6" transform="rotate(127 1238 2216)"/><ellipse cx="1145" cy="913" rx="3.2" ry="1.2" transform="rotate(23 1145 913)"/><ellipse cx="127" cy="1671" rx="2.8" ry="1.2" transform="rotate(15 127 1671)"/><ellipse cx="1514" cy="1964" rx="4.9" ry="2.5" transform="rotate(44 1514 1964)"/><ellipse cx="528" cy="1037" rx="2.3" ry="1.4" transform="rotate(47 528 1037)"/><ellipse cx="1731" cy="2194" rx="4.2" ry="2.1" transform="rotate(174 1731 2194)"/><ellipse cx="557" cy="804" rx="1.5" ry="0.8" transform="rotate(85 557 804)"/><ellipse cx="905" cy="453" rx="4.0" ry="1.4" transform="rotate(48 905 453)"/><ellipse cx="162" cy="901" rx="1.7" ry="0.6" transform="rotate(55 162 901)"/><ellipse cx="419" cy="1321" rx="4.1" ry="3.2" transform="rotate(118 419 1321)"/><ellipse cx="1289" cy="1983" rx="3.4" ry="1.8" transform="rotate(177 1289 1983)"/><ellipse cx="269" cy="1634" rx="4.7" ry="1.8" transform="rotate(150 269 1634)"/><ellipse cx="1605" cy="1415" rx="5.2" ry="4.1" transform="rotate(25 1605 1415)"/><ellipse cx="943" cy="1138" rx="5.7" ry="4.5" transform="rotate(149 943 1138)"/><ellipse cx="1051" cy="2014" rx="4.9" ry="3.6" transform="rotate(41 1051 2014)"/><ellipse cx="56" cy="300" rx="3.3" ry="1.3" transform="rotate(150 56 300)"/><ellipse cx="1005" cy="1416" rx="4.6" ry="3.4" transform="rotate(88 1005 1416)"/><ellipse cx="6" cy="1800" rx="5.2" ry="3.3" transform="rotate(96 6 1800)"/><ellipse cx="1187" cy="149" rx="5.2" ry="2.5" transform="rotate(13 1187 149)"/><ellipse cx="478" cy="1645" rx="2.5" ry="1.9" transform="rotate(176 478 1645)"/><ellipse cx="889" cy="863" rx="3.9" ry="2.8" transform="rotate(138 889 863)"/><ellipse cx="1111" cy="1450" rx="1.9" ry="0.8" transform="rotate(46 1111 1450)"/><ellipse cx="1338" cy="687" rx="4.3" ry="1.5" transform="rotate(11 1338 687)"/><ellipse cx="484" cy="1516" rx="5.0" ry="3.6" transform="rotate(52 484 1516)"/><ellipse cx="930" cy="1048" rx="3.8" ry="1.6" transform="rotate(161 930 1048)"/><ellipse cx="359" cy="2207" rx="6.2" ry="2.2" transform="rotate(83 359 2207)"/><ellipse cx="1476" cy="2184" rx="3.7" ry="1.9" transform="rotate(38 1476 2184)"/><ellipse cx="1702" cy="475" rx="4.4" ry="1.9" transform="rotate(94 1702 475)"/><ellipse cx="1715" cy="299" rx="5.6" ry="3.5" transform="rotate(160 1715 299)"/><ellipse cx="1266" cy="522" rx="6.0" ry="3.7" transform="rotate(4 1266 522)"/><ellipse cx="6" cy="1109" rx="3.8" ry="1.9" transform="rotate(25 6 1109)"/><ellipse cx="619" cy="713" rx="5.7" ry="2.0" transform="rotate(135 619 713)"/><ellipse cx="1510" cy="271" rx="6.1" ry="4.6" transform="rotate(162 1510 271)"/><ellipse cx="522" cy="840" rx="3.5" ry="3.1" transform="rotate(106 522 840)"/><ellipse cx="649" cy="966" rx="2.9" ry="1.1" transform="rotate(18 649 966)"/><ellipse cx="1502" cy="644" rx="6.2" ry="3.0" transform="rotate(48 1502 644)"/><ellipse cx="920" cy="428" rx="3.4" ry="2.9" transform="rotate(159 920 428)"/><ellipse cx="1462" cy="1423" rx="6.1" ry="5.3" transform="rotate(99 1462 1423)"/><ellipse cx="1295" cy="112" rx="5.2" ry="3.1" transform="rotate(135 1295 112)"/><ellipse cx="1160" cy="646" rx="1.7" ry="1.5" transform="rotate(23 1160 646)"/><ellipse cx="850" cy="775" rx="3.0" ry="2.3" transform="rotate(176 850 775)"/><ellipse cx="468" cy="1480" rx="3.0" ry="2.0" transform="rotate(71 468 1480)"/><ellipse cx="301" cy="365" rx="2.5" ry="2.2" transform="rotate(89 301 365)"/><ellipse cx="396" cy="2045" rx="6.5" ry="3.9" transform="rotate(25 396 2045)"/><ellipse cx="346" cy="205" rx="3.2" ry="1.3" transform="rotate(43 346 205)"/><ellipse cx="465" cy="1285" rx="5.9" ry="4.5" transform="rotate(74 465 1285)"/><ellipse cx="745" cy="1183" rx="3.4" ry="1.8" transform="rotate(11 745 1183)"/><ellipse cx="500" cy="2183" rx="2.1" ry="1.3" transform="rotate(113 500 2183)"/><ellipse cx="1553" cy="487" rx="2.9" ry="1.4" transform="rotate(72 1553 487)"/><ellipse cx="803" cy="2152" rx="5.7" ry="4.8" transform="rotate(4 803 2152)"/><ellipse cx="58" cy="1601" rx="6.0" ry="3.6" transform="rotate(106 58 1601)"/><ellipse cx="0" cy="883" rx="6.1" ry="4.9" transform="rotate(154 0 883)"/><ellipse cx="1750" cy="561" rx="2.0" ry="0.9" transform="rotate(94 1750 561)"/><ellipse cx="1228" cy="2124" rx="5.1" ry="3.6" transform="rotate(138 1228 2124)"/><ellipse cx="823" cy="1244" rx="1.7" ry="1.3" transform="rotate(42 823 1244)"/><ellipse cx="1656" cy="1456" rx="3.0" ry="1.3" transform="rotate(45 1656 1456)"/><ellipse cx="1145" cy="1576" rx="2.1" ry="0.8" transform="rotate(94 1145 1576)"/><ellipse cx="1049" cy="876" rx="2.6" ry="1.8" transform="rotate(2 1049 876)"/><ellipse cx="543" cy="1039" rx="6.3" ry="4.4" transform="rotate(159 543 1039)"/><ellipse cx="856" cy="530" rx="2.7" ry="2.4" transform="rotate(127 856 530)"/><ellipse cx="553" cy="49" rx="4.0" ry="2.9" transform="rotate(76 553 49)"/><ellipse cx="463" cy="1506" rx="6.1" ry="2.9" transform="rotate(6 463 1506)"/><ellipse cx="608" cy="949" rx="4.9" ry="2.3" transform="rotate(143 608 949)"/><ellipse cx="1330" cy="1139" rx="2.5" ry="2.2" transform="rotate(56 1330 1139)"/><ellipse cx="1476" cy="521" rx="2.6" ry="2.0" transform="rotate(53 1476 521)"/><ellipse cx="1713" cy="1118" rx="2.4" ry="1.2" transform="rotate(75 1713 1118)"/><ellipse cx="1198" cy="2140" rx="2.2" ry="1.3" transform="rotate(38 1198 2140)"/><ellipse cx="1753" cy="320" rx="1.8" ry="0.7" transform="rotate(71 1753 320)"/><ellipse cx="1617" cy="1993" rx="5.2" ry="4.6" transform="rotate(168 1617 1993)"/><ellipse cx="593" cy="419" rx="6.2" ry="4.7" transform="rotate(6 593 419)"/><ellipse cx="1196" cy="854" rx="3.4" ry="1.8" transform="rotate(30 1196 854)"/><ellipse cx="5" cy="631" rx="3.3" ry="2.9" transform="rotate(22 5 631)"/><ellipse cx="1736" cy="468" rx="3.3" ry="2.6" transform="rotate(148 1736 468)"/><ellipse cx="778" cy="111" rx="3.9" ry="2.1" transform="rotate(166 778 111)"/><ellipse cx="347" cy="822" rx="6.0" ry="2.2" transform="rotate(74 347 822)"/><ellipse cx="1461" cy="1730" rx="1.7" ry="0.6" transform="rotate(11 1461 1730)"/><ellipse cx="1656" cy="580" rx="5.2" ry="4.4" transform="rotate(61 1656 580)"/><ellipse cx="490" cy="2161" rx="4.6" ry="2.3" transform="rotate(129 490 2161)"/><ellipse cx="570" cy="622" rx="1.5" ry="1.2" transform="rotate(165 570 622)"/><ellipse cx="1141" cy="2128" rx="1.6" ry="0.8" transform="rotate(86 1141 2128)"/><ellipse cx="1722" cy="2152" rx="3.4" ry="1.7" transform="rotate(77 1722 2152)"/><ellipse cx="888" cy="2094" rx="2.4" ry="1.9" transform="rotate(133 888 2094)"/><ellipse cx="1481" cy="1743" rx="4.5" ry="2.4" transform="rotate(58 1481 1743)"/><ellipse cx="651" cy="1765" rx="1.9" ry="0.9" transform="rotate(136 651 1765)"/><ellipse cx="445" cy="146" rx="1.7" ry="1.1" transform="rotate(59 445 146)"/><ellipse cx="1764" cy="1993" rx="6.4" ry="3.2" transform="rotate(15 1764 1993)"/><ellipse cx="174" cy="1125" rx="5.0" ry="3.0" transform="rotate(42 174 1125)"/><ellipse cx="750" cy="1399" rx="4.9" ry="3.7" transform="rotate(152 750 1399)"/><ellipse cx="1196" cy="273" rx="5.7" ry="2.9" transform="rotate(102 1196 273)"/><ellipse cx="671" cy="1665" rx="2.5" ry="1.2" transform="rotate(44 671 1665)"/><ellipse cx="276" cy="1995" rx="4.4" ry="2.3" transform="rotate(71 276 1995)"/><ellipse cx="1786" cy="1145" rx="2.7" ry="2.1" transform="rotate(118 1786 1145)"/><ellipse cx="1784" cy="231" rx="3.9" ry="3.1" transform="rotate(151 1784 231)"/><ellipse cx="1646" cy="91" rx="3.0" ry="1.2" transform="rotate(34 1646 91)"/><ellipse cx="1751" cy="1316" rx="6.2" ry="3.4" transform="rotate(156 1751 1316)"/><ellipse cx="808" cy="586" rx="5.4" ry="4.7" transform="rotate(19 808 586)"/><ellipse cx="1073" cy="1399" rx="2.6" ry="1.4" transform="rotate(25 1073 1399)"/><ellipse cx="367" cy="575" rx="4.5" ry="3.2" transform="rotate(37 367 575)"/><ellipse cx="20" cy="738" rx="4.9" ry="2.2" transform="rotate(56 20 738)"/><ellipse cx="366" cy="1794" rx="4.2" ry="1.6" transform="rotate(18 366 1794)"/><ellipse cx="712" cy="1241" rx="4.7" ry="1.9" transform="rotate(29 712 1241)"/><ellipse cx="1252" cy="924" rx="2.9" ry="1.5" transform="rotate(172 1252 924)"/><ellipse cx="562" cy="1278" rx="3.3" ry="1.9" transform="rotate(156 562 1278)"/><ellipse cx="1794" cy="821" rx="2.5" ry="1.9" transform="rotate(37 1794 821)"/><ellipse cx="11" cy="2034" rx="3.6" ry="2.9" transform="rotate(73 11 2034)"/><ellipse cx="1589" cy="1040" rx="2.3" ry="0.8" transform="rotate(99 1589 1040)"/><ellipse cx="1153" cy="2052" rx="1.9" ry="1.3" transform="rotate(67 1153 2052)"/><ellipse cx="908" cy="329" rx="2.9" ry="1.9" transform="rotate(167 908 329)"/><ellipse cx="196" cy="1107" rx="5.5" ry="4.9" transform="rotate(36 196 1107)"/><ellipse cx="228" cy="2128" rx="6.4" ry="3.9" transform="rotate(10 228 2128)"/><ellipse cx="1667" cy="875" rx="6.0" ry="4.2" transform="rotate(148 1667 875)"/><ellipse cx="288" cy="1773" rx="2.6" ry="1.5" transform="rotate(152 288 1773)"/><ellipse cx="1493" cy="413" rx="2.6" ry="1.5" transform="rotate(93 1493 413)"/><ellipse cx="690" cy="278" rx="2.7" ry="2.0" transform="rotate(162 690 278)"/><ellipse cx="74" cy="1269" rx="5.3" ry="2.0" transform="rotate(151 74 1269)"/><ellipse cx="212" cy="1353" rx="4.3" ry="3.0" transform="rotate(55 212 1353)"/><ellipse cx="756" cy="1314" rx="3.6" ry="2.6" transform="rotate(80 756 1314)"/><ellipse cx="789" cy="53" rx="4.6" ry="2.8" transform="rotate(42 789 53)"/><ellipse cx="1374" cy="1760" rx="3.8" ry="1.7" transform="rotate(85 1374 1760)"/><ellipse cx="193" cy="290" rx="3.7" ry="1.5" transform="rotate(80 193 290)"/><ellipse cx="918" cy="92" rx="4.7" ry="1.9" transform="rotate(132 918 92)"/><ellipse cx="1400" cy="1154" rx="1.8" ry="1.1" transform="rotate(68 1400 1154)"/><ellipse cx="1712" cy="307" rx="5.8" ry="5.2" transform="rotate(132 1712 307)"/><ellipse cx="1467" cy="437" rx="6.4" ry="4.0" transform="rotate(172 1467 437)"/><ellipse cx="1649" cy="372" rx="5.4" ry="4.7" transform="rotate(12 1649 372)"/><ellipse cx="632" cy="1706" rx="2.3" ry="1.9" transform="rotate(49 632 1706)"/><ellipse cx="1468" cy="324" rx="4.0" ry="3.4" transform="rotate(37 1468 324)"/><ellipse cx="473" cy="1142" rx="3.1" ry="1.1" transform="rotate(33 473 1142)"/><ellipse cx="290" cy="2113" rx="4.9" ry="4.1" transform="rotate(30 290 2113)"/><ellipse cx="1413" cy="260" rx="4.2" ry="2.9" transform="rotate(65 1413 260)"/><ellipse cx="1571" cy="1252" rx="4.4" ry="3.7" transform="rotate(19 1571 1252)"/><ellipse cx="1787" cy="1421" rx="3.5" ry="2.7" transform="rotate(48 1787 1421)"/><ellipse cx="1783" cy="1303" rx="3.3" ry="2.5" transform="rotate(80 1783 1303)"/><ellipse cx="318" cy="1678" rx="1.7" ry="1.4" transform="rotate(46 318 1678)"/><ellipse cx="1151" cy="2220" rx="4.4" ry="3.2" transform="rotate(56 1151 2220)"/><ellipse cx="3" cy="76" rx="2.2" ry="1.5" transform="rotate(78 3 76)"/><ellipse cx="923" cy="2020" rx="2.2" ry="1.0" transform="rotate(118 923 2020)"/><ellipse cx="40" cy="6" rx="3.3" ry="1.3" transform="rotate(64 40 6)"/><ellipse cx="404" cy="1317" rx="4.4" ry="2.1" transform="rotate(112 404 1317)"/><ellipse cx="855" cy="304" rx="6.2" ry="3.0" transform="rotate(27 855 304)"/><ellipse cx="172" cy="1440" rx="5.9" ry="4.6" transform="rotate(72 172 1440)"/><ellipse cx="476" cy="26" rx="4.7" ry="3.1" transform="rotate(63 476 26)"/><ellipse cx="1162" cy="1001" rx="6.2" ry="4.7" transform="rotate(45 1162 1001)"/><ellipse cx="1626" cy="99" rx="4.2" ry="2.4" transform="rotate(43 1626 99)"/><ellipse cx="105" cy="1757" rx="1.6" ry="1.0" transform="rotate(169 105 1757)"/><ellipse cx="256" cy="450" rx="4.5" ry="2.9" transform="rotate(115 256 450)"/><ellipse cx="1464" cy="394" rx="3.0" ry="1.6" transform="rotate(9 1464 394)"/><ellipse cx="1601" cy="1766" rx="5.1" ry="1.8" transform="rotate(152 1601 1766)"/><ellipse cx="1341" cy="1050" rx="5.2" ry="3.1" transform="rotate(41 1341 1050)"/><ellipse cx="190" cy="524" rx="1.7" ry="0.9" transform="rotate(135 190 524)"/><ellipse cx="1251" cy="1907" rx="5.1" ry="2.5" transform="rotate(100 1251 1907)"/><ellipse cx="785" cy="1779" rx="4.1" ry="2.0" transform="rotate(116 785 1779)"/><ellipse cx="1737" cy="490" rx="5.9" ry="2.1" transform="rotate(47 1737 490)"/><ellipse cx="425" cy="1678" rx="6.2" ry="4.7" transform="rotate(59 425 1678)"/><ellipse cx="1584" cy="741" rx="2.7" ry="2.3" transform="rotate(114 1584 741)"/><ellipse cx="1247" cy="1501" rx="6.4" ry="3.9" transform="rotate(151 1247 1501)"/><ellipse cx="1256" cy="1935" rx="3.7" ry="2.8" transform="rotate(103 1256 1935)"/><ellipse cx="554" cy="478" rx="4.6" ry="1.8" transform="rotate(164 554 478)"/><ellipse cx="260" cy="61" rx="2.0" ry="1.8" transform="rotate(62 260 61)"/><ellipse cx="255" cy="65" rx="1.7" ry="1.2" transform="rotate(114 255 65)"/><ellipse cx="1255" cy="1662" rx="1.8" ry="1.2" transform="rotate(65 1255 1662)"/><ellipse cx="1472" cy="1849" rx="6.0" ry="2.3" transform="rotate(156 1472 1849)"/><ellipse cx="1646" cy="2130" rx="2.0" ry="0.9" transform="rotate(20 1646 2130)"/><ellipse cx="62" cy="1912" rx="5.6" ry="3.9" transform="rotate(149 62 1912)"/><ellipse cx="1137" cy="648" rx="2.0" ry="0.8" transform="rotate(136 1137 648)"/><ellipse cx="369" cy="720" rx="3.6" ry="1.3" transform="rotate(46 369 720)"/><ellipse cx="509" cy="1615" rx="3.3" ry="1.8" transform="rotate(174 509 1615)"/><ellipse cx="907" cy="1921" rx="4.6" ry="1.7" transform="rotate(74 907 1921)"/><ellipse cx="786" cy="1744" rx="3.2" ry="2.4" transform="rotate(97 786 1744)"/><ellipse cx="390" cy="1945" rx="2.0" ry="1.6" transform="rotate(31 390 1945)"/><ellipse cx="2" cy="456" rx="5.3" ry="4.7" transform="rotate(1 2 456)"/><ellipse cx="883" cy="1109" rx="5.5" ry="2.5" transform="rotate(89 883 1109)"/><ellipse cx="625" cy="1877" rx="2.8" ry="2.4" transform="rotate(51 625 1877)"/><ellipse cx="386" cy="1578" rx="4.0" ry="1.6" transform="rotate(115 386 1578)"/><ellipse cx="146" cy="1778" rx="5.0" ry="3.9" transform="rotate(113 146 1778)"/><ellipse cx="640" cy="905" rx="3.5" ry="2.9" transform="rotate(16 640 905)"/><ellipse cx="1599" cy="57" rx="2.5" ry="1.3" transform="rotate(162 1599 57)"/><ellipse cx="902" cy="856" rx="5.9" ry="2.8" transform="rotate(83 902 856)"/><ellipse cx="957" cy="1702" rx="5.3" ry="3.7" transform="rotate(63 957 1702)"/><ellipse cx="588" cy="350" rx="5.7" ry="4.1" transform="rotate(134 588 350)"/><ellipse cx="305" cy="990" rx="5.4" ry="3.6" transform="rotate(23 305 990)"/><ellipse cx="832" cy="1997" rx="2.7" ry="1.2" transform="rotate(54 832 1997)"/><ellipse cx="1266" cy="1903" rx="2.3" ry="1.0" transform="rotate(45 1266 1903)"/><ellipse cx="588" cy="1178" rx="2.3" ry="1.2" transform="rotate(34 588 1178)"/><ellipse cx="1755" cy="1644" rx="2.0" ry="1.8" transform="rotate(18 1755 1644)"/><ellipse cx="692" cy="2220" rx="5.5" ry="4.1" transform="rotate(78 692 2220)"/><ellipse cx="353" cy="1439" rx="2.0" ry="0.9" transform="rotate(70 353 1439)"/><ellipse cx="61" cy="900" rx="5.5" ry="4.0" transform="rotate(90 61 900)"/><ellipse cx="1138" cy="1045" rx="2.2" ry="1.5" transform="rotate(73 1138 1045)"/><ellipse cx="1334" cy="2048" rx="3.7" ry="2.4" transform="rotate(135 1334 2048)"/><ellipse cx="758" cy="516" rx="5.1" ry="4.3" transform="rotate(139 758 516)"/><ellipse cx="1260" cy="1923" rx="4.9" ry="3.4" transform="rotate(82 1260 1923)"/><ellipse cx="563" cy="1417" rx="2.0" ry="1.2" transform="rotate(141 563 1417)"/><ellipse cx="1284" cy="1420" rx="2.8" ry="1.6" transform="rotate(82 1284 1420)"/><ellipse cx="1119" cy="923" rx="4.9" ry="4.2" transform="rotate(33 1119 923)"/><ellipse cx="1178" cy="1756" rx="3.4" ry="2.1" transform="rotate(175 1178 1756)"/><ellipse cx="69" cy="1226" rx="2.3" ry="1.8" transform="rotate(169 69 1226)"/><ellipse cx="935" cy="228" rx="4.4" ry="2.8" transform="rotate(129 935 228)"/><ellipse cx="922" cy="1442" rx="5.6" ry="3.6" transform="rotate(74 922 1442)"/><ellipse cx="1706" cy="474" rx="4.9" ry="2.8" transform="rotate(137 1706 474)"/><ellipse cx="220" cy="2221" rx="3.3" ry="1.2" transform="rotate(49 220 2221)"/><ellipse cx="719" cy="30" rx="3.6" ry="2.1" transform="rotate(126 719 30)"/><ellipse cx="634" cy="598" rx="2.6" ry="2.0" transform="rotate(169 634 598)"/><ellipse cx="949" cy="494" rx="5.5" ry="3.1" transform="rotate(38 949 494)"/><ellipse cx="233" cy="1752" rx="5.5" ry="3.9" transform="rotate(84 233 1752)"/><ellipse cx="1012" cy="510" rx="6.3" ry="3.4" transform="rotate(115 1012 510)"/><ellipse cx="1474" cy="1841" rx="3.8" ry="2.0" transform="rotate(99 1474 1841)"/><ellipse cx="225" cy="1881" rx="3.3" ry="2.7" transform="rotate(48 225 1881)"/><ellipse cx="677" cy="572" rx="3.6" ry="1.6" transform="rotate(0 677 572)"/><ellipse cx="1299" cy="634" rx="2.7" ry="1.4" transform="rotate(86 1299 634)"/><ellipse cx="771" cy="1438" rx="4.8" ry="2.6" transform="rotate(167 771 1438)"/><ellipse cx="1538" cy="129" rx="5.6" ry="4.8" transform="rotate(141 1538 129)"/><ellipse cx="253" cy="1875" rx="4.7" ry="1.7" transform="rotate(2 253 1875)"/><ellipse cx="1713" cy="1480" rx="2.8" ry="1.1" transform="rotate(26 1713 1480)"/><ellipse cx="421" cy="1751" rx="3.2" ry="1.4" transform="rotate(163 421 1751)"/><ellipse cx="1425" cy="379" rx="6.0" ry="4.1" transform="rotate(141 1425 379)"/><ellipse cx="1203" cy="2017" rx="5.4" ry="4.4" transform="rotate(36 1203 2017)"/><ellipse cx="1247" cy="1197" rx="5.2" ry="3.1" transform="rotate(159 1247 1197)"/><ellipse cx="999" cy="597" rx="2.7" ry="1.1" transform="rotate(89 999 597)"/><ellipse cx="105" cy="1054" rx="2.2" ry="1.4" transform="rotate(90 105 1054)"/><ellipse cx="971" cy="1947" rx="1.5" ry="1.2" transform="rotate(84 971 1947)"/><ellipse cx="1013" cy="1501" rx="5.7" ry="3.2" transform="rotate(75 1013 1501)"/><ellipse cx="1729" cy="170" rx="4.7" ry="3.3" transform="rotate(5 1729 170)"/><ellipse cx="1097" cy="1540" rx="6.2" ry="3.3" transform="rotate(177 1097 1540)"/><ellipse cx="919" cy="1093" rx="6.0" ry="2.2" transform="rotate(129 919 1093)"/><ellipse cx="1126" cy="764" rx="5.8" ry="3.2" transform="rotate(85 1126 764)"/><ellipse cx="946" cy="1738" rx="2.6" ry="1.5" transform="rotate(76 946 1738)"/><ellipse cx="997" cy="1865" rx="3.0" ry="2.4" transform="rotate(73 997 1865)"/><ellipse cx="907" cy="613" rx="4.0" ry="3.6" transform="rotate(118 907 613)"/><ellipse cx="1426" cy="747" rx="3.1" ry="1.6" transform="rotate(106 1426 747)"/><ellipse cx="1143" cy="1769" rx="1.7" ry="1.3" transform="rotate(159 1143 1769)"/><ellipse cx="982" cy="112" rx="3.0" ry="1.1" transform="rotate(34 982 112)"/><ellipse cx="1659" cy="1373" rx="4.8" ry="3.8" transform="rotate(164 1659 1373)"/><ellipse cx="1101" cy="1391" rx="4.6" ry="3.4" transform="rotate(107 1101 1391)"/><ellipse cx="1226" cy="479" rx="4.8" ry="2.9" transform="rotate(137 1226 479)"/><ellipse cx="182" cy="409" rx="1.7" ry="1.3" transform="rotate(165 182 409)"/><ellipse cx="1180" cy="832" rx="5.6" ry="4.4" transform="rotate(101 1180 832)"/><ellipse cx="464" cy="681" rx="3.6" ry="1.9" transform="rotate(78 464 681)"/><ellipse cx="1155" cy="2107" rx="1.8" ry="1.2" transform="rotate(7 1155 2107)"/><ellipse cx="214" cy="1828" rx="4.4" ry="3.7" transform="rotate(80 214 1828)"/><ellipse cx="25" cy="873" rx="4.5" ry="3.9" transform="rotate(177 25 873)"/><ellipse cx="856" cy="930" rx="2.0" ry="1.4" transform="rotate(38 856 930)"/><ellipse cx="273" cy="35" rx="1.5" ry="1.1" transform="rotate(22 273 35)"/><ellipse cx="1739" cy="199" rx="5.8" ry="2.5" transform="rotate(3 1739 199)"/><ellipse cx="1295" cy="547" rx="5.2" ry="2.3" transform="rotate(9 1295 547)"/><ellipse cx="1393" cy="1610" rx="5.8" ry="4.3" transform="rotate(15 1393 1610)"/><ellipse cx="1132" cy="1600" rx="3.8" ry="3.3" transform="rotate(46 1132 1600)"/><ellipse cx="1736" cy="1618" rx="1.6" ry="0.6" transform="rotate(117 1736 1618)"/><ellipse cx="1471" cy="180" rx="3.1" ry="2.3" transform="rotate(30 1471 180)"/><ellipse cx="1550" cy="1097" rx="1.8" ry="1.0" transform="rotate(103 1550 1097)"/><ellipse cx="790" cy="1527" rx="2.2" ry="1.8" transform="rotate(65 790 1527)"/><ellipse cx="1161" cy="1421" rx="3.6" ry="2.0" transform="rotate(142 1161 1421)"/><ellipse cx="1701" cy="1770" rx="4.3" ry="2.2" transform="rotate(11 1701 1770)"/><ellipse cx="1753" cy="1587" rx="5.6" ry="3.0" transform="rotate(109 1753 1587)"/><ellipse cx="1759" cy="1875" rx="4.5" ry="2.3" transform="rotate(77 1759 1875)"/><ellipse cx="1599" cy="850" rx="4.9" ry="3.4" transform="rotate(161 1599 850)"/><ellipse cx="1453" cy="639" rx="1.5" ry="0.7" transform="rotate(76 1453 639)"/><ellipse cx="1056" cy="1841" rx="5.9" ry="2.2" transform="rotate(150 1056 1841)"/><ellipse cx="1461" cy="1956" rx="4.4" ry="2.2" transform="rotate(153 1461 1956)"/><ellipse cx="1453" cy="1545" rx="6.1" ry="3.3" transform="rotate(15 1453 1545)"/><ellipse cx="997" cy="1799" rx="2.5" ry="1.9" transform="rotate(168 997 1799)"/><ellipse cx="421" cy="1369" rx="4.9" ry="3.0" transform="rotate(37 421 1369)"/><ellipse cx="459" cy="1695" rx="5.5" ry="3.3" transform="rotate(16 459 1695)"/><ellipse cx="1452" cy="1742" rx="2.7" ry="1.8" transform="rotate(161 1452 1742)"/><ellipse cx="1593" cy="1177" rx="3.9" ry="2.6" transform="rotate(34 1593 1177)"/><ellipse cx="346" cy="408" rx="5.0" ry="2.8" transform="rotate(102 346 408)"/><ellipse cx="724" cy="1167" rx="2.2" ry="0.8" transform="rotate(179 724 1167)"/><ellipse cx="673" cy="239" rx="4.7" ry="3.7" transform="rotate(28 673 239)"/><ellipse cx="1075" cy="778" rx="4.1" ry="1.5" transform="rotate(6 1075 778)"/><ellipse cx="1783" cy="1954" rx="3.9" ry="2.6" transform="rotate(47 1783 1954)"/><ellipse cx="1403" cy="961" rx="6.2" ry="4.8" transform="rotate(147 1403 961)"/><ellipse cx="1734" cy="573" rx="1.7" ry="0.8" transform="rotate(33 1734 573)"/><ellipse cx="151" cy="115" rx="4.3" ry="3.6" transform="rotate(82 151 115)"/><ellipse cx="1705" cy="2053" rx="1.8" ry="1.2" transform="rotate(72 1705 2053)"/><ellipse cx="216" cy="2164" rx="2.8" ry="1.8" transform="rotate(115 216 2164)"/><ellipse cx="1722" cy="1511" rx="3.5" ry="2.1" transform="rotate(29 1722 1511)"/><ellipse cx="1738" cy="2237" rx="2.6" ry="1.0" transform="rotate(46 1738 2237)"/><ellipse cx="634" cy="2037" rx="6.0" ry="4.9" transform="rotate(8 634 2037)"/><ellipse cx="1415" cy="1601" rx="4.7" ry="4.2" transform="rotate(10 1415 1601)"/><ellipse cx="261" cy="1703" rx="6.2" ry="4.5" transform="rotate(54 261 1703)"/><ellipse cx="1065" cy="1710" rx="2.0" ry="1.1" transform="rotate(46 1065 1710)"/><ellipse cx="223" cy="1086" rx="2.3" ry="1.1" transform="rotate(26 223 1086)"/><ellipse cx="1220" cy="28" rx="5.1" ry="2.3" transform="rotate(6 1220 28)"/><ellipse cx="1670" cy="498" rx="6.2" ry="5.1" transform="rotate(160 1670 498)"/><ellipse cx="252" cy="1009" rx="2.0" ry="1.7" transform="rotate(152 252 1009)"/><ellipse cx="1131" cy="1020" rx="3.2" ry="2.6" transform="rotate(86 1131 1020)"/><ellipse cx="1131" cy="322" rx="2.6" ry="1.0" transform="rotate(128 1131 322)"/><ellipse cx="996" cy="326" rx="5.9" ry="2.9" transform="rotate(74 996 326)"/><ellipse cx="280" cy="612" rx="5.7" ry="3.0" transform="rotate(30 280 612)"/><ellipse cx="884" cy="718" rx="6.0" ry="2.5" transform="rotate(176 884 718)"/><ellipse cx="102" cy="2019" rx="4.8" ry="2.3" transform="rotate(86 102 2019)"/><ellipse cx="515" cy="582" rx="2.5" ry="1.4" transform="rotate(178 515 582)"/><ellipse cx="1797" cy="2087" rx="2.0" ry="1.0" transform="rotate(161 1797 2087)"/><ellipse cx="103" cy="1639" rx="3.0" ry="2.6" transform="rotate(3 103 1639)"/><ellipse cx="1453" cy="769" rx="2.2" ry="0.8" transform="rotate(150 1453 769)"/><ellipse cx="948" cy="419" rx="3.7" ry="3.1" transform="rotate(39 948 419)"/><ellipse cx="1028" cy="311" rx="2.4" ry="1.9" transform="rotate(128 1028 311)"/><ellipse cx="354" cy="179" rx="1.9" ry="1.3" transform="rotate(89 354 179)"/><ellipse cx="493" cy="465" rx="4.6" ry="3.4" transform="rotate(146 493 465)"/><ellipse cx="1049" cy="456" rx="1.8" ry="1.4" transform="rotate(73 1049 456)"/><ellipse cx="1299" cy="125" rx="5.6" ry="3.0" transform="rotate(152 1299 125)"/><ellipse cx="1556" cy="1112" rx="1.6" ry="1.3" transform="rotate(86 1556 1112)"/><ellipse cx="1570" cy="601" rx="2.4" ry="2.0" transform="rotate(66 1570 601)"/><ellipse cx="294" cy="837" rx="4.5" ry="1.6" transform="rotate(94 294 837)"/><ellipse cx="802" cy="1163" rx="2.1" ry="1.6" transform="rotate(147 802 1163)"/><ellipse cx="1558" cy="724" rx="5.1" ry="2.8" transform="rotate(135 1558 724)"/><ellipse cx="110" cy="1969" rx="6.3" ry="3.9" transform="rotate(92 110 1969)"/><ellipse cx="955" cy="1212" rx="1.6" ry="1.4" transform="rotate(40 955 1212)"/><ellipse cx="328" cy="232" rx="2.8" ry="2.2" transform="rotate(5 328 232)"/><ellipse cx="174" cy="1577" rx="2.5" ry="0.9" transform="rotate(108 174 1577)"/><ellipse cx="1038" cy="1180" rx="5.0" ry="2.0" transform="rotate(157 1038 1180)"/><ellipse cx="1291" cy="102" rx="2.1" ry="1.3" transform="rotate(90 1291 102)"/><ellipse cx="503" cy="275" rx="3.5" ry="1.5" transform="rotate(107 503 275)"/><ellipse cx="1550" cy="332" rx="4.4" ry="3.3" transform="rotate(30 1550 332)"/><ellipse cx="1487" cy="2115" rx="3.4" ry="2.0" transform="rotate(151 1487 2115)"/><ellipse cx="946" cy="893" rx="6.2" ry="4.8" transform="rotate(61 946 893)"/><ellipse cx="433" cy="756" rx="3.7" ry="3.3" transform="rotate(145 433 756)"/><ellipse cx="1643" cy="1839" rx="5.7" ry="2.2" transform="rotate(93 1643 1839)"/><ellipse cx="1724" cy="2108" rx="2.7" ry="1.6" transform="rotate(114 1724 2108)"/><ellipse cx="656" cy="1197" rx="1.8" ry="1.1" transform="rotate(91 656 1197)"/><ellipse cx="37" cy="315" rx="6.3" ry="4.9" transform="rotate(169 37 315)"/><ellipse cx="1140" cy="1826" rx="5.9" ry="5.0" transform="rotate(6 1140 1826)"/><ellipse cx="1155" cy="600" rx="4.9" ry="2.4" transform="rotate(98 1155 600)"/><ellipse cx="1664" cy="1402" rx="2.8" ry="1.8" transform="rotate(78 1664 1402)"/><ellipse cx="1712" cy="649" rx="3.0" ry="2.1" transform="rotate(22 1712 649)"/><ellipse cx="1070" cy="2157" rx="4.1" ry="2.0" transform="rotate(84 1070 2157)"/><ellipse cx="961" cy="335" rx="2.1" ry="0.9" transform="rotate(53 961 335)"/><ellipse cx="732" cy="650" rx="2.7" ry="1.1" transform="rotate(98 732 650)"/><ellipse cx="1512" cy="1376" rx="4.4" ry="3.1" transform="rotate(36 1512 1376)"/><ellipse cx="1279" cy="1040" rx="4.2" ry="2.9" transform="rotate(84 1279 1040)"/><ellipse cx="559" cy="547" rx="2.6" ry="1.6" transform="rotate(69 559 547)"/><ellipse cx="1054" cy="27" rx="3.3" ry="2.7" transform="rotate(43 1054 27)"/><ellipse cx="1002" cy="1109" rx="2.9" ry="2.6" transform="rotate(53 1002 1109)"/><ellipse cx="1390" cy="358" rx="1.8" ry="1.5" transform="rotate(79 1390 358)"/><ellipse cx="112" cy="875" rx="3.7" ry="2.8" transform="rotate(20 112 875)"/><ellipse cx="405" cy="2164" rx="5.2" ry="2.3" transform="rotate(61 405 2164)"/><ellipse cx="634" cy="1524" rx="4.6" ry="3.7" transform="rotate(148 634 1524)"/><ellipse cx="932" cy="1667" rx="5.2" ry="4.0" transform="rotate(86 932 1667)"/><ellipse cx="1413" cy="1598" rx="6.1" ry="2.6" transform="rotate(157 1413 1598)"/><ellipse cx="8" cy="1727" rx="4.4" ry="2.8" transform="rotate(173 8 1727)"/><ellipse cx="1030" cy="943" rx="5.4" ry="4.5" transform="rotate(109 1030 943)"/><ellipse cx="683" cy="1020" rx="3.8" ry="2.8" transform="rotate(53 683 1020)"/></g></svg>
</body></html>
